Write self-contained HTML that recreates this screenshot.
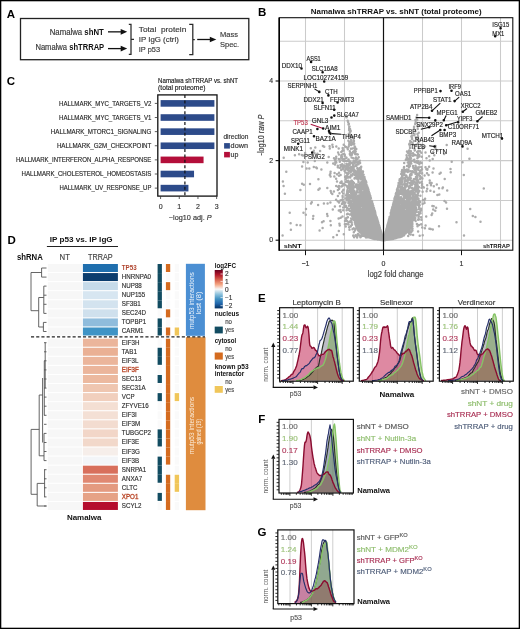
<!DOCTYPE html>
<html><head><meta charset="utf-8"><style>
html,body{margin:0;padding:0;background:#fff;}
svg{display:block;font-family:"Liberation Sans", sans-serif;will-change:transform;}
</style></head><body>
<svg width="520" height="629" viewBox="0 0 520 629">
<rect x="0" y="0" width="520" height="629" fill="#fff"/>
<text x="6.80" y="18.00" font-size="11.5" fill="#000" font-weight="bold">A</text>
<text x="258.00" y="16.10" font-size="11.5" fill="#000" font-weight="bold">B</text>
<text x="6.80" y="84.60" font-size="11.5" fill="#000" font-weight="bold">C</text>
<text x="7.60" y="244.40" font-size="11.5" fill="#000" font-weight="bold">D</text>
<text x="258.00" y="302.00" font-size="11.5" fill="#000" font-weight="bold">E</text>
<text x="258.30" y="422.70" font-size="11.5" fill="#000" font-weight="bold">F</text>
<text x="257.60" y="535.50" font-size="11.5" fill="#000" font-weight="bold">G</text>
<rect x="20.50" y="18.50" width="228.30" height="41.20" fill="none" stroke="#222" stroke-width="1.3" />
<text x="49.7" y="34.5" font-size="8.4" fill="#333" textLength="54.1" lengthAdjust="spacingAndGlyphs"><tspan stroke="#333" stroke-width="0.15">Namalwa </tspan><tspan font-weight="bold" fill="#111">shNT</tspan></text>
<text x="35.4" y="50.4" font-size="8.4" fill="#333" textLength="68.8" lengthAdjust="spacingAndGlyphs"><tspan stroke="#333" stroke-width="0.15">Namalwa </tspan><tspan font-weight="bold" fill="#111">shTRRAP</tspan></text>
<line x1="108.00" y1="31.85" x2="121.70" y2="31.85" stroke="#111" stroke-width="1.3" />
<path d="M120.70,29.05 L127.20,31.85 L120.70,34.65 Z" fill="#111"/>
<line x1="108.00" y1="48.60" x2="121.70" y2="48.60" stroke="#111" stroke-width="1.3" />
<path d="M120.70,45.80 L127.20,48.60 L120.70,51.40 Z" fill="#111"/>
<path d="M128.8,24.4 H131 V54.3 H128.8 M131,39.4 H134" fill="none" stroke="#2a2a2a" stroke-width="1.25"/>
<path d="M189.2,24.4 H192.8 V54.6 H189.2 M192.8,39.5 H194.8" fill="none" stroke="#2a2a2a" stroke-width="1.25"/>
<line x1="197.20" y1="39.50" x2="210.80" y2="39.50" stroke="#111" stroke-width="1.3" />
<path d="M209.80,36.70 L216.30,39.50 L209.80,42.30 Z" fill="#111"/>
<text x="138.80" y="31.80" font-size="7.6" fill="#383838" textLength="47.50" lengthAdjust="spacingAndGlyphs" stroke="#383838" stroke-width="0.15">Total&#160;&#160;protein</text>
<text x="138.80" y="42.20" font-size="7.6" fill="#383838" textLength="40.00" lengthAdjust="spacingAndGlyphs" stroke="#383838" stroke-width="0.15">IP IgG (ctrl)</text>
<text x="138.80" y="52.00" font-size="7.6" fill="#383838" textLength="21.30" lengthAdjust="spacingAndGlyphs" stroke="#383838" stroke-width="0.15">IP p53</text>
<text x="220.00" y="37.20" font-size="7.6" fill="#383838" textLength="17.90" lengthAdjust="spacingAndGlyphs" stroke="#383838" stroke-width="0.15">Mass</text>
<text x="220.00" y="47.30" font-size="7.6" fill="#383838" textLength="19.20" lengthAdjust="spacingAndGlyphs" stroke="#383838" stroke-width="0.15">Spec.</text>
<text x="158.10" y="83.10" font-size="6.6" fill="#222" textLength="80.00" lengthAdjust="spacingAndGlyphs" stroke="#222" stroke-width="0.15">Namalwa shTRRAP vs. shNT</text>
<text x="158.10" y="90.00" font-size="6.6" fill="#222" textLength="47.30" lengthAdjust="spacingAndGlyphs" stroke="#222" stroke-width="0.15">(total proteome)</text>
<rect x="157.80" y="94.90" width="59.20" height="101.20" fill="none" stroke="#111" stroke-width="1.3" />
<rect x="160.60" y="100.10" width="53.80" height="6.60" fill="#2d4b8a" />
<line x1="154.80" y1="103.40" x2="157.80" y2="103.40" stroke="#333" stroke-width="0.8" />
<text x="59.10" y="105.70" font-size="6.5" fill="#2a2a2a" textLength="92.30" lengthAdjust="spacingAndGlyphs" stroke="#2a2a2a" stroke-width="0.15">HALLMARK_MYC_TARGETS_V2</text>
<rect x="160.60" y="114.22" width="53.80" height="6.60" fill="#2d4b8a" />
<line x1="154.80" y1="117.52" x2="157.80" y2="117.52" stroke="#333" stroke-width="0.8" />
<text x="59.10" y="119.82" font-size="6.5" fill="#2a2a2a" textLength="92.30" lengthAdjust="spacingAndGlyphs" stroke="#2a2a2a" stroke-width="0.15">HALLMARK_MYC_TARGETS_V1</text>
<rect x="160.60" y="128.34" width="53.80" height="6.60" fill="#2d4b8a" />
<line x1="154.80" y1="131.64" x2="157.80" y2="131.64" stroke="#333" stroke-width="0.8" />
<text x="50.80" y="133.94" font-size="6.5" fill="#2a2a2a" textLength="100.60" lengthAdjust="spacingAndGlyphs" stroke="#2a2a2a" stroke-width="0.15">HALLMARK_MTORC1_SIGNALING</text>
<rect x="160.60" y="142.46" width="53.80" height="6.60" fill="#2d4b8a" />
<line x1="154.80" y1="145.76" x2="157.80" y2="145.76" stroke="#333" stroke-width="0.8" />
<text x="56.90" y="148.06" font-size="6.5" fill="#2a2a2a" textLength="94.50" lengthAdjust="spacingAndGlyphs" stroke="#2a2a2a" stroke-width="0.15">HALLMARK_G2M_CHECKPOINT</text>
<rect x="160.60" y="156.58" width="42.96" height="6.60" fill="#b40f3a" />
<line x1="154.80" y1="159.88" x2="157.80" y2="159.88" stroke="#333" stroke-width="0.8" />
<text x="16.00" y="162.18" font-size="6.5" fill="#2a2a2a" textLength="135.40" lengthAdjust="spacingAndGlyphs" stroke="#2a2a2a" stroke-width="0.15">HALLMARK_INTERFERON_ALPHA_RESPONSE</text>
<rect x="160.60" y="170.70" width="33.44" height="6.60" fill="#2d4b8a" />
<line x1="154.80" y1="174.00" x2="157.80" y2="174.00" stroke="#333" stroke-width="0.8" />
<text x="21.50" y="176.30" font-size="6.5" fill="#2a2a2a" textLength="129.90" lengthAdjust="spacingAndGlyphs" stroke="#2a2a2a" stroke-width="0.15">HALLMARK_CHOLESTEROL_HOMEOSTASIS</text>
<rect x="160.60" y="184.82" width="27.83" height="6.60" fill="#2d4b8a" />
<line x1="154.80" y1="188.12" x2="157.80" y2="188.12" stroke="#333" stroke-width="0.8" />
<text x="59.40" y="190.42" font-size="6.5" fill="#2a2a2a" textLength="92.00" lengthAdjust="spacingAndGlyphs" stroke="#2a2a2a" stroke-width="0.15">HALLMARK_UV_RESPONSE_UP</text>
<line x1="184.90" y1="95.00" x2="184.90" y2="196.00" stroke="#111" stroke-width="1.2" stroke-dasharray="3,2.4"/>
<line x1="160.60" y1="196.10" x2="160.60" y2="199.00" stroke="#333" stroke-width="0.8" />
<text x="160.60" y="209.00" font-size="7" fill="#333" text-anchor="middle" stroke="#333" stroke-width="0.15">0</text>
<line x1="179.28" y1="196.10" x2="179.28" y2="199.00" stroke="#333" stroke-width="0.8" />
<text x="179.28" y="209.00" font-size="7" fill="#333" text-anchor="middle" stroke="#333" stroke-width="0.15">1</text>
<line x1="197.96" y1="196.10" x2="197.96" y2="199.00" stroke="#333" stroke-width="0.8" />
<text x="197.96" y="209.00" font-size="7" fill="#333" text-anchor="middle" stroke="#333" stroke-width="0.15">2</text>
<line x1="216.64" y1="196.10" x2="216.64" y2="199.00" stroke="#333" stroke-width="0.8" />
<text x="216.64" y="209.00" font-size="7" fill="#333" text-anchor="middle" stroke="#333" stroke-width="0.15">3</text>
<text x="190.20" y="220.20" font-size="7.6" fill="#333" text-anchor="middle" textLength="42.80" lengthAdjust="spacingAndGlyphs" stroke="#333" stroke-width="0.15">&#8722;log10 adj. <tspan font-style="italic">P</tspan></text>
<text x="223.40" y="138.60" font-size="6.8" fill="#333" textLength="25.00" lengthAdjust="spacingAndGlyphs" stroke="#333" stroke-width="0.15">direction</text>
<rect x="224.10" y="143.10" width="5.80" height="5.50" fill="#2d4b8a" />
<text x="230.60" y="148.40" font-size="6.8" fill="#333" textLength="17.40" lengthAdjust="spacingAndGlyphs" stroke="#333" stroke-width="0.15">down</text>
<rect x="224.10" y="151.90" width="5.80" height="5.50" fill="#b40f3a" />
<text x="230.60" y="157.00" font-size="6.8" fill="#333" textLength="7.80" lengthAdjust="spacingAndGlyphs" stroke="#333" stroke-width="0.15">up</text>
<path d="M293.00,307.70V381.20M317.60,307.70V381.20M342.20,307.70V381.20" stroke="#c8c8c8" stroke-width="0.9" fill="none"/>
<text x="282.60" y="317.60" font-size="7.6" fill="#6a6a6a" textLength="15.60" lengthAdjust="spacingAndGlyphs" stroke="#6a6a6a" stroke-width="0.15">1.00</text>
<text x="282.60" y="329.45" font-size="7.6" fill="#9cc27a" textLength="15.60" lengthAdjust="spacingAndGlyphs" stroke="#9cc27a" stroke-width="0.15">1.44</text>
<text x="282.60" y="341.30" font-size="7.6" fill="#b03a5c" textLength="15.60" lengthAdjust="spacingAndGlyphs" stroke="#b03a5c" stroke-width="0.15">0.23</text>
<text x="282.60" y="353.15" font-size="7.6" fill="#5f6775" textLength="15.60" lengthAdjust="spacingAndGlyphs" stroke="#5f6775" stroke-width="0.15">0.77</text>
<path d="M299.00,380.60L299.00,380.60L299.50,380.49L300.00,380.39L300.50,380.30L301.00,380.22L301.50,380.02L302.00,379.83L302.50,379.57L303.00,379.50L303.50,379.18L304.00,379.01L304.50,378.59L305.00,378.47L305.50,378.22L306.00,377.93L306.50,377.50L307.00,377.10L307.50,376.76L308.00,376.35L308.50,375.99L309.00,375.70L309.50,375.27L310.00,374.72L310.50,374.22L311.00,373.82L311.50,373.21L312.00,372.51L312.50,372.05L313.00,371.44L313.50,370.57L314.00,369.84L314.50,369.47L315.00,369.06L315.50,368.40L316.00,367.85L316.50,367.42L317.00,367.02L317.50,366.63L318.00,366.40L318.50,365.72L319.00,363.72L319.50,360.68L320.00,358.45L320.50,356.39L321.00,354.58L321.50,352.39L322.00,349.89L322.50,347.33L323.00,345.04L323.50,342.76L324.00,340.81L324.50,338.43L325.00,336.70L325.50,334.49L326.00,333.05L326.50,330.91L327.00,328.98L327.50,327.07L328.00,325.30L328.50,324.17L329.00,321.97L329.50,321.32L330.00,320.67L330.50,320.59L331.00,320.60L331.50,320.27L332.00,320.54L332.50,320.22L333.00,321.06L333.50,321.15L334.00,323.90L334.50,328.77L335.00,334.84L335.50,340.10L336.00,344.02L336.50,349.25L337.00,353.76L337.50,358.22L338.00,361.69L338.50,365.92L339.00,369.30L339.50,372.42L340.00,374.28L340.50,376.05L341.00,377.61L341.50,378.83L342.00,379.68L342.50,379.99L343.00,380.26L343.50,380.45L344.00,380.60L344.00,380.60Z" fill="rgba(115,115,125,0.42)" stroke="none"/>
<path d="M281.00,380.60L281.00,380.60L281.50,380.59L282.00,380.51L282.50,380.40L283.00,380.33L283.50,380.24L284.00,380.12L284.50,379.95L285.00,379.85L285.50,379.62L286.00,379.29L286.50,378.87L287.00,378.50L287.50,378.19L288.00,377.80L288.50,377.26L289.00,376.76L289.50,376.49L290.00,376.11L290.50,375.65L291.00,374.81L291.50,374.52L292.00,374.16L292.50,374.11L293.00,373.33L293.50,372.13L294.00,371.14L294.50,370.46L295.00,369.70L295.50,368.53L296.00,367.20L296.50,365.97L297.00,364.11L297.50,361.94L298.00,359.81L298.50,357.39L299.00,355.26L299.50,352.26L300.00,349.52L300.50,345.35L301.00,341.39L301.50,337.46L302.00,334.91L302.50,334.19L303.00,332.19L303.50,328.37L304.00,325.49L304.50,324.90L305.00,325.02L305.50,326.42L306.00,327.61L306.50,327.73L307.00,326.91L307.50,326.30L308.00,326.97L308.50,329.74L309.00,335.13L309.50,342.98L310.00,345.91L310.50,346.05L311.00,346.60L311.50,347.38L312.00,348.31L312.50,348.15L313.00,347.93L313.50,347.35L314.00,347.59L314.50,348.43L315.00,349.32L315.50,350.34L316.00,350.49L316.50,351.02L317.00,351.72L317.50,352.63L318.00,354.07L318.50,354.97L319.00,355.84L319.50,355.70L320.00,355.77L320.50,355.31L321.00,354.97L321.50,354.56L322.00,354.41L322.50,354.36L323.00,354.30L323.50,354.04L324.00,353.71L324.50,352.91L325.00,352.28L325.50,351.41L326.00,351.41L326.50,350.67L327.00,350.52L327.50,349.85L328.00,349.79L328.50,349.55L329.00,349.27L329.50,349.49L330.00,349.82L330.50,350.41L331.00,350.16L331.50,350.30L332.00,351.73L332.50,354.08L333.00,356.70L333.50,357.91L334.00,360.16L334.50,361.60L335.00,363.83L335.50,365.79L336.00,367.91L336.50,370.09L337.00,371.98L337.50,373.87L338.00,375.29L338.50,376.55L339.00,377.60L339.50,378.51L340.00,379.05L340.50,379.59L341.00,379.93L341.50,380.26L342.00,380.42L342.50,380.50L343.00,380.53L343.50,380.57L344.00,380.60L344.00,380.60Z" fill="rgba(190,20,70,0.50)" stroke="none"/>
<path d="M296.00,380.60L296.00,380.60L296.50,380.56L297.00,380.50L297.50,380.43L298.00,380.38L298.50,380.26L299.00,380.17L299.50,379.97L300.00,379.89L300.50,379.76L301.00,379.61L301.50,379.29L302.00,378.90L302.50,378.61L303.00,378.32L303.50,378.17L304.00,378.02L304.50,377.77L305.00,377.36L305.50,376.85L306.00,376.47L306.50,376.06L307.00,375.69L307.50,375.46L308.00,375.11L308.50,374.56L309.00,373.96L309.50,373.35L310.00,372.65L310.50,372.27L311.00,371.92L311.50,371.66L312.00,371.11L312.50,370.68L313.00,370.55L313.50,370.20L314.00,369.70L314.50,369.17L315.00,369.11L315.50,369.08L316.00,368.75L316.50,368.33L317.00,368.33L317.50,368.06L318.00,368.14L318.50,367.70L319.00,367.75L319.50,367.45L320.00,367.00L320.50,366.58L321.00,366.21L321.50,365.94L322.00,365.66L322.50,365.32L323.00,365.04L323.50,364.25L324.00,362.95L324.50,361.75L325.00,360.41L325.50,358.77L326.00,356.98L326.50,354.66L327.00,352.69L327.50,350.27L328.00,347.88L328.50,345.50L329.00,343.06L329.50,340.08L330.00,337.03L330.50,334.30L331.00,332.23L331.50,330.16L332.00,327.46L332.50,325.29L333.00,322.83L333.50,322.31L334.00,320.86L334.50,320.91L335.00,321.62L335.50,323.94L336.00,328.83L336.50,335.28L337.00,341.06L337.50,345.98L338.00,349.83L338.50,354.41L339.00,358.50L339.50,363.21L340.00,366.36L340.50,369.80L341.00,372.39L341.50,374.55L342.00,376.32L342.50,377.68L343.00,378.84L343.50,379.49L344.00,380.00L344.50,380.42L345.00,380.60L345.00,380.60Z" fill="rgba(105,165,50,0.40)" stroke="none"/>
<path d="M282.00,380.60L282.00,380.60L282.50,380.60L283.00,380.57L283.50,380.53L284.00,380.50L284.50,380.45L285.00,380.33L285.50,380.19L286.00,380.19L286.50,380.19L287.00,380.18L287.50,379.94L288.00,379.83L288.50,379.57L289.00,379.42L289.50,379.21L290.00,379.17L290.50,379.09L291.00,378.97L291.50,378.75L292.00,378.54L292.50,378.40L293.00,378.17L293.50,377.94L294.00,377.63L294.50,377.51L295.00,377.26L295.50,376.97L296.00,376.83L296.50,376.28L297.00,375.74L297.50,374.97L298.00,374.41L298.50,373.80L299.00,373.05L299.50,372.88L300.00,372.31L300.50,371.63L301.00,370.33L301.50,369.39L302.00,368.65L302.50,368.57L303.00,368.76L303.50,368.39L304.00,367.66L304.50,366.55L305.00,366.23L305.50,365.78L306.00,365.94L306.50,365.53L307.00,365.40L307.50,364.74L308.00,364.44L308.50,364.01L309.00,363.57L309.50,363.06L310.00,362.14L310.50,361.33L311.00,360.69L311.50,360.32L312.00,359.45L312.50,358.89L313.00,358.11L313.50,358.06L314.00,357.72L314.50,357.59L315.00,356.94L315.50,355.88L316.00,354.54L316.50,353.82L317.00,352.86L317.50,351.77L318.00,349.10L318.50,347.20L319.00,344.47L319.50,342.95L320.00,340.63L320.50,340.46L321.00,339.90L321.50,339.20L322.00,338.21L322.50,336.71L323.00,335.17L323.50,333.50L324.00,331.59L324.50,329.99L325.00,328.16L325.50,326.61L326.00,325.03L326.50,322.79L327.00,321.13L327.50,319.92L328.00,318.95L328.50,318.54L329.00,317.93L329.50,318.50L330.00,319.32L330.50,320.77L331.00,322.16L331.50,322.88L332.00,324.14L332.50,326.41L333.00,328.81L333.50,331.56L334.00,333.43L334.50,336.69L335.00,339.75L335.50,343.09L336.00,346.41L336.50,350.80L337.00,355.05L337.50,358.68L338.00,362.37L338.50,365.80L339.00,369.74L339.50,372.48L340.00,375.02L340.50,377.08L341.00,378.53L341.50,379.48L342.00,380.01L342.50,380.46L343.00,380.60L343.00,380.60Z" fill="rgba(80,90,160,0.07)" stroke="none"/>
<path d="M299.00,380.60L299.00,380.60L299.50,380.49L300.00,380.39L300.50,380.30L301.00,380.22L301.50,380.02L302.00,379.83L302.50,379.57L303.00,379.50L303.50,379.18L304.00,379.01L304.50,378.59L305.00,378.47L305.50,378.22L306.00,377.93L306.50,377.50L307.00,377.10L307.50,376.76L308.00,376.35L308.50,375.99L309.00,375.70L309.50,375.27L310.00,374.72L310.50,374.22L311.00,373.82L311.50,373.21L312.00,372.51L312.50,372.05L313.00,371.44L313.50,370.57L314.00,369.84L314.50,369.47L315.00,369.06L315.50,368.40L316.00,367.85L316.50,367.42L317.00,367.02L317.50,366.63L318.00,366.40L318.50,365.72L319.00,363.72L319.50,360.68L320.00,358.45L320.50,356.39L321.00,354.58L321.50,352.39L322.00,349.89L322.50,347.33L323.00,345.04L323.50,342.76L324.00,340.81L324.50,338.43L325.00,336.70L325.50,334.49L326.00,333.05L326.50,330.91L327.00,328.98L327.50,327.07L328.00,325.30L328.50,324.17L329.00,321.97L329.50,321.32L330.00,320.67L330.50,320.59L331.00,320.60L331.50,320.27L332.00,320.54L332.50,320.22L333.00,321.06L333.50,321.15L334.00,323.90L334.50,328.77L335.00,334.84L335.50,340.10L336.00,344.02L336.50,349.25L337.00,353.76L337.50,358.22L338.00,361.69L338.50,365.92L339.00,369.30L339.50,372.42L340.00,374.28L340.50,376.05L341.00,377.61L341.50,378.83L342.00,379.68L342.50,379.99L343.00,380.26L343.50,380.45L344.00,380.60" fill="none" stroke="#2a3326" stroke-width="1.15" stroke-linejoin="round"/>
<path d="M296.00,380.60L296.00,380.60L296.50,380.56L297.00,380.50L297.50,380.43L298.00,380.38L298.50,380.26L299.00,380.17L299.50,379.97L300.00,379.89L300.50,379.76L301.00,379.61L301.50,379.29L302.00,378.90L302.50,378.61L303.00,378.32L303.50,378.17L304.00,378.02L304.50,377.77L305.00,377.36L305.50,376.85L306.00,376.47L306.50,376.06L307.00,375.69L307.50,375.46L308.00,375.11L308.50,374.56L309.00,373.96L309.50,373.35L310.00,372.65L310.50,372.27L311.00,371.92L311.50,371.66L312.00,371.11L312.50,370.68L313.00,370.55L313.50,370.20L314.00,369.70L314.50,369.17L315.00,369.11L315.50,369.08L316.00,368.75L316.50,368.33L317.00,368.33L317.50,368.06L318.00,368.14L318.50,367.70L319.00,367.75L319.50,367.45L320.00,367.00L320.50,366.58L321.00,366.21L321.50,365.94L322.00,365.66L322.50,365.32L323.00,365.04L323.50,364.25L324.00,362.95L324.50,361.75L325.00,360.41L325.50,358.77L326.00,356.98L326.50,354.66L327.00,352.69L327.50,350.27L328.00,347.88L328.50,345.50L329.00,343.06L329.50,340.08L330.00,337.03L330.50,334.30L331.00,332.23L331.50,330.16L332.00,327.46L332.50,325.29L333.00,322.83L333.50,322.31L334.00,320.86L334.50,320.91L335.00,321.62L335.50,323.94L336.00,328.83L336.50,335.28L337.00,341.06L337.50,345.98L338.00,349.83L338.50,354.41L339.00,358.50L339.50,363.21L340.00,366.36L340.50,369.80L341.00,372.39L341.50,374.55L342.00,376.32L342.50,377.68L343.00,378.84L343.50,379.49L344.00,380.00L344.50,380.42L345.00,380.60" fill="none" stroke="#86c466" stroke-width="1.4" stroke-linejoin="round"/>
<path d="M281.00,380.60L281.00,380.60L281.50,380.59L282.00,380.51L282.50,380.40L283.00,380.33L283.50,380.24L284.00,380.12L284.50,379.95L285.00,379.85L285.50,379.62L286.00,379.29L286.50,378.87L287.00,378.50L287.50,378.19L288.00,377.80L288.50,377.26L289.00,376.76L289.50,376.49L290.00,376.11L290.50,375.65L291.00,374.81L291.50,374.52L292.00,374.16L292.50,374.11L293.00,373.33L293.50,372.13L294.00,371.14L294.50,370.46L295.00,369.70L295.50,368.53L296.00,367.20L296.50,365.97L297.00,364.11L297.50,361.94L298.00,359.81L298.50,357.39L299.00,355.26L299.50,352.26L300.00,349.52L300.50,345.35L301.00,341.39L301.50,337.46L302.00,334.91L302.50,334.19L303.00,332.19L303.50,328.37L304.00,325.49L304.50,324.90L305.00,325.02L305.50,326.42L306.00,327.61L306.50,327.73L307.00,326.91L307.50,326.30L308.00,326.97L308.50,329.74L309.00,335.13L309.50,342.98L310.00,345.91L310.50,346.05L311.00,346.60L311.50,347.38L312.00,348.31L312.50,348.15L313.00,347.93L313.50,347.35L314.00,347.59L314.50,348.43L315.00,349.32L315.50,350.34L316.00,350.49L316.50,351.02L317.00,351.72L317.50,352.63L318.00,354.07L318.50,354.97L319.00,355.84L319.50,355.70L320.00,355.77L320.50,355.31L321.00,354.97L321.50,354.56L322.00,354.41L322.50,354.36L323.00,354.30L323.50,354.04L324.00,353.71L324.50,352.91L325.00,352.28L325.50,351.41L326.00,351.41L326.50,350.67L327.00,350.52L327.50,349.85L328.00,349.79L328.50,349.55L329.00,349.27L329.50,349.49L330.00,349.82L330.50,350.41L331.00,350.16L331.50,350.30L332.00,351.73L332.50,354.08L333.00,356.70L333.50,357.91L334.00,360.16L334.50,361.60L335.00,363.83L335.50,365.79L336.00,367.91L336.50,370.09L337.00,371.98L337.50,373.87L338.00,375.29L338.50,376.55L339.00,377.60L339.50,378.51L340.00,379.05L340.50,379.59L341.00,379.93L341.50,380.26L342.00,380.42L342.50,380.50L343.00,380.53L343.50,380.57L344.00,380.60" fill="none" stroke="#8a0c30" stroke-width="1.4" stroke-linejoin="round"/>
<path d="M282.00,380.60L282.00,380.60L282.50,380.60L283.00,380.57L283.50,380.53L284.00,380.50L284.50,380.45L285.00,380.33L285.50,380.19L286.00,380.19L286.50,380.19L287.00,380.18L287.50,379.94L288.00,379.83L288.50,379.57L289.00,379.42L289.50,379.21L290.00,379.17L290.50,379.09L291.00,378.97L291.50,378.75L292.00,378.54L292.50,378.40L293.00,378.17L293.50,377.94L294.00,377.63L294.50,377.51L295.00,377.26L295.50,376.97L296.00,376.83L296.50,376.28L297.00,375.74L297.50,374.97L298.00,374.41L298.50,373.80L299.00,373.05L299.50,372.88L300.00,372.31L300.50,371.63L301.00,370.33L301.50,369.39L302.00,368.65L302.50,368.57L303.00,368.76L303.50,368.39L304.00,367.66L304.50,366.55L305.00,366.23L305.50,365.78L306.00,365.94L306.50,365.53L307.00,365.40L307.50,364.74L308.00,364.44L308.50,364.01L309.00,363.57L309.50,363.06L310.00,362.14L310.50,361.33L311.00,360.69L311.50,360.32L312.00,359.45L312.50,358.89L313.00,358.11L313.50,358.06L314.00,357.72L314.50,357.59L315.00,356.94L315.50,355.88L316.00,354.54L316.50,353.82L317.00,352.86L317.50,351.77L318.00,349.10L318.50,347.20L319.00,344.47L319.50,342.95L320.00,340.63L320.50,340.46L321.00,339.90L321.50,339.20L322.00,338.21L322.50,336.71L323.00,335.17L323.50,333.50L324.00,331.59L324.50,329.99L325.00,328.16L325.50,326.61L326.00,325.03L326.50,322.79L327.00,321.13L327.50,319.92L328.00,318.95L328.50,318.54L329.00,317.93L329.50,318.50L330.00,319.32L330.50,320.77L331.00,322.16L331.50,322.88L332.00,324.14L332.50,326.41L333.00,328.81L333.50,331.56L334.00,333.43L334.50,336.69L335.00,339.75L335.50,343.09L336.00,346.41L336.50,350.80L337.00,355.05L337.50,358.68L338.00,362.37L338.50,365.80L339.00,369.74L339.50,372.48L340.00,375.02L340.50,377.08L341.00,378.53L341.50,379.48L342.00,380.01L342.50,380.46L343.00,380.60" fill="none" stroke="#26306a" stroke-width="1.15" stroke-linejoin="round"/>
<rect x="279.60" y="307.70" width="73.70" height="73.50" fill="none" stroke="#111" stroke-width="1.2"/>
<path d="M277.20,378.00H279.60M277.20,374.45H279.60M277.20,370.90H279.60M277.20,367.35H279.60M277.20,363.80H279.60M277.20,360.25H279.60M277.20,356.70H279.60M277.20,353.15H279.60M277.20,349.60H279.60M277.20,346.05H279.60M277.20,342.50H279.60M277.20,338.95H279.60M277.20,335.40H279.60M277.20,331.85H279.60M277.20,328.30H279.60M277.20,324.75H279.60M277.20,321.20H279.60M277.20,317.65H279.60M277.20,314.10H279.60M277.20,310.55H279.60M280.14,381.20V383.00M283.21,381.20V383.00M285.59,381.20V383.00M287.54,381.20V383.00M289.19,381.20V383.00M290.62,381.20V383.00M291.87,381.20V383.00M293.00,381.20V384.00M300.41,381.20V383.00M304.74,381.20V383.00M307.81,381.20V383.00M310.19,381.20V383.00M312.14,381.20V383.00M313.79,381.20V383.00M315.22,381.20V383.00M316.47,381.20V383.00M317.60,381.20V384.00M325.01,381.20V383.00M329.34,381.20V383.00M332.41,381.20V383.00M334.79,381.20V383.00M336.74,381.20V383.00M338.39,381.20V383.00M339.82,381.20V383.00M341.07,381.20V383.00M342.20,381.20V384.00M349.61,381.20V383.00" stroke="#111" stroke-width="0.9" fill="none"/>
<text x="316.60" y="305.10" font-size="7.6" fill="#333" text-anchor="middle" textLength="48.40" lengthAdjust="spacingAndGlyphs" stroke="#333" stroke-width="0.15">Leptomycin B</text>
<path d="M372.40,307.70V381.20M397.30,307.70V381.20M422.30,307.70V381.20" stroke="#c8c8c8" stroke-width="0.9" fill="none"/>
<text x="362.30" y="317.60" font-size="7.6" fill="#6a6a6a" textLength="15.60" lengthAdjust="spacingAndGlyphs" stroke="#6a6a6a" stroke-width="0.15">1.00</text>
<text x="362.30" y="329.45" font-size="7.6" fill="#9cc27a" textLength="15.60" lengthAdjust="spacingAndGlyphs" stroke="#9cc27a" stroke-width="0.15">1.79</text>
<text x="362.30" y="341.30" font-size="7.6" fill="#b03a5c" textLength="15.60" lengthAdjust="spacingAndGlyphs" stroke="#b03a5c" stroke-width="0.15">0.23</text>
<text x="362.30" y="353.15" font-size="7.6" fill="#5f6775" textLength="15.60" lengthAdjust="spacingAndGlyphs" stroke="#5f6775" stroke-width="0.15">1.18</text>
<path d="M378.00,380.60L378.00,380.60L378.50,380.57L379.00,380.50L379.50,380.41L380.00,380.32L380.50,380.08L381.00,379.84L381.50,379.66L382.00,379.55L382.50,379.38L383.00,379.14L383.50,378.87L384.00,378.57L384.50,378.13L385.00,377.80L385.50,377.62L386.00,377.44L386.50,377.34L387.00,376.98L387.50,376.77L388.00,375.87L388.50,375.31L389.00,374.66L389.50,374.46L390.00,374.36L390.50,373.73L391.00,372.90L391.50,372.05L392.00,371.46L392.50,371.01L393.00,370.56L393.50,369.93L394.00,369.24L394.50,368.32L395.00,367.90L395.50,367.37L396.00,367.06L396.50,366.33L397.00,365.54L397.50,364.68L398.00,363.62L398.50,363.02L399.00,362.21L399.50,361.39L400.00,360.12L400.50,357.77L401.00,356.05L401.50,353.37L402.00,351.50L402.50,348.97L403.00,347.55L403.50,345.58L404.00,343.48L404.50,341.38L405.00,339.58L405.50,338.59L406.00,336.42L406.50,334.10L407.00,331.62L407.50,329.74L408.00,328.25L408.50,326.55L409.00,325.33L409.50,323.60L410.00,322.33L410.50,321.75L411.00,321.07L411.50,320.18L412.00,318.46L412.50,317.74L413.00,320.59L413.50,325.47L414.00,331.46L414.50,336.81L415.00,340.68L415.50,345.11L416.00,348.40L416.50,352.50L417.00,355.77L417.50,360.14L418.00,363.52L418.50,366.72L419.00,369.29L419.50,371.67L420.00,374.24L420.50,376.33L421.00,377.95L421.50,378.96L422.00,379.63L422.50,380.25L423.00,380.60L423.00,380.60Z" fill="rgba(115,115,125,0.42)" stroke="none"/>
<path d="M361.00,380.60L361.00,380.60L361.50,380.59L362.00,380.56L362.50,380.53L363.00,380.42L363.50,380.28L364.00,380.10L364.50,379.93L365.00,379.84L365.50,379.72L366.00,379.60L366.50,379.36L367.00,379.01L367.50,378.50L368.00,377.76L368.50,376.99L369.00,376.42L369.50,375.88L370.00,375.19L370.50,374.57L371.00,373.81L371.50,373.02L372.00,372.22L372.50,371.53L373.00,370.90L373.50,369.87L374.00,368.81L374.50,367.95L375.00,367.18L375.50,366.81L376.00,366.20L376.50,365.35L377.00,364.10L377.50,362.88L378.00,361.39L378.50,359.04L379.00,355.90L379.50,352.60L380.00,347.56L380.50,341.39L381.00,336.98L381.50,333.57L382.00,331.47L382.50,329.00L383.00,327.23L383.50,327.25L384.00,326.77L384.50,327.52L385.00,326.98L385.50,327.21L386.00,327.36L386.50,327.16L387.00,326.36L387.50,325.69L388.00,326.97L388.50,331.39L389.00,334.56L389.50,338.63L390.00,341.40L390.50,345.21L391.00,347.25L391.50,348.18L392.00,347.61L392.50,347.54L393.00,347.91L393.50,349.10L394.00,349.56L394.50,350.12L395.00,350.15L395.50,350.88L396.00,351.38L396.50,352.26L397.00,352.90L397.50,353.38L398.00,353.82L398.50,354.49L399.00,355.02L399.50,355.67L400.00,355.40L400.50,355.32L401.00,355.07L401.50,354.70L402.00,354.44L402.50,353.81L403.00,353.17L403.50,353.42L404.00,353.63L404.50,353.01L405.00,352.39L405.50,351.44L406.00,351.57L406.50,350.86L407.00,350.81L407.50,349.62L408.00,349.57L408.50,349.07L409.00,349.72L409.50,349.71L410.00,351.15L410.50,352.41L411.00,354.15L411.50,354.93L412.00,356.35L412.50,358.17L413.00,360.11L413.50,362.21L414.00,363.86L414.50,365.68L415.00,367.38L415.50,369.20L416.00,370.85L416.50,372.06L417.00,373.67L417.50,374.98L418.00,376.06L418.50,376.98L419.00,377.85L419.50,378.65L420.00,379.00L420.50,379.15L421.00,379.44L421.50,379.66L422.00,380.02L422.50,380.32L423.00,380.55L423.50,380.60L424.00,380.60L424.00,380.60Z" fill="rgba(190,20,70,0.50)" stroke="none"/>
<path d="M378.00,380.60L378.00,380.60L378.50,380.58L379.00,380.56L379.50,380.46L380.00,380.37L380.50,380.24L381.00,380.20L381.50,380.10L382.00,379.98L382.50,379.74L383.00,379.68L383.50,379.41L384.00,379.27L384.50,379.04L385.00,378.97L385.50,378.77L386.00,378.70L386.50,378.44L387.00,378.24L387.50,377.71L388.00,377.48L388.50,376.93L389.00,376.67L389.50,376.31L390.00,376.01L390.50,375.44L391.00,374.99L391.50,374.93L392.00,374.81L392.50,374.54L393.00,374.11L393.50,373.54L394.00,373.02L394.50,372.57L395.00,372.37L395.50,372.05L396.00,371.55L396.50,371.07L397.00,370.72L397.50,370.41L398.00,369.68L398.50,369.03L399.00,368.52L399.50,367.95L400.00,367.32L400.50,366.71L401.00,366.11L401.50,365.34L402.00,364.16L402.50,363.00L403.00,361.37L403.50,359.79L404.00,358.22L404.50,356.47L405.00,353.99L405.50,351.91L406.00,349.54L406.50,346.77L407.00,344.18L407.50,341.01L408.00,338.78L408.50,336.10L409.00,334.65L409.50,332.60L410.00,330.11L410.50,327.13L411.00,325.27L411.50,323.17L412.00,321.31L412.50,320.37L413.00,318.98L413.50,318.23L414.00,317.05L414.50,317.32L415.00,317.13L415.50,318.37L416.00,321.56L416.50,326.80L417.00,333.63L417.50,338.78L418.00,343.22L418.50,347.42L419.00,350.62L419.50,354.20L420.00,357.49L420.50,361.71L421.00,365.50L421.50,368.77L422.00,371.39L422.50,373.44L423.00,375.45L423.50,377.04L424.00,378.09L424.50,378.92L425.00,379.63L425.50,380.27L426.00,380.60L426.00,380.60Z" fill="rgba(105,165,50,0.40)" stroke="none"/>
<path d="M372.00,380.60L372.00,380.60L372.50,380.60L373.00,380.57L373.50,380.56L374.00,380.50L374.50,380.45L375.00,380.36L375.50,380.26L376.00,380.24L376.50,380.22L377.00,380.12L377.50,379.95L378.00,379.81L378.50,379.64L379.00,379.64L379.50,379.47L380.00,379.30L380.50,378.95L381.00,378.51L381.50,378.23L382.00,377.92L382.50,377.74L383.00,377.36L383.50,376.93L384.00,376.44L384.50,375.83L385.00,375.36L385.50,375.03L386.00,374.37L386.50,374.04L387.00,373.58L387.50,373.41L388.00,372.77L388.50,372.41L389.00,372.48L389.50,372.47L390.00,371.76L390.50,371.21L391.00,370.80L391.50,370.61L392.00,369.95L392.50,369.62L393.00,369.25L393.50,369.29L394.00,368.17L394.50,367.25L395.00,366.26L395.50,366.12L396.00,365.70L396.50,365.63L397.00,364.78L397.50,364.37L398.00,363.26L398.50,362.42L399.00,360.98L399.50,359.10L400.00,356.58L400.50,353.82L401.00,352.00L401.50,350.26L402.00,348.77L402.50,346.42L403.00,344.85L403.50,343.16L404.00,341.69L404.50,339.08L405.00,336.57L405.50,335.15L406.00,334.19L406.50,332.59L407.00,330.64L407.50,329.13L408.00,326.62L408.50,323.99L409.00,321.91L409.50,321.54L410.00,321.92L410.50,321.98L411.00,321.82L411.50,321.33L412.00,319.99L412.50,318.58L413.00,320.89L413.50,325.08L414.00,330.71L414.50,335.93L415.00,340.26L415.50,344.42L416.00,347.71L416.50,351.44L417.00,355.27L417.50,359.39L418.00,363.48L418.50,366.81L419.00,369.87L419.50,372.29L420.00,374.57L420.50,376.56L421.00,377.96L421.50,378.99L422.00,379.72L422.50,380.25L423.00,380.60L423.00,380.60Z" fill="rgba(80,90,160,0.07)" stroke="none"/>
<path d="M378.00,380.60L378.00,380.60L378.50,380.57L379.00,380.50L379.50,380.41L380.00,380.32L380.50,380.08L381.00,379.84L381.50,379.66L382.00,379.55L382.50,379.38L383.00,379.14L383.50,378.87L384.00,378.57L384.50,378.13L385.00,377.80L385.50,377.62L386.00,377.44L386.50,377.34L387.00,376.98L387.50,376.77L388.00,375.87L388.50,375.31L389.00,374.66L389.50,374.46L390.00,374.36L390.50,373.73L391.00,372.90L391.50,372.05L392.00,371.46L392.50,371.01L393.00,370.56L393.50,369.93L394.00,369.24L394.50,368.32L395.00,367.90L395.50,367.37L396.00,367.06L396.50,366.33L397.00,365.54L397.50,364.68L398.00,363.62L398.50,363.02L399.00,362.21L399.50,361.39L400.00,360.12L400.50,357.77L401.00,356.05L401.50,353.37L402.00,351.50L402.50,348.97L403.00,347.55L403.50,345.58L404.00,343.48L404.50,341.38L405.00,339.58L405.50,338.59L406.00,336.42L406.50,334.10L407.00,331.62L407.50,329.74L408.00,328.25L408.50,326.55L409.00,325.33L409.50,323.60L410.00,322.33L410.50,321.75L411.00,321.07L411.50,320.18L412.00,318.46L412.50,317.74L413.00,320.59L413.50,325.47L414.00,331.46L414.50,336.81L415.00,340.68L415.50,345.11L416.00,348.40L416.50,352.50L417.00,355.77L417.50,360.14L418.00,363.52L418.50,366.72L419.00,369.29L419.50,371.67L420.00,374.24L420.50,376.33L421.00,377.95L421.50,378.96L422.00,379.63L422.50,380.25L423.00,380.60" fill="none" stroke="#2a3326" stroke-width="1.15" stroke-linejoin="round"/>
<path d="M378.00,380.60L378.00,380.60L378.50,380.58L379.00,380.56L379.50,380.46L380.00,380.37L380.50,380.24L381.00,380.20L381.50,380.10L382.00,379.98L382.50,379.74L383.00,379.68L383.50,379.41L384.00,379.27L384.50,379.04L385.00,378.97L385.50,378.77L386.00,378.70L386.50,378.44L387.00,378.24L387.50,377.71L388.00,377.48L388.50,376.93L389.00,376.67L389.50,376.31L390.00,376.01L390.50,375.44L391.00,374.99L391.50,374.93L392.00,374.81L392.50,374.54L393.00,374.11L393.50,373.54L394.00,373.02L394.50,372.57L395.00,372.37L395.50,372.05L396.00,371.55L396.50,371.07L397.00,370.72L397.50,370.41L398.00,369.68L398.50,369.03L399.00,368.52L399.50,367.95L400.00,367.32L400.50,366.71L401.00,366.11L401.50,365.34L402.00,364.16L402.50,363.00L403.00,361.37L403.50,359.79L404.00,358.22L404.50,356.47L405.00,353.99L405.50,351.91L406.00,349.54L406.50,346.77L407.00,344.18L407.50,341.01L408.00,338.78L408.50,336.10L409.00,334.65L409.50,332.60L410.00,330.11L410.50,327.13L411.00,325.27L411.50,323.17L412.00,321.31L412.50,320.37L413.00,318.98L413.50,318.23L414.00,317.05L414.50,317.32L415.00,317.13L415.50,318.37L416.00,321.56L416.50,326.80L417.00,333.63L417.50,338.78L418.00,343.22L418.50,347.42L419.00,350.62L419.50,354.20L420.00,357.49L420.50,361.71L421.00,365.50L421.50,368.77L422.00,371.39L422.50,373.44L423.00,375.45L423.50,377.04L424.00,378.09L424.50,378.92L425.00,379.63L425.50,380.27L426.00,380.60" fill="none" stroke="#86c466" stroke-width="1.4" stroke-linejoin="round"/>
<path d="M361.00,380.60L361.00,380.60L361.50,380.59L362.00,380.56L362.50,380.53L363.00,380.42L363.50,380.28L364.00,380.10L364.50,379.93L365.00,379.84L365.50,379.72L366.00,379.60L366.50,379.36L367.00,379.01L367.50,378.50L368.00,377.76L368.50,376.99L369.00,376.42L369.50,375.88L370.00,375.19L370.50,374.57L371.00,373.81L371.50,373.02L372.00,372.22L372.50,371.53L373.00,370.90L373.50,369.87L374.00,368.81L374.50,367.95L375.00,367.18L375.50,366.81L376.00,366.20L376.50,365.35L377.00,364.10L377.50,362.88L378.00,361.39L378.50,359.04L379.00,355.90L379.50,352.60L380.00,347.56L380.50,341.39L381.00,336.98L381.50,333.57L382.00,331.47L382.50,329.00L383.00,327.23L383.50,327.25L384.00,326.77L384.50,327.52L385.00,326.98L385.50,327.21L386.00,327.36L386.50,327.16L387.00,326.36L387.50,325.69L388.00,326.97L388.50,331.39L389.00,334.56L389.50,338.63L390.00,341.40L390.50,345.21L391.00,347.25L391.50,348.18L392.00,347.61L392.50,347.54L393.00,347.91L393.50,349.10L394.00,349.56L394.50,350.12L395.00,350.15L395.50,350.88L396.00,351.38L396.50,352.26L397.00,352.90L397.50,353.38L398.00,353.82L398.50,354.49L399.00,355.02L399.50,355.67L400.00,355.40L400.50,355.32L401.00,355.07L401.50,354.70L402.00,354.44L402.50,353.81L403.00,353.17L403.50,353.42L404.00,353.63L404.50,353.01L405.00,352.39L405.50,351.44L406.00,351.57L406.50,350.86L407.00,350.81L407.50,349.62L408.00,349.57L408.50,349.07L409.00,349.72L409.50,349.71L410.00,351.15L410.50,352.41L411.00,354.15L411.50,354.93L412.00,356.35L412.50,358.17L413.00,360.11L413.50,362.21L414.00,363.86L414.50,365.68L415.00,367.38L415.50,369.20L416.00,370.85L416.50,372.06L417.00,373.67L417.50,374.98L418.00,376.06L418.50,376.98L419.00,377.85L419.50,378.65L420.00,379.00L420.50,379.15L421.00,379.44L421.50,379.66L422.00,380.02L422.50,380.32L423.00,380.55L423.50,380.60L424.00,380.60" fill="none" stroke="#8a0c30" stroke-width="1.4" stroke-linejoin="round"/>
<path d="M372.00,380.60L372.00,380.60L372.50,380.60L373.00,380.57L373.50,380.56L374.00,380.50L374.50,380.45L375.00,380.36L375.50,380.26L376.00,380.24L376.50,380.22L377.00,380.12L377.50,379.95L378.00,379.81L378.50,379.64L379.00,379.64L379.50,379.47L380.00,379.30L380.50,378.95L381.00,378.51L381.50,378.23L382.00,377.92L382.50,377.74L383.00,377.36L383.50,376.93L384.00,376.44L384.50,375.83L385.00,375.36L385.50,375.03L386.00,374.37L386.50,374.04L387.00,373.58L387.50,373.41L388.00,372.77L388.50,372.41L389.00,372.48L389.50,372.47L390.00,371.76L390.50,371.21L391.00,370.80L391.50,370.61L392.00,369.95L392.50,369.62L393.00,369.25L393.50,369.29L394.00,368.17L394.50,367.25L395.00,366.26L395.50,366.12L396.00,365.70L396.50,365.63L397.00,364.78L397.50,364.37L398.00,363.26L398.50,362.42L399.00,360.98L399.50,359.10L400.00,356.58L400.50,353.82L401.00,352.00L401.50,350.26L402.00,348.77L402.50,346.42L403.00,344.85L403.50,343.16L404.00,341.69L404.50,339.08L405.00,336.57L405.50,335.15L406.00,334.19L406.50,332.59L407.00,330.64L407.50,329.13L408.00,326.62L408.50,323.99L409.00,321.91L409.50,321.54L410.00,321.92L410.50,321.98L411.00,321.82L411.50,321.33L412.00,319.99L412.50,318.58L413.00,320.89L413.50,325.08L414.00,330.71L414.50,335.93L415.00,340.26L415.50,344.42L416.00,347.71L416.50,351.44L417.00,355.27L417.50,359.39L418.00,363.48L418.50,366.81L419.00,369.87L419.50,372.29L420.00,374.57L420.50,376.56L421.00,377.96L421.50,378.99L422.00,379.72L422.50,380.25L423.00,380.60" fill="none" stroke="#26306a" stroke-width="1.15" stroke-linejoin="round"/>
<rect x="359.30" y="307.70" width="73.90" height="73.50" fill="none" stroke="#111" stroke-width="1.2"/>
<path d="M356.90,378.00H359.30M356.90,374.45H359.30M356.90,370.90H359.30M356.90,367.35H359.30M356.90,363.80H359.30M356.90,360.25H359.30M356.90,356.70H359.30M356.90,353.15H359.30M356.90,349.60H359.30M356.90,346.05H359.30M356.90,342.50H359.30M356.90,338.95H359.30M356.90,335.40H359.30M356.90,331.85H359.30M356.90,328.30H359.30M356.90,324.75H359.30M356.90,321.20H359.30M356.90,317.65H359.30M356.90,314.10H359.30M356.90,310.55H359.30M362.49,381.20V383.00M364.90,381.20V383.00M366.88,381.20V383.00M368.54,381.20V383.00M369.99,381.20V383.00M371.26,381.20V383.00M372.40,381.20V384.00M379.90,381.20V383.00M384.28,381.20V383.00M387.39,381.20V383.00M389.80,381.20V383.00M391.78,381.20V383.00M393.44,381.20V383.00M394.89,381.20V383.00M396.16,381.20V383.00M397.30,381.20V384.00M404.80,381.20V383.00M409.18,381.20V383.00M412.29,381.20V383.00M414.70,381.20V383.00M416.68,381.20V383.00M418.34,381.20V383.00M419.79,381.20V383.00M421.06,381.20V383.00M422.20,381.20V384.00M429.70,381.20V383.00" stroke="#111" stroke-width="0.9" fill="none"/>
<text x="396.40" y="305.10" font-size="7.6" fill="#333" text-anchor="middle" textLength="33.00" lengthAdjust="spacingAndGlyphs" stroke="#333" stroke-width="0.15">Selinexor</text>
<path d="M452.60,307.70V381.20M477.50,307.70V381.20M502.40,307.70V381.20" stroke="#c8c8c8" stroke-width="0.9" fill="none"/>
<text x="442.40" y="317.60" font-size="7.6" fill="#6a6a6a" textLength="15.60" lengthAdjust="spacingAndGlyphs" stroke="#6a6a6a" stroke-width="0.15">1.00</text>
<text x="442.40" y="329.45" font-size="7.6" fill="#9cc27a" textLength="15.60" lengthAdjust="spacingAndGlyphs" stroke="#9cc27a" stroke-width="0.15">1.76</text>
<text x="442.40" y="341.30" font-size="7.6" fill="#b03a5c" textLength="15.60" lengthAdjust="spacingAndGlyphs" stroke="#b03a5c" stroke-width="0.15">0.23</text>
<text x="442.40" y="353.15" font-size="7.6" fill="#5f6775" textLength="15.60" lengthAdjust="spacingAndGlyphs" stroke="#5f6775" stroke-width="0.15">1.12</text>
<path d="M455.00,380.60L455.00,380.60L455.50,380.59L456.00,380.54L456.50,380.48L457.00,380.41L457.50,380.36L458.00,380.29L458.50,380.16L459.00,380.06L459.50,379.91L460.00,379.82L460.50,379.63L461.00,379.51L461.50,379.21L462.00,379.09L462.50,378.87L463.00,378.80L463.50,378.52L464.00,378.30L464.50,378.08L465.00,377.84L465.50,377.78L466.00,377.55L466.50,377.46L467.00,376.95L467.50,376.71L468.00,376.29L468.50,375.90L469.00,375.13L469.50,374.44L470.00,373.87L470.50,373.34L471.00,373.00L471.50,372.81L472.00,372.54L472.50,371.85L473.00,370.67L473.50,369.55L474.00,368.99L474.50,367.98L475.00,367.26L475.50,365.96L476.00,365.45L476.50,364.31L477.00,363.47L477.50,362.61L478.00,362.05L478.50,361.22L479.00,359.67L479.50,358.29L480.00,356.32L480.50,354.74L481.00,353.36L481.50,351.43L482.00,350.21L482.50,348.00L483.00,347.23L483.50,345.10L484.00,343.93L484.50,341.66L485.00,340.24L485.50,338.96L486.00,337.57L486.50,335.46L487.00,332.54L487.50,330.80L488.00,329.83L488.50,328.73L489.00,326.53L489.50,324.23L490.00,322.70L490.50,321.22L491.00,319.84L491.50,318.57L492.00,318.93L492.50,319.28L493.00,320.19L493.50,321.35L494.00,322.28L494.50,324.95L495.00,329.36L495.50,334.67L496.00,339.41L496.50,343.21L497.00,347.44L497.50,351.52L498.00,356.03L498.50,360.22L499.00,364.02L499.50,367.83L500.00,371.28L500.50,374.04L501.00,375.84L501.50,377.60L502.00,379.04L502.50,379.92L503.00,380.26L503.50,380.50L504.00,380.60L504.00,380.60Z" fill="rgba(115,115,125,0.42)" stroke="none"/>
<path d="M441.00,380.60L441.00,380.60L441.50,380.53L442.00,380.48L442.50,380.42L443.00,380.38L443.50,380.28L444.00,380.30L444.50,380.23L445.00,380.22L445.50,380.14L446.00,380.16L446.50,379.96L447.00,379.86L447.50,379.70L448.00,379.68L448.50,379.61L449.00,379.52L449.50,379.58L450.00,379.48L450.50,379.44L451.00,379.23L451.50,379.11L452.00,379.05L452.50,379.06L453.00,378.96L453.50,378.57L454.00,378.11L454.50,377.65L455.00,377.52L455.50,377.42L456.00,377.07L456.50,376.29L457.00,375.20L457.50,373.97L458.00,372.62L458.50,371.16L459.00,369.17L459.50,366.04L460.00,362.15L460.50,357.33L461.00,351.36L461.50,346.51L462.00,341.68L462.50,338.39L463.00,334.09L463.50,330.24L464.00,327.68L464.50,326.20L465.00,325.68L465.50,326.45L466.00,327.94L466.50,329.27L467.00,327.72L467.50,327.01L468.00,328.05L468.50,332.76L469.00,336.45L469.50,339.11L470.00,342.64L470.50,344.57L471.00,345.97L471.50,345.99L472.00,346.45L472.50,347.51L473.00,347.49L473.50,348.62L474.00,349.50L474.50,350.52L475.00,350.12L475.50,350.08L476.00,350.30L476.50,351.68L477.00,353.18L477.50,354.32L478.00,354.73L478.50,354.40L479.00,354.84L479.50,355.43L480.00,355.95L480.50,355.63L481.00,354.86L481.50,354.08L482.00,354.09L482.50,353.82L483.00,353.47L483.50,352.50L484.00,352.00L484.50,351.52L485.00,350.89L485.50,350.38L486.00,349.74L486.50,349.63L487.00,349.12L487.50,348.94L488.00,349.25L488.50,349.47L489.00,350.17L489.50,350.27L490.00,351.67L490.50,352.98L491.00,354.55L491.50,355.83L492.00,357.39L492.50,359.56L493.00,360.94L493.50,363.12L494.00,364.76L494.50,366.94L495.00,368.42L495.50,369.99L496.00,371.54L496.50,373.04L497.00,374.77L497.50,376.16L498.00,377.84L498.50,379.00L499.00,379.90L499.50,380.18L500.00,380.40L500.50,380.53L501.00,380.60L501.00,380.60Z" fill="rgba(190,20,70,0.50)" stroke="none"/>
<path d="M456.00,380.60L456.00,380.60L456.50,380.57L457.00,380.50L457.50,380.38L458.00,380.28L458.50,380.19L459.00,380.16L459.50,380.08L460.00,379.99L460.50,379.91L461.00,379.80L461.50,379.67L462.00,379.47L462.50,379.35L463.00,379.08L463.50,378.85L464.00,378.59L464.50,378.59L465.00,378.55L465.50,378.48L466.00,378.21L466.50,377.94L467.00,377.69L467.50,377.37L468.00,377.04L468.50,376.84L469.00,376.70L469.50,376.52L470.00,376.10L470.50,375.89L471.00,375.53L471.50,375.14L472.00,374.65L472.50,374.40L473.00,374.22L473.50,373.84L474.00,373.27L474.50,372.67L475.00,372.32L475.50,372.21L476.00,371.74L476.50,371.28L477.00,370.59L477.50,370.34L478.00,370.11L478.50,369.74L479.00,369.20L479.50,368.20L480.00,367.42L480.50,367.30L481.00,366.70L481.50,365.69L482.00,363.69L482.50,362.22L483.00,360.20L483.50,358.45L484.00,356.43L484.50,354.91L485.00,353.75L485.50,351.94L486.00,349.99L486.50,347.58L487.00,345.43L487.50,343.19L488.00,340.82L488.50,338.60L489.00,336.24L489.50,333.33L490.00,330.78L490.50,327.86L491.00,325.99L491.50,323.14L492.00,321.53L492.50,319.03L493.00,317.22L493.50,315.16L494.00,314.08L494.50,314.03L495.00,314.08L495.50,315.96L496.00,317.43L496.50,321.40L497.00,325.12L497.50,330.14L498.00,334.88L498.50,339.39L499.00,344.22L499.50,349.70L500.00,355.13L500.50,360.36L501.00,364.72L501.50,368.55L502.00,372.41L502.50,375.40L503.00,378.17L503.50,379.56L504.00,380.14L504.50,380.42L505.00,380.60L505.00,380.60Z" fill="rgba(105,165,50,0.40)" stroke="none"/>
<path d="M448.00,380.60L448.00,380.60L448.50,380.59L449.00,380.57L449.50,380.53L450.00,380.49L450.50,380.46L451.00,380.46L451.50,380.52L452.00,380.48L452.50,380.38L453.00,380.23L453.50,380.15L454.00,380.11L454.50,380.08L455.00,380.02L455.50,379.91L456.00,379.88L456.50,379.72L457.00,379.68L457.50,379.40L458.00,379.27L458.50,378.95L459.00,378.74L459.50,378.50L460.00,378.18L460.50,377.87L461.00,377.20L461.50,376.88L462.00,376.50L462.50,376.50L463.00,376.26L463.50,376.18L464.00,375.86L464.50,375.39L465.00,374.97L465.50,374.63L466.00,374.53L466.50,374.00L467.00,373.61L467.50,373.01L468.00,372.56L468.50,372.32L469.00,371.84L469.50,371.53L470.00,370.88L470.50,370.38L471.00,369.78L471.50,369.46L472.00,368.83L472.50,368.29L473.00,367.49L473.50,367.07L474.00,365.88L474.50,364.90L475.00,364.28L475.50,363.42L476.00,362.00L476.50,360.11L477.00,359.41L477.50,358.79L478.00,357.91L478.50,356.27L479.00,354.96L479.50,354.05L480.00,352.73L480.50,351.16L481.00,349.75L481.50,348.54L482.00,347.02L482.50,344.83L483.00,342.63L483.50,340.47L484.00,338.26L484.50,336.49L485.00,335.34L485.50,333.45L486.00,330.99L486.50,327.87L487.00,326.34L487.50,325.26L488.00,323.77L488.50,321.40L489.00,319.73L489.50,319.17L490.00,320.07L490.50,320.38L491.00,321.67L491.50,322.17L492.00,323.45L492.50,324.66L493.00,327.08L493.50,329.37L494.00,331.56L494.50,333.68L495.00,336.71L495.50,340.02L496.00,343.60L496.50,347.63L497.00,352.55L497.50,357.00L498.00,361.39L498.50,365.50L499.00,369.50L499.50,372.39L500.00,374.80L500.50,376.58L501.00,378.37L501.50,379.40L502.00,380.08L502.50,380.42L503.00,380.60L503.00,380.60Z" fill="rgba(80,90,160,0.07)" stroke="none"/>
<path d="M455.00,380.60L455.00,380.60L455.50,380.59L456.00,380.54L456.50,380.48L457.00,380.41L457.50,380.36L458.00,380.29L458.50,380.16L459.00,380.06L459.50,379.91L460.00,379.82L460.50,379.63L461.00,379.51L461.50,379.21L462.00,379.09L462.50,378.87L463.00,378.80L463.50,378.52L464.00,378.30L464.50,378.08L465.00,377.84L465.50,377.78L466.00,377.55L466.50,377.46L467.00,376.95L467.50,376.71L468.00,376.29L468.50,375.90L469.00,375.13L469.50,374.44L470.00,373.87L470.50,373.34L471.00,373.00L471.50,372.81L472.00,372.54L472.50,371.85L473.00,370.67L473.50,369.55L474.00,368.99L474.50,367.98L475.00,367.26L475.50,365.96L476.00,365.45L476.50,364.31L477.00,363.47L477.50,362.61L478.00,362.05L478.50,361.22L479.00,359.67L479.50,358.29L480.00,356.32L480.50,354.74L481.00,353.36L481.50,351.43L482.00,350.21L482.50,348.00L483.00,347.23L483.50,345.10L484.00,343.93L484.50,341.66L485.00,340.24L485.50,338.96L486.00,337.57L486.50,335.46L487.00,332.54L487.50,330.80L488.00,329.83L488.50,328.73L489.00,326.53L489.50,324.23L490.00,322.70L490.50,321.22L491.00,319.84L491.50,318.57L492.00,318.93L492.50,319.28L493.00,320.19L493.50,321.35L494.00,322.28L494.50,324.95L495.00,329.36L495.50,334.67L496.00,339.41L496.50,343.21L497.00,347.44L497.50,351.52L498.00,356.03L498.50,360.22L499.00,364.02L499.50,367.83L500.00,371.28L500.50,374.04L501.00,375.84L501.50,377.60L502.00,379.04L502.50,379.92L503.00,380.26L503.50,380.50L504.00,380.60" fill="none" stroke="#2a3326" stroke-width="1.15" stroke-linejoin="round"/>
<path d="M456.00,380.60L456.00,380.60L456.50,380.57L457.00,380.50L457.50,380.38L458.00,380.28L458.50,380.19L459.00,380.16L459.50,380.08L460.00,379.99L460.50,379.91L461.00,379.80L461.50,379.67L462.00,379.47L462.50,379.35L463.00,379.08L463.50,378.85L464.00,378.59L464.50,378.59L465.00,378.55L465.50,378.48L466.00,378.21L466.50,377.94L467.00,377.69L467.50,377.37L468.00,377.04L468.50,376.84L469.00,376.70L469.50,376.52L470.00,376.10L470.50,375.89L471.00,375.53L471.50,375.14L472.00,374.65L472.50,374.40L473.00,374.22L473.50,373.84L474.00,373.27L474.50,372.67L475.00,372.32L475.50,372.21L476.00,371.74L476.50,371.28L477.00,370.59L477.50,370.34L478.00,370.11L478.50,369.74L479.00,369.20L479.50,368.20L480.00,367.42L480.50,367.30L481.00,366.70L481.50,365.69L482.00,363.69L482.50,362.22L483.00,360.20L483.50,358.45L484.00,356.43L484.50,354.91L485.00,353.75L485.50,351.94L486.00,349.99L486.50,347.58L487.00,345.43L487.50,343.19L488.00,340.82L488.50,338.60L489.00,336.24L489.50,333.33L490.00,330.78L490.50,327.86L491.00,325.99L491.50,323.14L492.00,321.53L492.50,319.03L493.00,317.22L493.50,315.16L494.00,314.08L494.50,314.03L495.00,314.08L495.50,315.96L496.00,317.43L496.50,321.40L497.00,325.12L497.50,330.14L498.00,334.88L498.50,339.39L499.00,344.22L499.50,349.70L500.00,355.13L500.50,360.36L501.00,364.72L501.50,368.55L502.00,372.41L502.50,375.40L503.00,378.17L503.50,379.56L504.00,380.14L504.50,380.42L505.00,380.60" fill="none" stroke="#86c466" stroke-width="1.4" stroke-linejoin="round"/>
<path d="M441.00,380.60L441.00,380.60L441.50,380.53L442.00,380.48L442.50,380.42L443.00,380.38L443.50,380.28L444.00,380.30L444.50,380.23L445.00,380.22L445.50,380.14L446.00,380.16L446.50,379.96L447.00,379.86L447.50,379.70L448.00,379.68L448.50,379.61L449.00,379.52L449.50,379.58L450.00,379.48L450.50,379.44L451.00,379.23L451.50,379.11L452.00,379.05L452.50,379.06L453.00,378.96L453.50,378.57L454.00,378.11L454.50,377.65L455.00,377.52L455.50,377.42L456.00,377.07L456.50,376.29L457.00,375.20L457.50,373.97L458.00,372.62L458.50,371.16L459.00,369.17L459.50,366.04L460.00,362.15L460.50,357.33L461.00,351.36L461.50,346.51L462.00,341.68L462.50,338.39L463.00,334.09L463.50,330.24L464.00,327.68L464.50,326.20L465.00,325.68L465.50,326.45L466.00,327.94L466.50,329.27L467.00,327.72L467.50,327.01L468.00,328.05L468.50,332.76L469.00,336.45L469.50,339.11L470.00,342.64L470.50,344.57L471.00,345.97L471.50,345.99L472.00,346.45L472.50,347.51L473.00,347.49L473.50,348.62L474.00,349.50L474.50,350.52L475.00,350.12L475.50,350.08L476.00,350.30L476.50,351.68L477.00,353.18L477.50,354.32L478.00,354.73L478.50,354.40L479.00,354.84L479.50,355.43L480.00,355.95L480.50,355.63L481.00,354.86L481.50,354.08L482.00,354.09L482.50,353.82L483.00,353.47L483.50,352.50L484.00,352.00L484.50,351.52L485.00,350.89L485.50,350.38L486.00,349.74L486.50,349.63L487.00,349.12L487.50,348.94L488.00,349.25L488.50,349.47L489.00,350.17L489.50,350.27L490.00,351.67L490.50,352.98L491.00,354.55L491.50,355.83L492.00,357.39L492.50,359.56L493.00,360.94L493.50,363.12L494.00,364.76L494.50,366.94L495.00,368.42L495.50,369.99L496.00,371.54L496.50,373.04L497.00,374.77L497.50,376.16L498.00,377.84L498.50,379.00L499.00,379.90L499.50,380.18L500.00,380.40L500.50,380.53L501.00,380.60" fill="none" stroke="#8a0c30" stroke-width="1.4" stroke-linejoin="round"/>
<path d="M448.00,380.60L448.00,380.60L448.50,380.59L449.00,380.57L449.50,380.53L450.00,380.49L450.50,380.46L451.00,380.46L451.50,380.52L452.00,380.48L452.50,380.38L453.00,380.23L453.50,380.15L454.00,380.11L454.50,380.08L455.00,380.02L455.50,379.91L456.00,379.88L456.50,379.72L457.00,379.68L457.50,379.40L458.00,379.27L458.50,378.95L459.00,378.74L459.50,378.50L460.00,378.18L460.50,377.87L461.00,377.20L461.50,376.88L462.00,376.50L462.50,376.50L463.00,376.26L463.50,376.18L464.00,375.86L464.50,375.39L465.00,374.97L465.50,374.63L466.00,374.53L466.50,374.00L467.00,373.61L467.50,373.01L468.00,372.56L468.50,372.32L469.00,371.84L469.50,371.53L470.00,370.88L470.50,370.38L471.00,369.78L471.50,369.46L472.00,368.83L472.50,368.29L473.00,367.49L473.50,367.07L474.00,365.88L474.50,364.90L475.00,364.28L475.50,363.42L476.00,362.00L476.50,360.11L477.00,359.41L477.50,358.79L478.00,357.91L478.50,356.27L479.00,354.96L479.50,354.05L480.00,352.73L480.50,351.16L481.00,349.75L481.50,348.54L482.00,347.02L482.50,344.83L483.00,342.63L483.50,340.47L484.00,338.26L484.50,336.49L485.00,335.34L485.50,333.45L486.00,330.99L486.50,327.87L487.00,326.34L487.50,325.26L488.00,323.77L488.50,321.40L489.00,319.73L489.50,319.17L490.00,320.07L490.50,320.38L491.00,321.67L491.50,322.17L492.00,323.45L492.50,324.66L493.00,327.08L493.50,329.37L494.00,331.56L494.50,333.68L495.00,336.71L495.50,340.02L496.00,343.60L496.50,347.63L497.00,352.55L497.50,357.00L498.00,361.39L498.50,365.50L499.00,369.50L499.50,372.39L500.00,374.80L500.50,376.58L501.00,378.37L501.50,379.40L502.00,380.08L502.50,380.42L503.00,380.60" fill="none" stroke="#26306a" stroke-width="1.15" stroke-linejoin="round"/>
<rect x="439.40" y="307.70" width="73.90" height="73.50" fill="none" stroke="#111" stroke-width="1.2"/>
<path d="M437.00,378.00H439.40M437.00,374.45H439.40M437.00,370.90H439.40M437.00,367.35H439.40M437.00,363.80H439.40M437.00,360.25H439.40M437.00,356.70H439.40M437.00,353.15H439.40M437.00,349.60H439.40M437.00,346.05H439.40M437.00,342.50H439.40M437.00,338.95H439.40M437.00,335.40H439.40M437.00,331.85H439.40M437.00,328.30H439.40M437.00,324.75H439.40M437.00,321.20H439.40M437.00,317.65H439.40M437.00,314.10H439.40M437.00,310.55H439.40M442.69,381.20V383.00M445.10,381.20V383.00M447.08,381.20V383.00M448.74,381.20V383.00M450.19,381.20V383.00M451.46,381.20V383.00M452.60,381.20V384.00M460.10,381.20V383.00M464.48,381.20V383.00M467.59,381.20V383.00M470.00,381.20V383.00M471.98,381.20V383.00M473.64,381.20V383.00M475.09,381.20V383.00M476.36,381.20V383.00M477.50,381.20V384.00M485.00,381.20V383.00M489.38,381.20V383.00M492.49,381.20V383.00M494.90,381.20V383.00M496.88,381.20V383.00M498.54,381.20V383.00M499.99,381.20V383.00M501.26,381.20V383.00M502.40,381.20V384.00M509.90,381.20V383.00" stroke="#111" stroke-width="0.9" fill="none"/>
<text x="476.50" y="305.10" font-size="7.6" fill="#333" text-anchor="middle" textLength="37.70" lengthAdjust="spacingAndGlyphs" stroke="#333" stroke-width="0.15">Verdinexor</text>
<path d="M273.30,387.40V346.90" stroke="#111" stroke-width="1.1" fill="none"/>
<path d="M271.20,346.90L273.30,342.60L275.40,346.90Z" fill="#111"/>
<path d="M272.75,387.40H313.70" stroke="#111" stroke-width="1.1" fill="none"/>
<path d="M313.50,385.30L318.00,387.40L313.50,389.50Z" fill="#111"/>
<text font-size="6.6" fill="#555" text-anchor="middle" transform="translate(268.00 364.80) rotate(-90)" textLength="34" lengthAdjust="spacingAndGlyphs">norm. count</text>
<text x="289.80" y="396.30" font-size="6.6" fill="#555" textLength="11.50" lengthAdjust="spacingAndGlyphs" stroke="#555" stroke-width="0.15">p53</text>
<text x="396.80" y="397.30" font-size="8" fill="#111" font-weight="bold" text-anchor="middle" textLength="34.60" lengthAdjust="spacingAndGlyphs">Namalwa</text>
<text x="512.90" y="394.20" font-size="7.6" fill="#666" text-anchor="end" textLength="52.00" lengthAdjust="spacingAndGlyphs" stroke="#666" stroke-width="0.15">shNT + DMSO</text>
<text x="512.90" y="405.80" font-size="7.6" fill="#8dbd6b" text-anchor="end" textLength="45.20" lengthAdjust="spacingAndGlyphs" stroke="#8dbd6b" stroke-width="0.15">shNT + drug</text>
<text x="512.90" y="417.40" font-size="7.6" fill="#a82d52" text-anchor="end" textLength="65.90" lengthAdjust="spacingAndGlyphs" stroke="#a82d52" stroke-width="0.15">shTRRAP + DMSO</text>
<text x="512.90" y="429.00" font-size="7.6" fill="#4d5c78" text-anchor="end" textLength="58.70" lengthAdjust="spacingAndGlyphs" stroke="#4d5c78" stroke-width="0.15">shTRRAP + drug</text>
<path d="M289.90,419.40V493.00M311.40,419.40V493.00M332.90,419.40V493.00" stroke="#c8c8c8" stroke-width="0.9" fill="none"/>
<text x="282.00" y="429.30" font-size="7.6" fill="#6a6a6a" textLength="15.60" lengthAdjust="spacingAndGlyphs" stroke="#6a6a6a" stroke-width="0.15">1.00</text>
<text x="282.00" y="441.15" font-size="7.6" fill="#9cc27a" textLength="15.60" lengthAdjust="spacingAndGlyphs" stroke="#9cc27a" stroke-width="0.15">1.90</text>
<text x="282.00" y="453.00" font-size="7.6" fill="#b03a5c" textLength="15.60" lengthAdjust="spacingAndGlyphs" stroke="#b03a5c" stroke-width="0.15">0.17</text>
<text x="282.00" y="464.85" font-size="7.6" fill="#5f6775" textLength="15.60" lengthAdjust="spacingAndGlyphs" stroke="#5f6775" stroke-width="0.15">1.30</text>
<path d="M304.00,492.40L304.00,492.40L304.50,492.40L305.00,492.36L305.50,492.30L306.00,492.17L306.50,492.10L307.00,491.97L307.50,491.81L308.00,491.60L308.50,491.43L309.00,491.38L309.50,491.32L310.00,491.12L310.50,490.78L311.00,490.41L311.50,490.32L312.00,490.17L312.50,489.89L313.00,489.37L313.50,488.99L314.00,488.68L314.50,488.37L315.00,488.26L315.50,487.67L316.00,487.24L316.50,486.38L317.00,485.84L317.50,485.34L318.00,484.92L318.50,484.55L319.00,484.08L319.50,483.23L320.00,482.11L320.50,480.90L321.00,479.60L321.50,478.38L322.00,476.75L322.50,475.56L323.00,474.25L323.50,472.23L324.00,469.76L324.50,467.05L325.00,464.99L325.50,462.65L326.00,459.75L326.50,456.68L327.00,454.08L327.50,450.62L328.00,447.63L328.50,443.47L329.00,440.55L329.50,437.17L330.00,435.37L330.50,432.57L331.00,430.86L331.50,429.43L332.00,429.95L332.50,431.50L333.00,434.55L333.50,437.88L334.00,442.87L334.50,448.42L335.00,455.18L335.50,461.01L336.00,466.40L336.50,471.48L337.00,475.88L337.50,480.20L338.00,483.36L338.50,486.32L339.00,488.18L339.50,490.20L340.00,491.66L340.50,492.40L340.50,492.40Z" fill="rgba(115,115,125,0.42)" stroke="none"/>
<path d="M297.00,492.40L297.00,492.40L297.50,492.30L298.00,492.10L298.50,491.79L299.00,491.46L299.50,490.81L300.00,489.76L300.50,488.44L301.00,487.08L301.50,484.06L302.00,478.58L302.50,472.41L303.00,465.80L303.50,458.07L304.00,451.05L304.50,445.08L305.00,442.13L305.50,442.26L306.00,441.46L306.50,439.36L307.00,435.55L307.50,433.24L308.00,431.95L308.50,432.67L309.00,433.40L309.50,434.62L310.00,436.29L310.50,438.93L311.00,442.22L311.50,446.98L312.00,450.81L312.50,454.24L313.00,457.55L313.50,460.12L314.00,463.14L314.50,464.97L315.00,466.88L315.50,468.17L316.00,469.90L316.50,471.54L317.00,472.75L317.50,473.62L318.00,474.00L318.50,474.46L319.00,475.14L319.50,475.43L320.00,475.73L320.50,475.37L321.00,475.61L321.50,475.77L322.00,475.35L322.50,474.68L323.00,474.13L323.50,474.38L324.00,474.29L324.50,473.95L325.00,473.30L325.50,472.80L326.00,472.09L326.50,472.09L327.00,471.91L327.50,471.98L328.00,472.05L328.50,473.26L329.00,474.14L329.50,474.78L330.00,474.75L330.50,475.63L331.00,476.68L331.50,477.95L332.00,479.67L332.50,481.09L333.00,482.74L333.50,483.55L334.00,484.64L334.50,486.13L335.00,487.21L335.50,488.33L336.00,488.77L336.50,489.69L337.00,490.33L337.50,491.01L338.00,491.53L338.50,491.95L339.00,492.15L339.50,492.32L340.00,492.40L340.00,492.40Z" fill="rgba(190,20,70,0.50)" stroke="none"/>
<path d="M306.00,492.40L306.00,492.40L306.50,492.39L307.00,492.32L307.50,492.25L308.00,492.13L308.50,492.06L309.00,491.96L309.50,491.88L310.00,491.74L310.50,491.50L311.00,491.18L311.50,490.96L312.00,490.83L312.50,490.67L313.00,490.42L313.50,490.04L314.00,489.82L314.50,489.74L315.00,489.45L315.50,489.23L316.00,488.71L316.50,488.62L317.00,488.05L317.50,487.77L318.00,486.99L318.50,486.36L319.00,485.57L319.50,485.31L320.00,485.13L320.50,484.82L321.00,483.86L321.50,482.88L322.00,481.85L322.50,480.99L323.00,479.95L323.50,478.80L324.00,477.40L324.50,476.27L325.00,474.92L325.50,474.15L326.00,472.80L326.50,471.31L327.00,469.37L327.50,467.06L328.00,464.53L328.50,462.11L329.00,459.95L329.50,457.90L330.00,455.00L330.50,452.08L331.00,448.56L331.50,445.03L332.00,440.32L332.50,435.16L333.00,430.84L333.50,427.82L334.00,424.79L334.50,424.09L335.00,427.00L335.50,432.95L336.00,438.68L336.50,445.91L337.00,453.25L337.50,460.67L338.00,468.07L338.50,475.00L339.00,481.18L339.50,486.16L340.00,490.29L340.50,491.78L341.00,492.20L341.50,492.40L341.50,492.40Z" fill="rgba(105,165,50,0.40)" stroke="none"/>
<path d="M298.00,492.40L298.00,492.40L298.50,492.19L299.00,491.96L299.50,491.73L300.00,491.65L300.50,491.48L301.00,491.42L301.50,491.33L302.00,491.19L302.50,490.90L303.00,490.69L303.50,490.54L304.00,490.43L304.50,490.19L305.00,490.03L305.50,489.87L306.00,489.60L306.50,489.40L307.00,489.12L307.50,488.95L308.00,488.69L308.50,488.37L309.00,488.18L309.50,487.90L310.00,487.88L310.50,487.75L311.00,487.50L311.50,487.14L312.00,486.90L312.50,486.68L313.00,486.44L313.50,486.07L314.00,485.59L314.50,485.34L315.00,484.95L315.50,484.75L316.00,484.34L316.50,484.20L317.00,483.76L317.50,483.26L318.00,482.59L318.50,482.17L319.00,481.60L319.50,481.07L320.00,480.14L320.50,479.37L321.00,477.86L321.50,476.68L322.00,474.62L322.50,472.52L323.00,470.11L323.50,467.44L324.00,464.08L324.50,460.43L325.00,456.94L325.50,453.80L326.00,449.60L326.50,445.20L327.00,440.80L327.50,438.40L328.00,435.41L328.50,433.38L329.00,429.56L329.50,427.52L330.00,424.90L330.50,427.88L331.00,430.41L331.50,435.60L332.00,441.02L332.50,446.55L333.00,451.07L333.50,454.88L334.00,459.92L334.50,464.68L335.00,468.95L335.50,472.09L336.00,475.19L336.50,477.39L337.00,479.81L337.50,482.20L338.00,485.03L338.50,487.32L339.00,489.29L339.50,490.84L340.00,491.60L340.50,492.20L341.00,492.40L341.00,492.40Z" fill="rgba(70,85,170,0.22)" stroke="none"/>
<path d="M304.00,492.40L304.00,492.40L304.50,492.40L305.00,492.36L305.50,492.30L306.00,492.17L306.50,492.10L307.00,491.97L307.50,491.81L308.00,491.60L308.50,491.43L309.00,491.38L309.50,491.32L310.00,491.12L310.50,490.78L311.00,490.41L311.50,490.32L312.00,490.17L312.50,489.89L313.00,489.37L313.50,488.99L314.00,488.68L314.50,488.37L315.00,488.26L315.50,487.67L316.00,487.24L316.50,486.38L317.00,485.84L317.50,485.34L318.00,484.92L318.50,484.55L319.00,484.08L319.50,483.23L320.00,482.11L320.50,480.90L321.00,479.60L321.50,478.38L322.00,476.75L322.50,475.56L323.00,474.25L323.50,472.23L324.00,469.76L324.50,467.05L325.00,464.99L325.50,462.65L326.00,459.75L326.50,456.68L327.00,454.08L327.50,450.62L328.00,447.63L328.50,443.47L329.00,440.55L329.50,437.17L330.00,435.37L330.50,432.57L331.00,430.86L331.50,429.43L332.00,429.95L332.50,431.50L333.00,434.55L333.50,437.88L334.00,442.87L334.50,448.42L335.00,455.18L335.50,461.01L336.00,466.40L336.50,471.48L337.00,475.88L337.50,480.20L338.00,483.36L338.50,486.32L339.00,488.18L339.50,490.20L340.00,491.66L340.50,492.40" fill="none" stroke="#2a3326" stroke-width="1.15" stroke-linejoin="round"/>
<path d="M306.00,492.40L306.00,492.40L306.50,492.39L307.00,492.32L307.50,492.25L308.00,492.13L308.50,492.06L309.00,491.96L309.50,491.88L310.00,491.74L310.50,491.50L311.00,491.18L311.50,490.96L312.00,490.83L312.50,490.67L313.00,490.42L313.50,490.04L314.00,489.82L314.50,489.74L315.00,489.45L315.50,489.23L316.00,488.71L316.50,488.62L317.00,488.05L317.50,487.77L318.00,486.99L318.50,486.36L319.00,485.57L319.50,485.31L320.00,485.13L320.50,484.82L321.00,483.86L321.50,482.88L322.00,481.85L322.50,480.99L323.00,479.95L323.50,478.80L324.00,477.40L324.50,476.27L325.00,474.92L325.50,474.15L326.00,472.80L326.50,471.31L327.00,469.37L327.50,467.06L328.00,464.53L328.50,462.11L329.00,459.95L329.50,457.90L330.00,455.00L330.50,452.08L331.00,448.56L331.50,445.03L332.00,440.32L332.50,435.16L333.00,430.84L333.50,427.82L334.00,424.79L334.50,424.09L335.00,427.00L335.50,432.95L336.00,438.68L336.50,445.91L337.00,453.25L337.50,460.67L338.00,468.07L338.50,475.00L339.00,481.18L339.50,486.16L340.00,490.29L340.50,491.78L341.00,492.20L341.50,492.40" fill="none" stroke="#86c466" stroke-width="1.4" stroke-linejoin="round"/>
<path d="M297.00,492.40L297.00,492.40L297.50,492.30L298.00,492.10L298.50,491.79L299.00,491.46L299.50,490.81L300.00,489.76L300.50,488.44L301.00,487.08L301.50,484.06L302.00,478.58L302.50,472.41L303.00,465.80L303.50,458.07L304.00,451.05L304.50,445.08L305.00,442.13L305.50,442.26L306.00,441.46L306.50,439.36L307.00,435.55L307.50,433.24L308.00,431.95L308.50,432.67L309.00,433.40L309.50,434.62L310.00,436.29L310.50,438.93L311.00,442.22L311.50,446.98L312.00,450.81L312.50,454.24L313.00,457.55L313.50,460.12L314.00,463.14L314.50,464.97L315.00,466.88L315.50,468.17L316.00,469.90L316.50,471.54L317.00,472.75L317.50,473.62L318.00,474.00L318.50,474.46L319.00,475.14L319.50,475.43L320.00,475.73L320.50,475.37L321.00,475.61L321.50,475.77L322.00,475.35L322.50,474.68L323.00,474.13L323.50,474.38L324.00,474.29L324.50,473.95L325.00,473.30L325.50,472.80L326.00,472.09L326.50,472.09L327.00,471.91L327.50,471.98L328.00,472.05L328.50,473.26L329.00,474.14L329.50,474.78L330.00,474.75L330.50,475.63L331.00,476.68L331.50,477.95L332.00,479.67L332.50,481.09L333.00,482.74L333.50,483.55L334.00,484.64L334.50,486.13L335.00,487.21L335.50,488.33L336.00,488.77L336.50,489.69L337.00,490.33L337.50,491.01L338.00,491.53L338.50,491.95L339.00,492.15L339.50,492.32L340.00,492.40" fill="none" stroke="#8a0c30" stroke-width="1.4" stroke-linejoin="round"/>
<path d="M298.00,492.40L298.00,492.40L298.50,492.19L299.00,491.96L299.50,491.73L300.00,491.65L300.50,491.48L301.00,491.42L301.50,491.33L302.00,491.19L302.50,490.90L303.00,490.69L303.50,490.54L304.00,490.43L304.50,490.19L305.00,490.03L305.50,489.87L306.00,489.60L306.50,489.40L307.00,489.12L307.50,488.95L308.00,488.69L308.50,488.37L309.00,488.18L309.50,487.90L310.00,487.88L310.50,487.75L311.00,487.50L311.50,487.14L312.00,486.90L312.50,486.68L313.00,486.44L313.50,486.07L314.00,485.59L314.50,485.34L315.00,484.95L315.50,484.75L316.00,484.34L316.50,484.20L317.00,483.76L317.50,483.26L318.00,482.59L318.50,482.17L319.00,481.60L319.50,481.07L320.00,480.14L320.50,479.37L321.00,477.86L321.50,476.68L322.00,474.62L322.50,472.52L323.00,470.11L323.50,467.44L324.00,464.08L324.50,460.43L325.00,456.94L325.50,453.80L326.00,449.60L326.50,445.20L327.00,440.80L327.50,438.40L328.00,435.41L328.50,433.38L329.00,429.56L329.50,427.52L330.00,424.90L330.50,427.88L331.00,430.41L331.50,435.60L332.00,441.02L332.50,446.55L333.00,451.07L333.50,454.88L334.00,459.92L334.50,464.68L335.00,468.95L335.50,472.09L336.00,475.19L336.50,477.39L337.00,479.81L337.50,482.20L338.00,485.03L338.50,487.32L339.00,489.29L339.50,490.84L340.00,491.60L340.50,492.20L341.00,492.40" fill="none" stroke="#26306a" stroke-width="1.15" stroke-linejoin="round"/>
<rect x="279.00" y="419.40" width="74.40" height="73.60" fill="none" stroke="#111" stroke-width="1.2"/>
<path d="M276.60,489.80H279.00M276.60,486.25H279.00M276.60,482.70H279.00M276.60,479.15H279.00M276.60,475.60H279.00M276.60,472.05H279.00M276.60,468.50H279.00M276.60,464.95H279.00M276.60,461.40H279.00M276.60,457.85H279.00M276.60,454.30H279.00M276.60,450.75H279.00M276.60,447.20H279.00M276.60,443.65H279.00M276.60,440.10H279.00M276.60,436.55H279.00M276.60,433.00H279.00M276.60,429.45H279.00M276.60,425.90H279.00M276.60,422.35H279.00M281.34,493.00V494.80M283.43,493.00V494.80M285.13,493.00V494.80M286.57,493.00V494.80M287.82,493.00V494.80M288.92,493.00V494.80M289.90,493.00V495.80M296.37,493.00V494.80M300.16,493.00V494.80M302.84,493.00V494.80M304.93,493.00V494.80M306.63,493.00V494.80M308.07,493.00V494.80M309.32,493.00V494.80M310.42,493.00V494.80M311.40,493.00V495.80M317.87,493.00V494.80M321.66,493.00V494.80M324.34,493.00V494.80M326.43,493.00V494.80M328.13,493.00V494.80M329.57,493.00V494.80M330.82,493.00V494.80M331.92,493.00V494.80M332.90,493.00V495.80M339.37,493.00V494.80M343.16,493.00V494.80M345.84,493.00V494.80M347.93,493.00V494.80M349.63,493.00V494.80M351.07,493.00V494.80M352.32,493.00V494.80" stroke="#111" stroke-width="0.9" fill="none"/>
<path d="M273.30,499.30V458.80" stroke="#111" stroke-width="1.1" fill="none"/>
<path d="M271.20,458.80L273.30,454.50L275.40,458.80Z" fill="#111"/>
<path d="M272.75,499.30H313.70" stroke="#111" stroke-width="1.1" fill="none"/>
<path d="M313.50,497.20L318.00,499.30L313.50,501.40Z" fill="#111"/>
<text font-size="6.6" fill="#555" text-anchor="middle" transform="translate(268.00 476.50) rotate(-90)" textLength="34" lengthAdjust="spacingAndGlyphs">norm. count</text>
<text x="289.80" y="508.30" font-size="6.6" fill="#555" textLength="11.50" lengthAdjust="spacingAndGlyphs" stroke="#555" stroke-width="0.15">p53</text>
<text x="356.70" y="429.30" font-size="7.6" fill="#555" textLength="52.00" lengthAdjust="spacingAndGlyphs" stroke="#555" stroke-width="0.15">shNT + DMSO</text>
<text x="356.70" y="440.90" font-size="7.6" fill="#8dbd6b" textLength="59.40" lengthAdjust="spacingAndGlyphs" stroke="#8dbd6b" stroke-width="0.15">shNT + Nutlin-3a</text>
<text x="356.70" y="452.50" font-size="7.6" fill="#a82d52" textLength="65.90" lengthAdjust="spacingAndGlyphs" stroke="#a82d52" stroke-width="0.15">shTRRAP + DMSO</text>
<text x="356.70" y="464.10" font-size="7.6" fill="#4d5c78" textLength="74.10" lengthAdjust="spacingAndGlyphs" stroke="#4d5c78" stroke-width="0.15">shTRRAP + Nutlin-3a</text>
<text x="357.20" y="493.00" font-size="8" fill="#111" font-weight="bold" textLength="32.80" lengthAdjust="spacingAndGlyphs">Namalwa</text>
<path d="M290.00,529.90V603.60M311.40,529.90V603.60M332.80,529.90V603.60" stroke="#c8c8c8" stroke-width="0.9" fill="none"/>
<text x="280.80" y="539.80" font-size="7.6" fill="#6a6a6a" textLength="15.60" lengthAdjust="spacingAndGlyphs" stroke="#6a6a6a" stroke-width="0.15">1.00</text>
<text x="280.80" y="551.65" font-size="7.6" fill="#9cc27a" textLength="15.60" lengthAdjust="spacingAndGlyphs" stroke="#9cc27a" stroke-width="0.15">1.24</text>
<text x="280.80" y="563.50" font-size="7.6" fill="#b03a5c" textLength="15.60" lengthAdjust="spacingAndGlyphs" stroke="#b03a5c" stroke-width="0.15">0.19</text>
<text x="280.80" y="575.35" font-size="7.6" fill="#5f6775" textLength="15.60" lengthAdjust="spacingAndGlyphs" stroke="#5f6775" stroke-width="0.15">0.78</text>
<path d="M300.00,603.00L300.00,602.40L300.50,602.31L301.00,602.25L301.50,602.17L302.00,602.07L302.50,601.87L303.00,601.64L303.50,601.46L304.00,601.27L304.50,601.08L305.00,600.85L305.50,600.63L306.00,600.31L306.50,600.28L307.00,600.04L307.50,599.69L308.00,599.01L308.50,598.51L309.00,598.12L309.50,597.49L310.00,596.91L310.50,596.23L311.00,595.70L311.50,594.85L312.00,594.10L312.50,592.94L313.00,592.05L313.50,590.87L314.00,589.50L314.50,587.88L315.00,586.37L315.50,584.52L316.00,582.29L316.50,579.85L317.00,577.69L317.50,575.53L318.00,572.09L318.50,569.77L319.00,566.74L319.50,565.10L320.00,561.84L320.50,558.18L321.00,554.67L321.50,551.26L322.00,549.26L322.50,546.31L323.00,544.54L323.50,542.98L324.00,541.93L324.50,541.32L325.00,540.50L325.50,541.01L326.00,541.16L326.50,542.98L327.00,546.73L327.50,551.50L328.00,555.29L328.50,560.00L329.00,564.90L329.50,570.60L330.00,575.83L330.50,580.81L331.00,584.51L331.50,587.68L332.00,590.35L332.50,593.44L333.00,595.64L333.50,597.51L334.00,598.85L334.50,600.02L335.00,601.11L335.50,601.96L336.00,602.46L336.00,603.00Z" fill="rgba(115,115,125,0.42)" stroke="none"/>
<path d="M294.50,603.00L294.50,602.39L295.00,602.17L295.50,601.70L296.00,601.22L296.50,600.58L297.00,599.97L297.50,598.80L298.00,597.51L298.50,594.35L299.00,588.89L299.50,580.56L300.00,567.97L300.50,556.60L301.00,547.93L301.50,542.02L302.00,538.89L302.50,538.53L303.00,540.06L303.50,542.94L304.00,547.49L304.50,551.66L305.00,556.60L305.50,563.57L306.00,569.61L306.50,574.96L307.00,578.95L307.50,581.55L308.00,584.10L308.50,586.09L309.00,588.12L309.50,589.05L310.00,590.42L310.50,591.18L311.00,591.47L311.50,591.44L312.00,591.04L312.50,591.08L313.00,590.73L313.50,590.71L314.00,590.45L314.50,590.22L315.00,589.78L315.50,588.87L316.00,588.84L316.50,588.68L317.00,588.99L317.50,588.58L318.00,588.21L318.50,587.94L319.00,587.31L319.50,586.60L320.00,586.32L320.50,585.71L321.00,585.35L321.50,584.49L322.00,583.70L322.50,582.96L323.00,582.06L323.50,581.23L324.00,581.15L324.50,580.64L325.00,581.02L325.50,581.17L326.00,581.74L326.50,582.26L327.00,582.36L327.50,583.49L328.00,584.79L328.50,586.73L329.00,587.86L329.50,589.74L330.00,590.99L330.50,593.16L331.00,594.48L331.50,596.12L332.00,597.12L332.50,598.41L333.00,599.75L333.50,600.94L334.00,601.58L334.50,601.96L335.00,602.15L335.50,602.34L336.00,602.41L336.00,603.00Z" fill="rgba(190,20,70,0.50)" stroke="none"/>
<path d="M302.00,603.00L302.00,602.47L302.50,602.37L303.00,602.10L303.50,601.75L304.00,601.50L304.50,601.31L305.00,601.12L305.50,600.61L306.00,600.53L306.50,600.30L307.00,600.11L307.50,599.67L308.00,599.27L308.50,598.91L309.00,598.21L309.50,597.80L310.00,597.18L310.50,596.70L311.00,595.82L311.50,595.08L312.00,594.21L312.50,593.65L313.00,592.38L313.50,590.94L314.00,589.19L314.50,588.20L315.00,586.94L315.50,584.94L316.00,582.55L316.50,580.45L317.00,578.60L317.50,576.48L318.00,573.89L318.50,571.67L319.00,568.79L319.50,566.00L320.00,563.24L320.50,561.67L321.00,559.56L321.50,557.02L322.00,553.72L322.50,551.30L323.00,548.44L323.50,546.37L324.00,544.47L324.50,544.51L325.00,543.80L325.50,543.11L326.00,541.72L326.50,541.92L327.00,542.45L327.50,548.08L328.00,555.05L328.50,560.13L329.00,565.19L329.50,569.80L330.00,575.29L330.50,580.35L331.00,584.31L331.50,587.62L332.00,589.90L332.50,592.44L333.00,594.69L333.50,596.74L334.00,598.52L334.50,599.98L335.00,601.22L335.50,602.06L335.50,603.00Z" fill="rgba(105,165,50,0.40)" stroke="none"/>
<path d="M295.00,603.00L295.00,602.46L295.50,602.36L296.00,601.95L296.50,601.47L297.00,600.72L297.50,599.49L298.00,597.62L298.50,595.46L299.00,591.56L299.50,585.20L300.00,579.86L300.50,575.72L301.00,573.27L301.50,573.24L302.00,573.23L302.50,573.60L303.00,576.27L303.50,579.83L304.00,582.00L304.50,583.84L305.00,585.62L305.50,587.34L306.00,588.83L306.50,590.09L307.00,591.20L307.50,591.97L308.00,592.53L308.50,592.83L309.00,592.73L309.50,592.90L310.00,592.69L310.50,592.14L311.00,591.45L311.50,590.55L312.00,589.45L312.50,588.16L313.00,586.82L313.50,585.42L314.00,583.14L314.50,581.19L315.00,579.21L315.50,577.54L316.00,575.51L316.50,573.02L317.00,570.26L317.50,567.66L318.00,565.11L318.50,562.42L319.00,559.13L319.50,556.11L320.00,552.40L320.50,549.18L321.00,546.37L321.50,544.15L322.00,541.45L322.50,539.87L323.00,539.88L323.50,539.82L324.00,540.41L324.50,540.41L325.00,541.28L325.50,540.24L326.00,542.05L326.50,543.17L327.00,547.08L327.50,550.54L328.00,554.18L328.50,558.98L329.00,564.34L329.50,570.12L330.00,574.99L330.50,579.97L331.00,584.29L331.50,587.67L332.00,590.22L332.50,592.95L333.00,595.47L333.50,597.55L334.00,598.70L334.50,599.68L335.00,600.72L335.50,601.66L336.00,602.29L336.00,603.00Z" fill="rgba(70,85,170,0.15)" stroke="none"/>
<path d="M300.00,602.40L300.00,602.40L300.50,602.31L301.00,602.25L301.50,602.17L302.00,602.07L302.50,601.87L303.00,601.64L303.50,601.46L304.00,601.27L304.50,601.08L305.00,600.85L305.50,600.63L306.00,600.31L306.50,600.28L307.00,600.04L307.50,599.69L308.00,599.01L308.50,598.51L309.00,598.12L309.50,597.49L310.00,596.91L310.50,596.23L311.00,595.70L311.50,594.85L312.00,594.10L312.50,592.94L313.00,592.05L313.50,590.87L314.00,589.50L314.50,587.88L315.00,586.37L315.50,584.52L316.00,582.29L316.50,579.85L317.00,577.69L317.50,575.53L318.00,572.09L318.50,569.77L319.00,566.74L319.50,565.10L320.00,561.84L320.50,558.18L321.00,554.67L321.50,551.26L322.00,549.26L322.50,546.31L323.00,544.54L323.50,542.98L324.00,541.93L324.50,541.32L325.00,540.50L325.50,541.01L326.00,541.16L326.50,542.98L327.00,546.73L327.50,551.50L328.00,555.29L328.50,560.00L329.00,564.90L329.50,570.60L330.00,575.83L330.50,580.81L331.00,584.51L331.50,587.68L332.00,590.35L332.50,593.44L333.00,595.64L333.50,597.51L334.00,598.85L334.50,600.02L335.00,601.11L335.50,601.96L336.00,602.46" fill="none" stroke="#2a3326" stroke-width="1.15" stroke-linejoin="round"/>
<path d="M302.00,602.47L302.00,602.47L302.50,602.37L303.00,602.10L303.50,601.75L304.00,601.50L304.50,601.31L305.00,601.12L305.50,600.61L306.00,600.53L306.50,600.30L307.00,600.11L307.50,599.67L308.00,599.27L308.50,598.91L309.00,598.21L309.50,597.80L310.00,597.18L310.50,596.70L311.00,595.82L311.50,595.08L312.00,594.21L312.50,593.65L313.00,592.38L313.50,590.94L314.00,589.19L314.50,588.20L315.00,586.94L315.50,584.94L316.00,582.55L316.50,580.45L317.00,578.60L317.50,576.48L318.00,573.89L318.50,571.67L319.00,568.79L319.50,566.00L320.00,563.24L320.50,561.67L321.00,559.56L321.50,557.02L322.00,553.72L322.50,551.30L323.00,548.44L323.50,546.37L324.00,544.47L324.50,544.51L325.00,543.80L325.50,543.11L326.00,541.72L326.50,541.92L327.00,542.45L327.50,548.08L328.00,555.05L328.50,560.13L329.00,565.19L329.50,569.80L330.00,575.29L330.50,580.35L331.00,584.31L331.50,587.62L332.00,589.90L332.50,592.44L333.00,594.69L333.50,596.74L334.00,598.52L334.50,599.98L335.00,601.22L335.50,602.06" fill="none" stroke="#86c466" stroke-width="1.4" stroke-linejoin="round"/>
<path d="M294.50,602.39L294.50,602.39L295.00,602.17L295.50,601.70L296.00,601.22L296.50,600.58L297.00,599.97L297.50,598.80L298.00,597.51L298.50,594.35L299.00,588.89L299.50,580.56L300.00,567.97L300.50,556.60L301.00,547.93L301.50,542.02L302.00,538.89L302.50,538.53L303.00,540.06L303.50,542.94L304.00,547.49L304.50,551.66L305.00,556.60L305.50,563.57L306.00,569.61L306.50,574.96L307.00,578.95L307.50,581.55L308.00,584.10L308.50,586.09L309.00,588.12L309.50,589.05L310.00,590.42L310.50,591.18L311.00,591.47L311.50,591.44L312.00,591.04L312.50,591.08L313.00,590.73L313.50,590.71L314.00,590.45L314.50,590.22L315.00,589.78L315.50,588.87L316.00,588.84L316.50,588.68L317.00,588.99L317.50,588.58L318.00,588.21L318.50,587.94L319.00,587.31L319.50,586.60L320.00,586.32L320.50,585.71L321.00,585.35L321.50,584.49L322.00,583.70L322.50,582.96L323.00,582.06L323.50,581.23L324.00,581.15L324.50,580.64L325.00,581.02L325.50,581.17L326.00,581.74L326.50,582.26L327.00,582.36L327.50,583.49L328.00,584.79L328.50,586.73L329.00,587.86L329.50,589.74L330.00,590.99L330.50,593.16L331.00,594.48L331.50,596.12L332.00,597.12L332.50,598.41L333.00,599.75L333.50,600.94L334.00,601.58L334.50,601.96L335.00,602.15L335.50,602.34L336.00,602.41" fill="none" stroke="#8a0c30" stroke-width="1.4" stroke-linejoin="round"/>
<path d="M295.00,602.46L295.00,602.46L295.50,602.36L296.00,601.95L296.50,601.47L297.00,600.72L297.50,599.49L298.00,597.62L298.50,595.46L299.00,591.56L299.50,585.20L300.00,579.86L300.50,575.72L301.00,573.27L301.50,573.24L302.00,573.23L302.50,573.60L303.00,576.27L303.50,579.83L304.00,582.00L304.50,583.84L305.00,585.62L305.50,587.34L306.00,588.83L306.50,590.09L307.00,591.20L307.50,591.97L308.00,592.53L308.50,592.83L309.00,592.73L309.50,592.90L310.00,592.69L310.50,592.14L311.00,591.45L311.50,590.55L312.00,589.45L312.50,588.16L313.00,586.82L313.50,585.42L314.00,583.14L314.50,581.19L315.00,579.21L315.50,577.54L316.00,575.51L316.50,573.02L317.00,570.26L317.50,567.66L318.00,565.11L318.50,562.42L319.00,559.13L319.50,556.11L320.00,552.40L320.50,549.18L321.00,546.37L321.50,544.15L322.00,541.45L322.50,539.87L323.00,539.88L323.50,539.82L324.00,540.41L324.50,540.41L325.00,541.28L325.50,540.24L326.00,542.05L326.50,543.17L327.00,547.08L327.50,550.54L328.00,554.18L328.50,558.98L329.00,564.34L329.50,570.12L330.00,574.99L330.50,579.97L331.00,584.29L331.50,587.67L332.00,590.22L332.50,592.95L333.00,595.47L333.50,597.55L334.00,598.70L334.50,599.68L335.00,600.72L335.50,601.66L336.00,602.29" fill="none" stroke="#26306a" stroke-width="1.15" stroke-linejoin="round"/>
<rect x="277.80" y="529.90" width="76.20" height="73.70" fill="none" stroke="#111" stroke-width="1.2"/>
<path d="M275.40,600.40H277.80M275.40,596.85H277.80M275.40,593.30H277.80M275.40,589.75H277.80M275.40,586.20H277.80M275.40,582.65H277.80M275.40,579.10H277.80M275.40,575.55H277.80M275.40,572.00H277.80M275.40,568.45H277.80M275.40,564.90H277.80M275.40,561.35H277.80M275.40,557.80H277.80M275.40,554.25H277.80M275.40,550.70H277.80M275.40,547.15H277.80M275.40,543.60H277.80M275.40,540.05H277.80M275.40,536.50H277.80M275.40,532.95H277.80M278.81,603.60V605.40M281.48,603.60V605.40M283.56,603.60V605.40M285.25,603.60V605.40M286.69,603.60V605.40M287.93,603.60V605.40M289.02,603.60V605.40M290.00,603.60V606.40M296.44,603.60V605.40M300.21,603.60V605.40M302.88,603.60V605.40M304.96,603.60V605.40M306.65,603.60V605.40M308.09,603.60V605.40M309.33,603.60V605.40M310.42,603.60V605.40M311.40,603.60V606.40M317.84,603.60V605.40M321.61,603.60V605.40M324.28,603.60V605.40M326.36,603.60V605.40M328.05,603.60V605.40M329.49,603.60V605.40M330.73,603.60V605.40M331.82,603.60V605.40M332.80,603.60V606.40M339.24,603.60V605.40M343.01,603.60V605.40M345.68,603.60V605.40M347.76,603.60V605.40M349.45,603.60V605.40M350.89,603.60V605.40M352.13,603.60V605.40M353.22,603.60V605.40" stroke="#111" stroke-width="0.9" fill="none"/>
<path d="M273.30,609.00V569.70" stroke="#111" stroke-width="1.1" fill="none"/>
<path d="M271.20,569.70L273.30,565.40L275.40,569.70Z" fill="#111"/>
<path d="M272.75,609.00H313.70" stroke="#111" stroke-width="1.1" fill="none"/>
<path d="M313.50,606.90L318.00,609.00L313.50,611.10Z" fill="#111"/>
<text font-size="6.6" fill="#555" text-anchor="middle" transform="translate(268.00 586.60) rotate(-90)" textLength="34" lengthAdjust="spacingAndGlyphs">norm. count</text>
<text x="290.30" y="620.00" font-size="6.6" fill="#555" textLength="11.50" lengthAdjust="spacingAndGlyphs" stroke="#555" stroke-width="0.15">p53</text>
<text x="356.7" y="540.40" font-size="7.6" fill="#555" stroke="#555" stroke-width="0.15" textLength="51" lengthAdjust="spacingAndGlyphs">shNT + GFP<tspan font-size="5.6" dy="-3">KO</tspan></text>
<text x="356.7" y="551.65" font-size="7.6" fill="#8dbd6b" stroke="#8dbd6b" stroke-width="0.15" textLength="61" lengthAdjust="spacingAndGlyphs">shNT + MDM2<tspan font-size="5.6" dy="-3">KO</tspan></text>
<text x="356.7" y="562.90" font-size="7.6" fill="#a82d52" stroke="#a82d52" stroke-width="0.15" textLength="66" lengthAdjust="spacingAndGlyphs">shTRRAP + GFP<tspan font-size="5.6" dy="-3">KO</tspan></text>
<text x="356.7" y="574.15" font-size="7.6" fill="#4d5c78" stroke="#4d5c78" stroke-width="0.15" textLength="75" lengthAdjust="spacingAndGlyphs">shTRRAP + MDM2<tspan font-size="5.6" dy="-3">KO</tspan></text>
<text x="357.20" y="603.60" font-size="8" fill="#111" font-weight="bold" textLength="32.80" lengthAdjust="spacingAndGlyphs">Namalwa</text>
<text x="49.70" y="242.30" font-size="7.7" fill="#111" font-weight="bold" textLength="63.00" lengthAdjust="spacingAndGlyphs">IP p53 vs. IP IgG</text>
<line x1="46.90" y1="246.50" x2="118.00" y2="246.50" stroke="#222" stroke-width="1.2" />
<text x="16.90" y="259.80" font-size="8.6" fill="#111" font-weight="bold" textLength="25.90" lengthAdjust="spacingAndGlyphs">shRNA</text>
<text x="59.60" y="259.80" font-size="8.6" fill="#444" textLength="10.40" lengthAdjust="spacingAndGlyphs" stroke="#444" stroke-width="0.15">NT</text>
<text x="88.00" y="259.80" font-size="8.6" fill="#444" textLength="24.70" lengthAdjust="spacingAndGlyphs" stroke="#444" stroke-width="0.15">TRRAP</text>
<rect x="47.80" y="264.00" width="34.40" height="8.00" fill="#f7f7f7" />
<rect x="82.90" y="264.00" width="35.00" height="8.00" fill="#1f6fae" />
<text x="121.80" y="270.00" font-size="6.8" fill="#b0442e" font-weight="bold" textLength="14.82" lengthAdjust="spacingAndGlyphs">TP53</text>
<rect x="47.80" y="273.07" width="34.40" height="8.00" fill="#f7f7f7" />
<rect x="82.90" y="273.07" width="35.00" height="8.00" fill="#0b3d6e" />
<text x="121.80" y="279.07" font-size="6.8" fill="#2e2e2e" textLength="29.17" lengthAdjust="spacingAndGlyphs" stroke="#2e2e2e" stroke-width="0.15">HNRNPA0</text>
<rect x="47.80" y="282.14" width="34.40" height="8.00" fill="#f7f7f7" />
<rect x="82.90" y="282.14" width="35.00" height="8.00" fill="#c6dbea" />
<text x="121.80" y="288.14" font-size="6.8" fill="#2e2e2e" textLength="19.99" lengthAdjust="spacingAndGlyphs" stroke="#2e2e2e" stroke-width="0.15">NUP88</text>
<rect x="47.80" y="291.21" width="34.40" height="8.00" fill="#f7f7f7" />
<rect x="82.90" y="291.21" width="35.00" height="8.00" fill="#d7e6f1" />
<text x="121.80" y="297.21" font-size="6.8" fill="#2e2e2e" textLength="23.43" lengthAdjust="spacingAndGlyphs" stroke="#2e2e2e" stroke-width="0.15">NUP155</text>
<rect x="47.80" y="300.28" width="34.40" height="8.00" fill="#f7f7f7" />
<rect x="82.90" y="300.28" width="35.00" height="8.00" fill="#d3e3ef" />
<text x="121.80" y="306.28" font-size="6.8" fill="#2e2e2e" textLength="18.95" lengthAdjust="spacingAndGlyphs" stroke="#2e2e2e" stroke-width="0.15">SF3B1</text>
<rect x="47.80" y="309.35" width="34.40" height="8.00" fill="#f7f7f7" />
<rect x="82.90" y="309.35" width="35.00" height="8.00" fill="#cfe0ed" />
<text x="121.80" y="315.35" font-size="6.8" fill="#2e2e2e" textLength="24.12" lengthAdjust="spacingAndGlyphs" stroke="#2e2e2e" stroke-width="0.15">SEC24D</text>
<rect x="47.80" y="318.42" width="34.40" height="8.00" fill="#f7f7f7" />
<rect x="82.90" y="318.42" width="35.00" height="8.00" fill="#8fbcdc" />
<text x="121.80" y="324.42" font-size="6.8" fill="#2e2e2e" textLength="24.35" lengthAdjust="spacingAndGlyphs" stroke="#2e2e2e" stroke-width="0.15">TOPBP1</text>
<rect x="47.80" y="327.49" width="34.40" height="8.00" fill="#f7f7f7" />
<rect x="82.90" y="327.49" width="35.00" height="8.00" fill="#3f93c5" />
<text x="121.80" y="333.49" font-size="6.8" fill="#2e2e2e" textLength="21.70" lengthAdjust="spacingAndGlyphs" stroke="#2e2e2e" stroke-width="0.15">CARM1</text>
<rect x="47.80" y="338.70" width="34.40" height="8.00" fill="#f7f7f7" />
<rect x="82.90" y="338.70" width="35.00" height="8.00" fill="#ebb59b" />
<text x="121.80" y="344.70" font-size="6.8" fill="#2e2e2e" textLength="17.57" lengthAdjust="spacingAndGlyphs" stroke="#2e2e2e" stroke-width="0.15">EIF3H</text>
<rect x="47.80" y="347.77" width="34.40" height="8.00" fill="#f7f7f7" />
<rect x="82.90" y="347.77" width="35.00" height="8.00" fill="#eab094" />
<text x="121.80" y="353.77" font-size="6.8" fill="#2e2e2e" textLength="15.05" lengthAdjust="spacingAndGlyphs" stroke="#2e2e2e" stroke-width="0.15">TAB1</text>
<rect x="47.80" y="356.84" width="34.40" height="8.00" fill="#f7f7f7" />
<rect x="82.90" y="356.84" width="35.00" height="8.00" fill="#ebb59b" />
<text x="121.80" y="362.84" font-size="6.8" fill="#2e2e2e" textLength="16.54" lengthAdjust="spacingAndGlyphs" stroke="#2e2e2e" stroke-width="0.15">EIF3L</text>
<rect x="47.80" y="365.91" width="34.40" height="8.00" fill="#f7f7f7" />
<rect x="82.90" y="365.91" width="35.00" height="8.00" fill="#ebb59b" />
<text x="121.80" y="371.91" font-size="6.8" fill="#bb4a2c" textLength="16.88" lengthAdjust="spacingAndGlyphs" stroke="#bb4a2c" stroke-width="0.35" stroke="#bb4a2c" stroke-width="0.15">EIF3F</text>
<rect x="47.80" y="374.98" width="34.40" height="8.00" fill="#f7f7f7" />
<rect x="82.90" y="374.98" width="35.00" height="8.00" fill="#ecb99f" />
<text x="121.80" y="380.98" font-size="6.8" fill="#2e2e2e" textLength="19.64" lengthAdjust="spacingAndGlyphs" stroke="#2e2e2e" stroke-width="0.15">SEC13</text>
<rect x="47.80" y="384.05" width="34.40" height="8.00" fill="#f7f7f7" />
<rect x="82.90" y="384.05" width="35.00" height="8.00" fill="#efc6b0" />
<text x="121.80" y="390.05" font-size="6.8" fill="#2e2e2e" textLength="23.78" lengthAdjust="spacingAndGlyphs" stroke="#2e2e2e" stroke-width="0.15">SEC31A</text>
<rect x="47.80" y="393.12" width="34.40" height="8.00" fill="#f7f7f7" />
<rect x="82.90" y="393.12" width="35.00" height="8.00" fill="#f1cfbd" />
<text x="121.80" y="399.12" font-size="6.8" fill="#2e2e2e" textLength="12.75" lengthAdjust="spacingAndGlyphs" stroke="#2e2e2e" stroke-width="0.15">VCP</text>
<rect x="47.80" y="402.19" width="34.40" height="8.00" fill="#f7f7f7" />
<rect x="82.90" y="402.19" width="35.00" height="8.00" fill="#f4dfd3" />
<text x="121.80" y="408.19" font-size="6.8" fill="#2e2e2e" textLength="26.88" lengthAdjust="spacingAndGlyphs" stroke="#2e2e2e" stroke-width="0.15">ZFYVE16</text>
<rect x="47.80" y="411.26" width="34.40" height="8.00" fill="#f7f7f7" />
<rect x="82.90" y="411.26" width="35.00" height="8.00" fill="#f4e0d5" />
<text x="121.80" y="417.26" font-size="6.8" fill="#2e2e2e" textLength="14.82" lengthAdjust="spacingAndGlyphs" stroke="#2e2e2e" stroke-width="0.15">EIF3I</text>
<rect x="47.80" y="420.33" width="34.40" height="8.00" fill="#f7f7f7" />
<rect x="82.90" y="420.33" width="35.00" height="8.00" fill="#f3dcd0" />
<text x="121.80" y="426.33" font-size="6.8" fill="#2e2e2e" textLength="18.26" lengthAdjust="spacingAndGlyphs" stroke="#2e2e2e" stroke-width="0.15">EIF3M</text>
<rect x="47.80" y="429.40" width="34.40" height="8.00" fill="#f7f7f7" />
<rect x="82.90" y="429.40" width="35.00" height="8.00" fill="#f2d6c8" />
<text x="121.80" y="435.40" font-size="6.8" fill="#2e2e2e" textLength="29.28" lengthAdjust="spacingAndGlyphs" stroke="#2e2e2e" stroke-width="0.15">TUBGCP2</text>
<rect x="47.80" y="438.47" width="34.40" height="8.00" fill="#f7f7f7" />
<rect x="82.90" y="438.47" width="35.00" height="8.00" fill="#f2d8ca" />
<text x="121.80" y="444.47" font-size="6.8" fill="#2e2e2e" textLength="17.23" lengthAdjust="spacingAndGlyphs" stroke="#2e2e2e" stroke-width="0.15">EIF3E</text>
<rect x="47.80" y="447.54" width="34.40" height="8.00" fill="#f7f7f7" />
<rect x="82.90" y="447.54" width="35.00" height="8.00" fill="#f6eeea" />
<text x="121.80" y="453.54" font-size="6.8" fill="#2e2e2e" textLength="17.92" lengthAdjust="spacingAndGlyphs" stroke="#2e2e2e" stroke-width="0.15">EIF3G</text>
<rect x="47.80" y="456.61" width="34.40" height="8.00" fill="#f7f7f7" />
<rect x="82.90" y="456.61" width="35.00" height="8.00" fill="#f3f5f8" />
<text x="121.80" y="462.61" font-size="6.8" fill="#2e2e2e" textLength="17.23" lengthAdjust="spacingAndGlyphs" stroke="#2e2e2e" stroke-width="0.15">EIF3B</text>
<rect x="47.80" y="465.68" width="34.40" height="8.00" fill="#f7f7f7" />
<rect x="82.90" y="465.68" width="35.00" height="8.00" fill="#d86f5c" />
<text x="121.80" y="471.68" font-size="6.8" fill="#2e2e2e" textLength="24.35" lengthAdjust="spacingAndGlyphs" stroke="#2e2e2e" stroke-width="0.15">SNRPA1</text>
<rect x="47.80" y="474.75" width="34.40" height="8.00" fill="#f7f7f7" />
<rect x="82.90" y="474.75" width="35.00" height="8.00" fill="#e08872" />
<text x="121.80" y="480.75" font-size="6.8" fill="#2e2e2e" textLength="20.33" lengthAdjust="spacingAndGlyphs" stroke="#2e2e2e" stroke-width="0.15">ANXA7</text>
<rect x="47.80" y="483.82" width="34.40" height="8.00" fill="#f7f7f7" />
<rect x="82.90" y="483.82" width="35.00" height="8.00" fill="#e49a80" />
<text x="121.80" y="489.82" font-size="6.8" fill="#2e2e2e" textLength="15.73" lengthAdjust="spacingAndGlyphs" stroke="#2e2e2e" stroke-width="0.15">CLTC</text>
<rect x="47.80" y="492.89" width="34.40" height="8.00" fill="#f7f7f7" />
<rect x="82.90" y="492.89" width="35.00" height="8.00" fill="#e6a286" />
<text x="121.80" y="498.89" font-size="6.8" fill="#bb4a2c" textLength="16.54" lengthAdjust="spacingAndGlyphs" stroke="#bb4a2c" stroke-width="0.35" stroke="#bb4a2c" stroke-width="0.15">XPO1</text>
<rect x="47.80" y="501.96" width="34.40" height="8.00" fill="#f7f7f7" />
<rect x="82.90" y="501.96" width="35.00" height="8.00" fill="#b50d2e" />
<text x="121.80" y="507.96" font-size="6.8" fill="#2e2e2e" textLength="19.64" lengthAdjust="spacingAndGlyphs" stroke="#2e2e2e" stroke-width="0.15">SCYL2</text>
<rect x="157.60" y="264.00" width="4.30" height="9.07" fill="#124c61" />
<rect x="157.60" y="273.07" width="4.30" height="9.07" fill="#124c61" />
<rect x="157.60" y="282.14" width="4.30" height="9.07" fill="#124c61" />
<rect x="157.60" y="291.21" width="4.30" height="9.07" fill="#124c61" />
<rect x="157.60" y="300.28" width="4.30" height="8.00" fill="#124c61" />
<rect x="157.60" y="309.35" width="4.30" height="8.00" fill="#fafafa" />
<rect x="157.60" y="318.42" width="4.30" height="9.07" fill="#124c61" />
<rect x="157.60" y="327.49" width="4.30" height="8.00" fill="#124c61" />
<rect x="157.60" y="338.70" width="4.30" height="8.00" fill="#fafafa" />
<rect x="157.60" y="347.77" width="4.30" height="9.07" fill="#124c61" />
<rect x="157.60" y="356.84" width="4.30" height="8.00" fill="#124c61" />
<rect x="157.60" y="365.91" width="4.30" height="8.00" fill="#fafafa" />
<rect x="157.60" y="374.98" width="4.30" height="8.00" fill="#124c61" />
<rect x="157.60" y="384.05" width="4.30" height="8.00" fill="#fafafa" />
<rect x="157.60" y="393.12" width="4.30" height="8.00" fill="#124c61" />
<rect x="157.60" y="402.19" width="4.30" height="8.00" fill="#fafafa" />
<rect x="157.60" y="411.26" width="4.30" height="8.00" fill="#fafafa" />
<rect x="157.60" y="420.33" width="4.30" height="8.00" fill="#fafafa" />
<rect x="157.60" y="429.40" width="4.30" height="9.07" fill="#124c61" />
<rect x="157.60" y="438.47" width="4.30" height="8.00" fill="#124c61" />
<rect x="157.60" y="447.54" width="4.30" height="8.00" fill="#fafafa" />
<rect x="157.60" y="456.61" width="4.30" height="9.07" fill="#124c61" />
<rect x="157.60" y="465.68" width="4.30" height="9.07" fill="#124c61" />
<rect x="157.60" y="474.75" width="4.30" height="8.00" fill="#124c61" />
<rect x="157.60" y="483.82" width="4.30" height="8.00" fill="#fafafa" />
<rect x="157.60" y="492.89" width="4.30" height="8.00" fill="#124c61" />
<rect x="157.60" y="501.96" width="4.30" height="8.00" fill="#fafafa" />
<rect x="165.90" y="264.00" width="4.30" height="8.00" fill="#d46b1f" />
<rect x="165.90" y="273.07" width="4.30" height="8.00" fill="#fafafa" />
<rect x="165.90" y="282.14" width="4.30" height="8.00" fill="#d46b1f" />
<rect x="165.90" y="291.21" width="4.30" height="8.00" fill="#fafafa" />
<rect x="165.90" y="300.28" width="4.30" height="8.00" fill="#fafafa" />
<rect x="165.90" y="309.35" width="4.30" height="8.00" fill="#d46b1f" />
<rect x="165.90" y="318.42" width="4.30" height="8.00" fill="#fafafa" />
<rect x="165.90" y="327.49" width="4.30" height="8.00" fill="#d46b1f" />
<rect x="165.90" y="338.70" width="4.30" height="9.07" fill="#d46b1f" />
<rect x="165.90" y="347.77" width="4.30" height="9.07" fill="#d46b1f" />
<rect x="165.90" y="356.84" width="4.30" height="9.07" fill="#d46b1f" />
<rect x="165.90" y="365.91" width="4.30" height="9.07" fill="#d46b1f" />
<rect x="165.90" y="374.98" width="4.30" height="9.07" fill="#d46b1f" />
<rect x="165.90" y="384.05" width="4.30" height="9.07" fill="#d46b1f" />
<rect x="165.90" y="393.12" width="4.30" height="9.07" fill="#d46b1f" />
<rect x="165.90" y="402.19" width="4.30" height="9.07" fill="#d46b1f" />
<rect x="165.90" y="411.26" width="4.30" height="9.07" fill="#d46b1f" />
<rect x="165.90" y="420.33" width="4.30" height="9.07" fill="#d46b1f" />
<rect x="165.90" y="429.40" width="4.30" height="9.07" fill="#d46b1f" />
<rect x="165.90" y="438.47" width="4.30" height="9.07" fill="#d46b1f" />
<rect x="165.90" y="447.54" width="4.30" height="9.07" fill="#d46b1f" />
<rect x="165.90" y="456.61" width="4.30" height="8.00" fill="#d46b1f" />
<rect x="165.90" y="465.68" width="4.30" height="8.00" fill="#fafafa" />
<rect x="165.90" y="474.75" width="4.30" height="9.07" fill="#d46b1f" />
<rect x="165.90" y="483.82" width="4.30" height="9.07" fill="#d46b1f" />
<rect x="165.90" y="492.89" width="4.30" height="9.07" fill="#d46b1f" />
<rect x="165.90" y="501.96" width="4.30" height="8.00" fill="#d46b1f" />
<rect x="174.70" y="264.00" width="4.40" height="8.00" fill="#fafafa" />
<rect x="174.70" y="273.07" width="4.40" height="8.00" fill="#fafafa" />
<rect x="174.70" y="282.14" width="4.40" height="8.00" fill="#fafafa" />
<rect x="174.70" y="291.21" width="4.40" height="8.00" fill="#fafafa" />
<rect x="174.70" y="300.28" width="4.40" height="8.00" fill="#fafafa" />
<rect x="174.70" y="309.35" width="4.40" height="8.00" fill="#fafafa" />
<rect x="174.70" y="318.42" width="4.40" height="8.00" fill="#fafafa" />
<rect x="174.70" y="327.49" width="4.40" height="8.00" fill="#f0c65a" />
<rect x="174.70" y="338.70" width="4.40" height="8.00" fill="#fafafa" />
<rect x="174.70" y="347.77" width="4.40" height="8.00" fill="#fafafa" />
<rect x="174.70" y="356.84" width="4.40" height="8.00" fill="#fafafa" />
<rect x="174.70" y="365.91" width="4.40" height="8.00" fill="#fafafa" />
<rect x="174.70" y="374.98" width="4.40" height="8.00" fill="#fafafa" />
<rect x="174.70" y="384.05" width="4.40" height="8.00" fill="#fafafa" />
<rect x="174.70" y="393.12" width="4.40" height="8.00" fill="#f0c65a" />
<rect x="174.70" y="402.19" width="4.40" height="8.00" fill="#fafafa" />
<rect x="174.70" y="411.26" width="4.40" height="8.00" fill="#fafafa" />
<rect x="174.70" y="420.33" width="4.40" height="8.00" fill="#fafafa" />
<rect x="174.70" y="429.40" width="4.40" height="8.00" fill="#fafafa" />
<rect x="174.70" y="438.47" width="4.40" height="8.00" fill="#fafafa" />
<rect x="174.70" y="447.54" width="4.40" height="8.00" fill="#fafafa" />
<rect x="174.70" y="456.61" width="4.40" height="8.00" fill="#fafafa" />
<rect x="174.70" y="465.68" width="4.40" height="8.00" fill="#fafafa" />
<rect x="174.70" y="474.75" width="4.40" height="9.07" fill="#f0c65a" />
<rect x="174.70" y="483.82" width="4.40" height="8.00" fill="#f0c65a" />
<rect x="174.70" y="492.89" width="4.40" height="8.00" fill="#fafafa" />
<rect x="174.70" y="501.96" width="4.40" height="8.00" fill="#fafafa" />
<rect x="185.90" y="263.80" width="19.00" height="72.00" fill="#4b8fd3" />
<rect x="185.90" y="337.20" width="19.60" height="173.00" fill="#df8c3e" />
<text font-size="6.4" fill="#eef4fb" text-anchor="middle" transform="translate(194.2 300.6) rotate(-90)" textLength="57" lengthAdjust="spacingAndGlyphs">mutp53 interactions</text>
<text font-size="6.4" fill="#eef4fb" text-anchor="middle" transform="translate(201.0 303.0) rotate(-90)" textLength="23" lengthAdjust="spacingAndGlyphs">lost (8)</text>
<text font-size="6.4" fill="#fbeedd" text-anchor="middle" transform="translate(194.0 425.6) rotate(-90)" textLength="57.5" lengthAdjust="spacingAndGlyphs">mutp53 interactions</text>
<text font-size="6.4" fill="#fbeedd" text-anchor="middle" transform="translate(200.8 431.8) rotate(-90)" textLength="25.6" lengthAdjust="spacingAndGlyphs">gained (19)</text>
<line x1="31.00" y1="336.90" x2="205.00" y2="336.90" stroke="#222" stroke-width="1.3" stroke-dasharray="3.1,2.1"/>
<path d="M46.5,268.0H41.6V277.1H46.5M46.5,286.1H43.8V313.4H46.5M43.8,295.2H46.5M43.8,304.3H46.5M46.5,322.4H43.4V331.5H46.5M43.8,297.5H38.7V327.0H43.4M41.6,272.5H31.0V310.7H38.7M44,342.7H46.5M44,351.8H46.5M44,360.8H46.5M44,369.9H46.5M44,379.0H46.5M44,388.1H46.5M44,397.1H46.5M44,406.2H46.5M44,415.3H46.5M44,424.3H46.5M44,433.4H46.5M44,442.5H46.5M44,451.5H46.5M44,460.6H46.5M44,469.7H46.5M44,478.8H46.5M44,487.8H46.5M44,496.9H46.5M44,506.0H46.5M45.2,342.7V388.1M44.3,360.8V415.3M42.6,378V442.5M42.6,395.0H39.2V455.8H44.0M44,433.4V460.6M44.6,469.7V496.9M44.6,483.4H37.2V506.0H46.5M39.2,429.4H31.1V494.3H37.2" stroke="#555" stroke-width="0.9" fill="none"/>
<text x="84.20" y="520.30" font-size="8" fill="#111" font-weight="bold" text-anchor="middle" textLength="34.60" lengthAdjust="spacingAndGlyphs">Namalwa</text>
<text x="214.70" y="267.80" font-size="6.6" fill="#111" font-weight="bold" textLength="21.30" lengthAdjust="spacingAndGlyphs">log2FC</text>
<defs><linearGradient id="rdbu" x1="0" y1="0" x2="0" y2="1">
<stop offset="0" stop-color="#67001f"/><stop offset="0.125" stop-color="#b2182b"/><stop offset="0.25" stop-color="#d6604d"/>
<stop offset="0.375" stop-color="#f4a582"/><stop offset="0.5" stop-color="#f7f7f7"/><stop offset="0.625" stop-color="#92c5de"/>
<stop offset="0.75" stop-color="#4393c3"/><stop offset="0.875" stop-color="#2166ac"/><stop offset="1" stop-color="#053061"/></linearGradient></defs>
<rect x="214.70" y="270.00" width="8.10" height="38.40" fill="url(#rdbu)" />
<line x1="220.50" y1="274.00" x2="222.80" y2="274.00" stroke="#fff" stroke-width="0.7" />
<text x="225.00" y="276.20" font-size="6.5" fill="#333" stroke="#333" stroke-width="0.15">2</text>
<line x1="220.50" y1="281.40" x2="222.80" y2="281.40" stroke="#fff" stroke-width="0.7" />
<text x="225.00" y="283.60" font-size="6.5" fill="#333" stroke="#333" stroke-width="0.15">1</text>
<line x1="220.50" y1="289.50" x2="222.80" y2="289.50" stroke="#fff" stroke-width="0.7" />
<text x="225.00" y="291.70" font-size="6.5" fill="#333" stroke="#333" stroke-width="0.15">0</text>
<line x1="220.50" y1="297.60" x2="222.80" y2="297.60" stroke="#fff" stroke-width="0.7" />
<text x="225.00" y="299.80" font-size="6.5" fill="#333" stroke="#333" stroke-width="0.15">&#8722;1</text>
<line x1="220.50" y1="305.70" x2="222.80" y2="305.70" stroke="#fff" stroke-width="0.7" />
<text x="225.00" y="307.90" font-size="6.5" fill="#333" stroke="#333" stroke-width="0.15">&#8722;2</text>
<text x="214.70" y="315.80" font-size="6.6" fill="#111" font-weight="bold" textLength="24.50" lengthAdjust="spacingAndGlyphs">nucleus</text>
<rect x="214.70" y="318.60" width="8.10" height="6.80" fill="#fcfcfc" />
<text x="225.20" y="323.80" font-size="6.3" fill="#444" textLength="6.80" lengthAdjust="spacingAndGlyphs" stroke="#444" stroke-width="0.15">no</text>
<rect x="214.70" y="326.60" width="8.10" height="6.80" fill="#124c61" />
<text x="225.20" y="332.20" font-size="6.3" fill="#444" textLength="8.80" lengthAdjust="spacingAndGlyphs" stroke="#444" stroke-width="0.15">yes</text>
<text x="214.70" y="342.80" font-size="6.6" fill="#111" font-weight="bold" textLength="21.50" lengthAdjust="spacingAndGlyphs">cytosol</text>
<rect x="214.70" y="344.80" width="8.10" height="6.80" fill="#fcfcfc" />
<text x="225.20" y="350.60" font-size="6.3" fill="#444" textLength="6.80" lengthAdjust="spacingAndGlyphs" stroke="#444" stroke-width="0.15">no</text>
<rect x="214.70" y="352.50" width="8.10" height="7.10" fill="#d46b1f" />
<text x="225.20" y="358.60" font-size="6.3" fill="#444" textLength="8.80" lengthAdjust="spacingAndGlyphs" stroke="#444" stroke-width="0.15">yes</text>
<text x="214.70" y="368.60" font-size="6.8" fill="#111" font-weight="bold" textLength="34.00" lengthAdjust="spacingAndGlyphs">known p53</text>
<text x="214.70" y="376.40" font-size="6.8" fill="#111" font-weight="bold" textLength="29.60" lengthAdjust="spacingAndGlyphs">interactor</text>
<rect x="214.70" y="378.30" width="8.10" height="6.80" fill="#fcfcfc" />
<text x="225.20" y="384.00" font-size="6.3" fill="#444" textLength="6.80" lengthAdjust="spacingAndGlyphs" stroke="#444" stroke-width="0.15">no</text>
<rect x="214.70" y="386.00" width="8.10" height="6.80" fill="#f0c65a" />
<text x="225.20" y="391.80" font-size="6.3" fill="#444" textLength="8.80" lengthAdjust="spacingAndGlyphs" stroke="#444" stroke-width="0.15">yes</text>
<path d="M305.50,17.7V250.2M344.50,17.7V250.2M422.50,17.7V250.2M461.50,17.7V250.2M500.50,17.7V250.2M279.2,240.20H512.8M279.2,200.40H512.8M279.2,160.60H512.8M279.2,120.80H512.8M279.2,81.00H512.8M279.2,41.20H512.8" stroke="#cbcbcb" stroke-width="1.05" fill="none"/>
<path d="M395.2,196.7h0M359.2,223.8h0M368.3,211.7h0M376.7,228.6h0M380.6,239.5h0M392.8,230.7h0M375.7,226.1h0M395.4,237.7h0M382.3,238.9h0M401.7,218.3h0M355.5,216.3h0M392.8,214.7h0M403.7,235.2h0M366.5,192.4h0M396.0,208.9h0M409.0,196.1h0M368.1,228.9h0M375.6,238.4h0M405.1,230.6h0M391.5,227.7h0M401.0,193.7h0M380.4,239.2h0M384.9,237.4h0M360.9,221.3h0M364.0,232.4h0M368.2,225.0h0M405.9,214.2h0M382.1,239.3h0M366.3,201.4h0M384.1,240.2h0M366.1,193.2h0M376.5,219.9h0M403.7,233.5h0M368.1,225.0h0M372.9,211.6h0M409.6,228.9h0M389.2,230.8h0M392.0,216.5h0M373.9,207.9h0M402.6,232.2h0M363.9,232.0h0M381.5,233.5h0M361.7,193.9h0M401.5,210.9h0M382.6,239.9h0M401.4,227.8h0M373.0,238.2h0M366.4,212.9h0M365.2,218.0h0M377.9,223.1h0M387.5,227.1h0M366.2,209.2h0M381.3,233.1h0M401.5,231.4h0M366.0,183.5h0M396.7,212.2h0M357.2,211.2h0M394.9,237.4h0M399.7,222.1h0M393.7,231.7h0M395.7,237.6h0M352.6,207.5h0M350.9,193.1h0M389.1,220.2h0M367.3,186.4h0M397.6,237.6h0M398.2,220.8h0M401.6,192.5h0M387.1,235.7h0M405.9,176.4h0M362.8,226.6h0M367.2,221.5h0M397.0,190.5h0M359.9,168.0h0M372.8,204.9h0M384.3,237.6h0M409.2,203.9h0M356.5,159.8h0M404.3,222.8h0M355.0,220.6h0M361.0,224.8h0M369.7,203.8h0M371.5,200.8h0M402.6,219.4h0M383.0,240.2h0M374.1,219.3h0M404.8,230.8h0M357.4,167.9h0M394.4,225.4h0M397.0,222.1h0M407.0,221.7h0M368.1,201.9h0M376.2,236.7h0M406.5,226.5h0M387.4,238.1h0M403.4,215.0h0M356.2,171.6h0M370.0,234.6h0M373.0,222.7h0M400.8,222.8h0M381.8,234.9h0M405.2,205.4h0M364.6,228.7h0M407.2,217.8h0M398.9,221.6h0M348.8,195.6h0M383.2,239.6h0M384.2,240.1h0M373.3,234.3h0M389.6,230.2h0M415.6,120.7h0M393.6,207.7h0M369.0,221.1h0M361.6,203.9h0M398.7,224.8h0M397.6,202.5h0M387.8,234.2h0M392.1,210.5h0M386.6,233.3h0M407.8,221.4h0M369.3,204.1h0M397.9,214.7h0M354.6,214.2h0M392.1,230.2h0M383.3,240.0h0M389.1,239.1h0M377.7,236.5h0M402.9,226.5h0M380.9,235.8h0M382.6,239.1h0M397.4,223.8h0M391.0,238.4h0M360.6,218.9h0M399.3,232.6h0M375.8,229.3h0M360.7,204.9h0M407.8,222.9h0M409.7,205.4h0M357.1,228.4h0M372.5,230.5h0M395.4,215.5h0M404.4,224.7h0M408.9,205.0h0M368.2,228.7h0M390.2,219.4h0M363.1,221.3h0M408.0,199.5h0M377.0,231.2h0M392.9,225.0h0M402.4,219.6h0M381.0,239.3h0M381.9,239.6h0M380.9,232.1h0M404.4,202.5h0M353.1,197.8h0M389.5,238.9h0M353.3,215.4h0M414.1,210.9h0M415.8,187.5h0M399.2,217.2h0M407.4,209.1h0M404.4,231.0h0M391.7,217.1h0M408.7,207.0h0M390.2,222.3h0M399.0,234.0h0M361.8,201.6h0M357.3,227.0h0M410.2,174.6h0M370.0,197.6h0M418.1,161.2h0M358.2,225.8h0M353.1,212.1h0M357.6,227.0h0M388.5,238.9h0M380.8,239.4h0M378.9,233.8h0M400.8,229.9h0M388.9,237.3h0M362.9,203.2h0M386.3,237.1h0M374.6,238.8h0M368.9,229.9h0M363.8,177.8h0M377.2,226.2h0M366.8,205.1h0M373.1,228.9h0M408.4,220.5h0M395.8,233.2h0M368.1,203.3h0M387.4,236.0h0M353.7,186.4h0M397.7,235.8h0M365.1,229.2h0M393.5,205.9h0M396.2,237.8h0M391.3,211.8h0M404.5,233.0h0M381.3,237.3h0M383.6,240.2h0M386.4,239.5h0M364.3,229.3h0M361.9,222.1h0M380.9,237.4h0M352.1,211.4h0M401.4,225.3h0M380.5,237.7h0M414.3,196.6h0M360.3,171.2h0M389.3,236.5h0M406.2,206.1h0M393.0,207.4h0M408.6,204.1h0M372.8,209.1h0M382.4,237.6h0M367.2,224.1h0M382.9,238.9h0M376.2,225.1h0M371.1,218.2h0M356.6,207.9h0M372.7,219.4h0M402.9,172.0h0M354.6,193.8h0M373.9,215.9h0M370.1,208.5h0M409.3,218.9h0M413.6,207.4h0M368.6,235.8h0M387.3,226.5h0M403.7,233.1h0M372.4,235.1h0M402.4,222.5h0M365.6,211.4h0M385.4,239.1h0M402.2,226.6h0M402.5,223.3h0M399.6,229.3h0M362.9,229.3h0M415.1,190.7h0M388.1,232.7h0M375.0,214.0h0M399.1,220.5h0M379.4,238.6h0M372.1,231.5h0M352.2,209.9h0M391.3,212.7h0M385.9,234.2h0M362.7,199.0h0M397.4,215.4h0M364.2,186.4h0M357.4,164.3h0M380.0,238.2h0M401.9,212.3h0M375.5,229.3h0M356.5,224.3h0M397.4,194.0h0M362.7,223.5h0M389.6,237.9h0M375.3,227.1h0M406.5,220.0h0M401.6,229.2h0M369.8,224.9h0M365.5,216.7h0M378.0,233.0h0M394.5,207.8h0M377.2,239.1h0M372.9,227.8h0M367.0,198.9h0M389.8,229.1h0M372.0,217.3h0M407.9,180.8h0M391.7,214.2h0M363.7,185.0h0M362.1,226.5h0M373.9,225.3h0M358.8,219.9h0M360.8,204.6h0M395.0,217.8h0M375.1,235.7h0M402.6,172.9h0M380.5,232.4h0M390.6,236.0h0M370.7,214.6h0M402.7,231.2h0M385.3,238.7h0M362.4,231.4h0M375.9,221.4h0M402.8,189.7h0M409.9,218.9h0M415.3,172.8h0M386.9,239.7h0M373.5,227.0h0M365.7,235.5h0M353.8,140.4h0M368.3,236.8h0M377.9,229.2h0M383.2,240.2h0M391.7,231.3h0M366.8,233.6h0M358.8,206.0h0M371.2,219.0h0M413.9,204.5h0M383.4,240.1h0M380.9,237.2h0M378.3,238.3h0M398.2,204.6h0M396.9,232.8h0M382.9,239.9h0M368.5,199.6h0M378.8,233.9h0M399.7,212.2h0M416.8,179.6h0M401.8,233.5h0M351.8,188.3h0M388.8,229.6h0M375.0,211.6h0M375.6,220.0h0M373.0,237.1h0M362.5,213.5h0M392.2,208.9h0M388.0,236.8h0M407.8,221.9h0M388.8,235.5h0M374.7,235.2h0M408.4,191.2h0M395.7,230.4h0M361.4,229.3h0M388.2,233.4h0M378.9,239.1h0M378.3,222.7h0M371.8,237.1h0M409.3,216.1h0M397.5,210.6h0M370.7,226.6h0M391.7,232.5h0M411.9,220.4h0M349.5,185.4h0M374.2,237.0h0M390.1,225.5h0M374.5,225.0h0M380.4,236.8h0M370.5,215.4h0M375.1,223.3h0M390.7,222.1h0M395.7,215.8h0M389.0,237.9h0M356.0,217.7h0M365.8,186.8h0M377.3,229.2h0M397.0,218.3h0M366.2,236.7h0M393.5,205.6h0M366.6,223.2h0M385.6,236.7h0M356.9,214.0h0M406.9,227.7h0M386.9,235.0h0M354.2,209.2h0M375.6,219.5h0M370.1,235.1h0M381.5,233.3h0M376.6,236.9h0M386.4,239.7h0M366.3,208.0h0M417.7,129.1h0M372.7,225.1h0M396.6,216.9h0M403.3,223.0h0M394.8,234.3h0M409.1,171.3h0M350.2,171.1h0M379.5,239.5h0M393.2,228.5h0M374.0,221.6h0M415.3,200.3h0M393.1,237.3h0M377.9,236.2h0M352.3,208.5h0M357.1,213.0h0M413.2,198.8h0M373.0,221.3h0M397.5,229.8h0M367.3,234.0h0M369.1,218.5h0M372.1,215.5h0M412.5,217.4h0M385.8,238.8h0M396.3,236.6h0M369.5,222.5h0M377.4,227.2h0M397.2,232.4h0M398.2,229.6h0M390.3,220.8h0M374.0,215.0h0M382.9,239.7h0M390.1,222.1h0M375.6,234.9h0M407.0,199.0h0M371.0,206.2h0M368.8,204.7h0M379.6,232.7h0M356.0,186.7h0M413.2,206.7h0M404.4,226.6h0M383.9,238.7h0M362.2,221.9h0M386.0,237.9h0M381.4,233.2h0M392.7,207.2h0M363.9,234.0h0M361.3,231.4h0M419.7,163.0h0M405.5,203.0h0M365.9,228.7h0M387.2,239.2h0M385.4,239.6h0M356.9,206.6h0M373.4,231.6h0M395.8,220.2h0M415.5,119.9h0M397.9,212.8h0M382.4,239.7h0M369.3,235.9h0M369.0,228.3h0M379.0,230.2h0M373.8,228.3h0M386.8,228.5h0M381.5,233.5h0M392.8,236.8h0M388.7,236.0h0M368.3,219.3h0M415.1,203.3h0M354.0,187.6h0M353.4,161.4h0M399.3,235.3h0M399.1,226.9h0M388.4,227.8h0M392.0,239.0h0M392.9,217.0h0M410.7,216.4h0M417.9,202.8h0M387.2,226.5h0M378.1,236.5h0M389.0,221.1h0M384.8,240.0h0M390.3,232.3h0M355.8,223.7h0M400.9,225.8h0M417.9,195.5h0M390.7,227.9h0M379.2,239.5h0M398.3,221.5h0M403.8,198.5h0M388.9,236.2h0M369.9,232.8h0M407.0,211.6h0M384.1,239.5h0M378.3,239.5h0M390.8,232.6h0M371.0,236.4h0M358.0,176.9h0M385.9,231.8h0M377.3,226.7h0M362.3,183.0h0M393.4,236.3h0M359.0,199.2h0M380.4,232.6h0M390.0,238.5h0M357.6,208.3h0M402.6,230.1h0M375.3,226.5h0M377.4,230.2h0M377.8,226.2h0M385.1,235.7h0M393.0,211.5h0M403.5,232.9h0M397.1,235.9h0M389.7,219.7h0M382.2,239.6h0M371.9,223.6h0M387.4,225.5h0M407.4,197.8h0M406.8,227.5h0M347.6,148.6h0M369.9,196.7h0M396.6,221.3h0M403.7,234.3h0M365.2,235.7h0M404.4,220.9h0M400.3,209.6h0M399.3,236.9h0M417.8,202.0h0M357.6,222.9h0M389.6,220.8h0M390.9,227.3h0M351.3,201.6h0M407.4,227.6h0M358.5,164.3h0M388.6,239.2h0M364.7,193.7h0M377.2,239.2h0M375.2,231.7h0M370.7,212.8h0M368.3,230.8h0M402.7,233.4h0M373.2,221.3h0M389.7,223.9h0M405.5,228.0h0M365.6,235.6h0M370.9,223.0h0M371.2,233.2h0M403.2,205.2h0M406.0,185.6h0M356.4,212.6h0M368.8,215.4h0M382.2,240.0h0M399.9,223.2h0M403.7,232.4h0M369.0,232.6h0M384.1,240.2h0M380.6,239.3h0M392.0,208.9h0M387.3,235.1h0M389.9,232.0h0M373.7,235.5h0M366.0,234.5h0M366.3,205.7h0M367.3,231.3h0M373.1,231.1h0M383.6,240.2h0M376.3,220.6h0M413.0,183.2h0M381.2,234.1h0M381.2,238.9h0M359.4,175.4h0M406.8,183.9h0M376.7,238.7h0M407.2,219.8h0M392.5,225.2h0M349.6,196.8h0M379.7,239.6h0M364.1,227.3h0M398.6,227.6h0M389.8,239.2h0M401.2,230.7h0M359.7,202.0h0M380.0,237.0h0M386.6,229.4h0M375.1,223.9h0M369.2,218.1h0M365.1,210.9h0M387.8,238.7h0M390.8,226.3h0M374.9,219.2h0M389.2,237.9h0M382.1,239.5h0M408.8,196.8h0M362.8,227.4h0M362.4,231.5h0M392.1,224.5h0M382.5,238.4h0M389.3,237.7h0M383.1,239.9h0M393.7,224.4h0M402.0,179.3h0M395.6,236.6h0M408.0,170.4h0M398.5,225.1h0M417.3,139.2h0M396.0,211.3h0M375.4,233.6h0M357.4,225.8h0M391.4,230.0h0M398.4,225.1h0M374.0,231.4h0M366.4,231.4h0M373.5,237.3h0M395.8,193.9h0M404.1,232.9h0M364.9,225.8h0M410.0,226.2h0M386.4,239.6h0M402.2,226.4h0M361.6,187.2h0M383.7,240.1h0M393.0,236.0h0M352.0,181.7h0M391.5,227.0h0M372.4,235.2h0M376.4,218.3h0M392.7,236.4h0M389.9,239.1h0M365.8,234.4h0M399.4,234.7h0M394.5,213.2h0M406.1,191.8h0M365.0,226.5h0M403.9,172.3h0M363.2,201.6h0M368.0,207.5h0M355.9,207.9h0M405.0,223.1h0M415.5,174.0h0M364.8,183.0h0M362.3,233.9h0M348.1,182.2h0M388.0,233.5h0M370.5,224.2h0M379.4,234.9h0M415.9,183.0h0M385.8,238.9h0M376.5,226.4h0M389.2,221.7h0M397.2,216.0h0M371.9,238.1h0M378.1,234.0h0M373.6,216.2h0M373.1,226.9h0M401.9,214.7h0M396.6,207.4h0M361.6,193.3h0M403.5,228.9h0M395.2,237.4h0M378.2,233.7h0M373.1,237.0h0M380.9,232.1h0M369.3,219.3h0M391.4,211.3h0M379.0,236.4h0M399.6,231.2h0M390.8,213.5h0M375.7,221.9h0M385.1,238.5h0M415.9,137.6h0M364.3,227.5h0M389.4,232.5h0M398.7,219.7h0M398.4,227.7h0M359.3,230.4h0M399.5,215.4h0M392.6,236.3h0M376.8,223.0h0M387.9,235.0h0M376.2,234.6h0M382.8,239.7h0M382.2,237.7h0M401.9,235.6h0M410.5,184.7h0M375.5,221.0h0M360.2,217.5h0M375.3,212.9h0M387.6,237.1h0M364.3,190.3h0M400.6,222.3h0M409.3,203.4h0M387.1,233.2h0M389.5,235.1h0M379.3,239.3h0M380.0,239.5h0M410.8,197.7h0M362.2,198.2h0M370.7,235.2h0M356.2,226.2h0M380.6,238.4h0M366.8,230.7h0M414.4,181.4h0M390.2,233.8h0M384.7,236.5h0M365.3,236.2h0M397.2,225.3h0M390.8,230.8h0M377.0,238.1h0M358.1,199.8h0M375.7,221.8h0M397.3,234.2h0M394.0,220.6h0M368.6,227.7h0M380.6,234.0h0M374.1,218.7h0M365.8,214.9h0M373.4,217.6h0M376.7,217.6h0M362.8,231.3h0M388.1,235.7h0M361.7,192.4h0M380.4,239.6h0M381.1,239.2h0M389.5,221.9h0M408.3,198.9h0M413.7,188.8h0M373.3,219.6h0M398.9,220.8h0M360.1,163.1h0M393.3,238.4h0M362.4,228.6h0M396.9,191.7h0M379.2,238.6h0M377.9,234.9h0M382.5,239.8h0M369.4,222.2h0M371.6,226.0h0M379.8,228.5h0M404.5,202.8h0M387.1,228.7h0M357.1,206.2h0M407.1,225.3h0M387.9,236.9h0M392.0,211.9h0M386.5,239.0h0M407.1,202.7h0M396.5,214.2h0M377.5,229.0h0M413.6,217.9h0M396.8,226.7h0M399.8,198.5h0M389.9,237.4h0M396.7,206.2h0M367.3,228.0h0M366.9,215.0h0M394.2,234.8h0M383.6,240.0h0M387.0,234.6h0M381.8,239.0h0M407.2,219.6h0M363.5,206.5h0M362.7,227.1h0M379.7,231.9h0M398.8,209.0h0M366.6,185.0h0M382.3,240.0h0M361.4,183.2h0M360.4,232.6h0M385.0,239.4h0M359.1,224.0h0M362.3,225.3h0M386.6,235.0h0M372.5,211.6h0M377.7,221.9h0M375.8,219.3h0M390.7,212.9h0M395.2,228.3h0M390.2,239.0h0M370.5,200.5h0M372.7,237.4h0M349.6,162.6h0M382.7,239.6h0M351.8,207.6h0M406.7,217.0h0M392.9,208.5h0M383.9,238.9h0M402.2,232.3h0M378.3,236.0h0M404.9,189.4h0M361.7,176.6h0M384.2,240.1h0M372.8,209.2h0M387.9,231.4h0M363.8,227.7h0M393.2,208.7h0M360.4,232.4h0M400.1,235.8h0M379.2,227.6h0M389.2,223.3h0M360.1,204.5h0M368.3,226.0h0M406.6,208.3h0M391.6,237.4h0M370.5,231.6h0M377.9,229.5h0M405.3,194.4h0M357.0,215.8h0M407.3,197.1h0M373.2,233.9h0M401.3,206.7h0M362.8,205.5h0M410.5,218.8h0M380.3,237.5h0M367.8,194.8h0M383.6,240.1h0M408.7,190.9h0M420.1,178.9h0M369.6,217.5h0M362.2,219.3h0M369.8,227.3h0M400.2,227.8h0M398.2,186.6h0M385.7,234.9h0M393.5,226.4h0M390.0,236.2h0M357.3,188.9h0M397.4,234.3h0M363.2,230.9h0M362.8,189.2h0M393.9,237.5h0M399.1,222.7h0M372.4,232.0h0M390.8,238.4h0M412.7,212.7h0M381.9,239.9h0M392.1,238.8h0M372.9,218.3h0M398.2,232.3h0M396.5,237.4h0M372.4,235.0h0M398.1,218.6h0M395.9,222.5h0M379.6,234.6h0M372.1,203.0h0M373.3,205.9h0M348.5,124.4h0M375.4,238.8h0M381.8,236.9h0M374.2,223.7h0M359.0,225.0h0M387.5,239.6h0M371.0,219.2h0M377.3,235.5h0M391.4,232.5h0M362.3,208.6h0M370.5,215.5h0M387.2,236.1h0M366.0,214.4h0M389.5,228.4h0M406.5,195.2h0M394.7,198.9h0M355.4,204.4h0M381.9,239.1h0M405.2,223.6h0M361.2,233.0h0M412.5,188.3h0M369.7,237.5h0M380.1,231.2h0M367.0,229.2h0M363.9,216.1h0M380.2,234.5h0M403.3,174.6h0M385.2,237.5h0M373.5,236.6h0M389.1,229.2h0M407.2,191.2h0M381.4,238.8h0M366.5,227.0h0M376.6,223.6h0M378.8,238.5h0M360.5,187.3h0M360.5,208.1h0M401.7,171.8h0M409.0,161.5h0M361.2,179.1h0M391.7,226.5h0M412.9,219.3h0M404.8,210.5h0M374.2,225.6h0M380.3,238.6h0M407.1,193.3h0M383.1,240.1h0M385.1,239.3h0M372.5,234.2h0M376.8,232.7h0M350.6,201.6h0M359.4,225.3h0M392.3,227.8h0M369.3,231.3h0M407.8,227.6h0M369.5,229.6h0M352.9,198.4h0M410.2,209.3h0M353.1,181.9h0M392.6,216.0h0M403.1,171.2h0M362.4,232.3h0M415.7,185.0h0M349.8,187.9h0M372.2,230.8h0M377.2,237.8h0M349.5,129.7h0M374.4,218.5h0M371.8,232.8h0M362.5,193.2h0M407.9,217.7h0M366.1,223.9h0M409.2,229.3h0M408.5,193.9h0M396.5,224.4h0M404.4,233.6h0M401.5,233.6h0M399.4,198.7h0M373.9,230.4h0M388.5,226.1h0M402.1,225.3h0M377.2,219.6h0M354.2,160.8h0M402.7,226.4h0M405.1,213.4h0M389.8,235.2h0M375.9,229.2h0M360.8,226.5h0M361.5,226.7h0M381.6,236.9h0M360.2,230.9h0M365.3,188.3h0M367.2,190.0h0M355.2,171.9h0M391.5,236.2h0M393.1,214.0h0M399.9,220.3h0M400.0,234.2h0M376.1,236.6h0M379.4,239.6h0M404.3,211.6h0M376.0,217.9h0M366.5,194.3h0M361.3,232.8h0M403.6,234.7h0M359.1,227.3h0M388.3,233.1h0M380.5,231.4h0M371.2,224.6h0M388.3,236.1h0M374.1,219.7h0M406.1,175.6h0M362.1,202.2h0M380.9,239.7h0M387.5,236.6h0M401.3,216.2h0M392.6,210.9h0M400.8,225.9h0M379.1,239.5h0M368.3,233.2h0M390.9,221.1h0M394.5,238.3h0M401.9,220.6h0M395.9,201.1h0M404.0,201.2h0M378.1,239.5h0M379.8,231.6h0M392.2,231.5h0M365.1,221.9h0M391.7,222.5h0M407.3,222.6h0M407.0,226.2h0M389.3,218.5h0M374.1,235.4h0M372.1,229.5h0M357.1,191.4h0M399.4,231.6h0M384.4,238.9h0M369.5,209.1h0M372.8,229.9h0M357.7,207.4h0M396.5,195.6h0M387.0,235.1h0M407.8,228.7h0M351.5,210.3h0M390.5,227.0h0M404.6,189.2h0M377.3,219.9h0M350.2,181.7h0M389.8,238.5h0M380.6,239.8h0M354.5,215.8h0M360.3,227.7h0M395.9,236.0h0M412.3,201.2h0M383.3,240.1h0M375.8,231.2h0M393.5,236.3h0M402.0,236.0h0M386.1,234.4h0M385.9,238.3h0M374.0,215.9h0M392.0,231.4h0M358.7,195.6h0M398.1,194.4h0M381.6,238.9h0M389.0,235.8h0M372.3,225.9h0M418.2,188.6h0M357.4,227.1h0M363.8,220.2h0M375.6,226.1h0M361.7,231.4h0M361.7,227.4h0M411.3,163.6h0M370.0,231.3h0M404.4,170.0h0M402.6,214.7h0M354.6,203.6h0M404.0,224.8h0M415.0,213.2h0M394.2,237.9h0M369.8,232.7h0M394.1,234.2h0M387.4,226.4h0M364.7,230.6h0M351.8,208.7h0M348.5,197.6h0M368.2,224.1h0M372.3,216.4h0M409.8,217.4h0M391.2,226.2h0M401.8,191.0h0M363.6,213.4h0M407.5,159.8h0M366.8,231.9h0M365.7,228.8h0M386.7,237.6h0M357.1,220.1h0M364.6,199.4h0M364.4,229.8h0M359.2,213.2h0M398.4,231.3h0M395.3,236.3h0M368.1,235.3h0M405.9,201.3h0M393.9,238.6h0M405.9,202.6h0M397.8,220.8h0M392.9,205.9h0M391.7,216.2h0M378.4,237.5h0M395.2,230.0h0M398.6,236.2h0M368.4,236.3h0M386.1,237.3h0M381.7,239.6h0M362.7,199.0h0M414.3,159.8h0M378.2,234.1h0M372.4,223.4h0M355.0,222.0h0M383.0,239.6h0M379.3,236.7h0M381.5,235.8h0M382.0,239.6h0M381.6,233.8h0M385.2,240.0h0M400.5,236.9h0M386.5,234.0h0M377.7,221.9h0M413.9,141.1h0M391.6,216.0h0M377.0,222.2h0M369.4,235.6h0M402.0,212.6h0M397.4,237.3h0M382.3,239.4h0M399.6,231.2h0M389.9,237.6h0M363.8,193.7h0M376.6,232.4h0M400.0,181.6h0M353.2,216.1h0M398.3,236.2h0M371.0,210.7h0M371.4,203.3h0M392.9,237.1h0M402.8,204.8h0M415.1,169.8h0M413.2,167.7h0M388.6,232.0h0M398.3,230.8h0M370.7,220.2h0M359.4,226.3h0M401.8,205.4h0M390.2,227.6h0M367.7,227.1h0M408.1,214.9h0M362.4,220.9h0M363.4,230.4h0M383.9,239.3h0M383.9,239.9h0M410.0,175.7h0M410.2,220.6h0M394.7,206.7h0M390.6,237.7h0M360.2,231.8h0M357.9,225.0h0M373.9,229.9h0M390.2,238.7h0M347.6,165.6h0M363.9,209.0h0M402.5,211.7h0M357.5,228.1h0M376.1,222.7h0M393.1,219.4h0M386.3,233.8h0M388.7,225.4h0M379.8,230.9h0M416.7,187.8h0M379.9,236.8h0M374.4,219.3h0M398.3,217.6h0M369.5,225.9h0M368.6,192.5h0M379.5,235.4h0M396.2,206.9h0M372.3,231.9h0M363.1,222.8h0M360.1,222.1h0M401.9,203.7h0M390.0,223.5h0M416.4,191.0h0M395.6,224.5h0M388.7,238.4h0M404.9,201.9h0M393.4,231.5h0M387.6,227.4h0M369.2,212.6h0M405.3,232.2h0M401.7,230.6h0M373.5,214.5h0M390.0,236.2h0M361.1,217.3h0M359.4,212.9h0M366.5,196.5h0M398.1,219.8h0M385.3,239.2h0M372.6,237.9h0M387.0,229.3h0M391.2,238.2h0M382.9,238.5h0M384.4,239.3h0M404.9,178.5h0M383.6,240.0h0M368.0,227.3h0M350.9,175.3h0M353.6,185.8h0M379.9,237.2h0M389.5,228.9h0M392.4,216.1h0M367.8,200.1h0M372.3,236.8h0M374.0,234.0h0M398.9,213.6h0M398.8,235.7h0M388.8,228.3h0M396.4,227.3h0M367.0,228.1h0M359.8,209.6h0M349.7,162.3h0M398.2,219.1h0M396.4,211.5h0M356.1,221.4h0M374.0,220.3h0M384.1,240.2h0M390.8,220.0h0M379.9,236.9h0M405.4,228.2h0M352.4,190.2h0M369.0,223.0h0M361.7,171.3h0M379.4,228.7h0M381.5,233.7h0M387.0,229.6h0M356.7,220.3h0M416.6,179.0h0M379.0,238.6h0M409.2,226.2h0M358.0,229.3h0M389.0,231.4h0M379.9,239.7h0M384.1,238.3h0M378.1,230.7h0M389.7,217.0h0M356.5,164.5h0M391.0,215.0h0M366.5,236.9h0M373.5,237.2h0M399.0,231.5h0M396.4,224.0h0M374.1,225.7h0M396.0,237.9h0M377.2,233.2h0M410.7,226.1h0M380.7,239.6h0M364.4,229.9h0M390.5,232.9h0M387.2,238.3h0M397.3,232.1h0M411.4,210.4h0M360.4,231.1h0M375.8,215.8h0M351.3,144.5h0M380.9,234.0h0M364.6,179.9h0M375.4,228.2h0M369.8,230.9h0M402.7,231.3h0M392.7,236.8h0M349.9,197.4h0M366.3,228.5h0M385.8,239.6h0M395.5,209.7h0M409.5,216.4h0M388.9,220.7h0M376.3,231.4h0M386.4,232.9h0M395.3,201.4h0M416.0,177.0h0M389.1,230.7h0M392.9,238.1h0M351.7,207.5h0M384.3,237.5h0M363.1,220.5h0M410.6,224.5h0M408.8,208.8h0M369.4,216.7h0M357.6,205.8h0M350.0,134.6h0M374.8,237.8h0M402.1,234.7h0M398.6,237.1h0M371.1,231.6h0M372.8,205.2h0M402.0,230.0h0M371.8,235.7h0M394.4,212.8h0M367.1,193.3h0M412.3,218.0h0M365.1,228.6h0M375.5,214.5h0M371.9,218.0h0M377.2,237.7h0M407.5,229.8h0M364.3,201.5h0M387.2,235.1h0M403.3,233.6h0M349.9,161.6h0M398.7,202.8h0M411.5,218.5h0M395.8,225.7h0M372.7,232.6h0M376.8,237.8h0M361.8,196.4h0M366.0,220.3h0M370.1,220.1h0M399.5,234.8h0M388.3,233.9h0M369.7,215.7h0M404.4,184.6h0M351.1,154.7h0M346.9,177.8h0M401.2,208.4h0M362.3,217.9h0M349.2,183.2h0M389.2,237.0h0M372.9,233.7h0M381.3,236.3h0M408.9,163.2h0M383.1,239.2h0M399.8,221.2h0M374.2,214.2h0M416.4,167.3h0M347.5,187.4h0M395.9,200.0h0M389.3,219.3h0M409.9,205.9h0M389.8,231.3h0M409.0,222.3h0M370.7,234.0h0M377.7,221.0h0M413.7,208.3h0M367.3,220.8h0M366.7,212.6h0M399.5,180.4h0M411.4,209.7h0M368.3,217.9h0M402.4,234.0h0M394.7,208.6h0M388.0,225.9h0M378.8,233.9h0M389.0,233.8h0M416.3,172.8h0M363.4,225.1h0M380.0,233.4h0M410.1,221.5h0M363.3,214.2h0M404.1,205.9h0M361.2,176.4h0M386.5,233.2h0M401.7,219.0h0M385.0,239.9h0M360.3,231.9h0M359.8,217.6h0M369.2,234.0h0M384.5,238.8h0M372.4,221.6h0M408.8,207.5h0M376.9,221.9h0M386.7,237.5h0M373.2,234.1h0M360.9,232.7h0M365.3,225.1h0M355.5,196.9h0M404.7,217.9h0M366.9,208.4h0M371.3,220.8h0M379.2,230.8h0M394.1,229.5h0M377.8,235.7h0M391.7,234.0h0M403.0,213.1h0M378.8,236.1h0M358.2,225.9h0M385.5,234.3h0M377.4,234.1h0M372.4,238.0h0M418.6,140.2h0M364.4,177.1h0M406.6,213.0h0M360.7,183.7h0M393.3,226.0h0M358.7,228.3h0M362.0,231.0h0M366.8,198.6h0M416.5,182.5h0M403.5,222.8h0M404.3,178.2h0M385.7,233.3h0M354.1,200.8h0M384.3,239.9h0M367.0,225.6h0M384.2,238.9h0M362.7,219.3h0M398.6,183.1h0M401.7,236.5h0M403.9,229.2h0M376.9,238.8h0M360.1,213.2h0M394.3,226.6h0M392.4,234.9h0M377.1,220.7h0M388.3,234.2h0M381.2,238.9h0M392.5,236.5h0M373.8,227.6h0M399.2,215.5h0M369.0,225.9h0M390.3,225.7h0M367.1,232.6h0M351.3,137.1h0M385.7,239.5h0M394.9,213.5h0M363.4,181.5h0M401.8,207.4h0M362.9,227.8h0M404.4,231.8h0M373.5,235.4h0M376.0,224.4h0M358.4,206.3h0M360.7,190.3h0M366.0,231.8h0M357.2,191.0h0M356.9,197.7h0M416.8,119.9h0M376.6,232.1h0M353.2,217.6h0M386.1,236.4h0M409.1,214.1h0M374.1,238.9h0M407.4,205.3h0M365.9,224.0h0M356.4,215.5h0M374.0,219.6h0M393.3,205.8h0M398.7,232.1h0M387.7,229.9h0M387.5,232.9h0M367.4,232.9h0M398.8,183.4h0M402.5,206.3h0M408.0,166.1h0M400.9,226.9h0M409.7,217.8h0M400.0,199.5h0M393.2,238.3h0M380.7,231.5h0M366.7,231.9h0M393.1,204.6h0M401.3,178.0h0M377.2,238.6h0M348.0,177.2h0M352.0,142.6h0M368.3,206.7h0M392.9,232.1h0M373.7,214.8h0M385.8,237.1h0M388.7,227.3h0M400.2,201.6h0M365.4,221.2h0M415.9,186.2h0M364.9,196.3h0M391.8,236.4h0M350.2,129.9h0M377.3,220.3h0M360.7,178.5h0M396.0,205.3h0M358.7,216.5h0M397.6,237.6h0M379.3,232.4h0M375.4,235.9h0M389.6,226.1h0M351.2,187.1h0M362.6,220.6h0M406.0,180.2h0M402.6,208.2h0M359.8,186.3h0M374.1,217.2h0M352.7,199.2h0M374.7,229.7h0M386.7,236.3h0M377.5,224.1h0M410.7,180.4h0M383.0,239.2h0M381.8,236.0h0M393.6,235.8h0M396.4,228.0h0M375.4,223.3h0M391.2,233.9h0M363.5,209.6h0M367.1,233.2h0M404.4,223.2h0M397.6,200.1h0M348.5,192.1h0M357.3,223.8h0M361.9,211.5h0M364.0,215.8h0M370.1,221.6h0M364.0,199.7h0M366.3,228.2h0M383.2,239.9h0M376.2,216.7h0M364.4,235.9h0M376.3,232.3h0M378.6,237.8h0M396.8,224.2h0M348.5,167.1h0M373.6,234.1h0M348.4,198.7h0M410.6,226.2h0M364.0,184.4h0M355.2,147.4h0M400.2,179.4h0M357.3,222.7h0M419.4,164.2h0M399.6,214.0h0M360.7,224.9h0M374.9,216.6h0M409.1,167.2h0M361.4,181.9h0M396.8,211.8h0M399.7,201.4h0M404.9,211.0h0M395.6,203.9h0M367.3,227.3h0M367.3,227.9h0M390.9,238.3h0M389.4,225.7h0M386.4,235.6h0M352.2,175.6h0M351.3,180.7h0M371.9,232.5h0M386.6,234.7h0M388.3,238.2h0M367.5,202.8h0M348.6,197.7h0M371.2,231.8h0M402.6,234.5h0M370.9,235.0h0M378.4,224.8h0M396.8,237.0h0M386.6,239.8h0M396.5,229.1h0M374.4,226.0h0M352.4,169.5h0M349.1,130.1h0M392.7,210.8h0M395.3,226.3h0M388.5,235.2h0M413.3,209.7h0M406.2,229.7h0M393.4,206.6h0M411.5,206.1h0M383.1,239.7h0M396.5,193.0h0M389.3,218.9h0M405.8,230.5h0M372.9,222.6h0M396.2,235.7h0M372.8,232.7h0M371.9,223.5h0M403.6,227.5h0M388.1,239.6h0M378.2,226.9h0M394.4,225.1h0M358.0,223.3h0M398.9,221.2h0M367.3,237.1h0M389.6,238.1h0M349.1,164.1h0M384.1,240.0h0M401.8,233.7h0M359.7,214.1h0M377.1,236.0h0M378.7,227.8h0M391.5,211.7h0M369.9,237.1h0M361.1,224.6h0M394.3,223.7h0M349.9,189.9h0M392.7,238.0h0M400.2,235.7h0M388.3,236.5h0M397.3,236.4h0M387.4,235.2h0M389.7,235.6h0M398.6,186.0h0M353.2,203.9h0M373.1,211.7h0M396.8,210.0h0M351.8,186.1h0M419.3,191.1h0M348.6,135.8h0M397.1,226.3h0M379.6,232.4h0M388.4,222.2h0M390.0,231.3h0M375.6,226.5h0M412.7,198.1h0M355.3,210.0h0M372.6,223.3h0M357.7,225.9h0M396.5,236.9h0M397.9,231.1h0M408.1,217.8h0M410.8,160.5h0M369.8,204.4h0M399.2,232.0h0M395.4,235.7h0M362.1,219.1h0M396.9,227.3h0M367.4,187.4h0M380.6,233.9h0M409.3,212.2h0M367.3,230.4h0M360.8,224.1h0M380.5,234.3h0M371.6,234.3h0M413.8,215.1h0M378.0,230.1h0M363.2,203.6h0M386.2,236.3h0M367.6,236.8h0M395.5,196.3h0M374.4,231.3h0M365.6,228.7h0M380.8,238.3h0M416.4,117.6h0M363.8,203.7h0M391.7,219.4h0M405.3,204.3h0M394.3,229.9h0M394.8,221.4h0M382.5,237.2h0M405.4,223.9h0M389.2,221.0h0M358.5,223.5h0M364.2,228.9h0M375.4,237.0h0M385.2,240.0h0M361.1,179.5h0M415.6,190.8h0M383.2,239.7h0M408.2,214.7h0M362.8,231.6h0M390.2,222.4h0M377.5,237.1h0M417.0,191.6h0M404.9,224.4h0M371.5,209.1h0M370.5,219.4h0M387.9,238.5h0M387.1,237.9h0M355.8,223.4h0M363.5,224.4h0M383.4,239.9h0M362.3,182.0h0M409.2,218.6h0M375.0,238.3h0M379.1,238.7h0M367.6,225.7h0M353.3,158.3h0M390.9,223.6h0M405.5,210.7h0M370.0,219.2h0M353.7,191.0h0M360.1,197.9h0M400.5,216.9h0M376.5,220.5h0M356.1,185.8h0M410.4,217.8h0M395.6,231.3h0M354.7,202.0h0M375.4,229.8h0M395.9,232.8h0M398.8,226.2h0M360.6,229.3h0M366.6,219.1h0M387.3,232.8h0M362.3,222.3h0M394.1,235.5h0M388.3,238.1h0M355.1,198.4h0M399.1,183.2h0M352.6,191.6h0M405.4,231.2h0M397.0,216.3h0M381.8,239.7h0M381.1,238.6h0M381.5,235.1h0M374.2,227.4h0M391.0,236.5h0M384.4,239.1h0M361.4,209.2h0M384.7,240.0h0M404.8,186.1h0M394.0,237.1h0M370.8,224.6h0M357.5,197.1h0M379.3,226.1h0M365.2,211.3h0M402.5,227.7h0M372.9,229.8h0M378.1,236.4h0M368.0,233.9h0M408.7,225.0h0M393.4,227.1h0M375.9,236.3h0M383.0,239.5h0M378.3,237.2h0M388.3,237.3h0M411.0,214.7h0M367.3,233.2h0M374.6,215.1h0M369.8,237.1h0M378.0,222.1h0M369.4,221.9h0M390.6,237.0h0M380.5,234.8h0M392.1,237.2h0M398.4,229.9h0M362.4,179.7h0M416.2,201.8h0M390.9,225.7h0M379.5,234.0h0M398.5,231.7h0M355.9,205.5h0M386.4,234.8h0M366.9,229.4h0M372.2,237.2h0M361.4,179.5h0M367.0,232.2h0M364.7,206.8h0M390.6,239.0h0M398.4,196.1h0M356.6,210.5h0M397.7,237.3h0M365.9,233.6h0M390.5,225.7h0M412.1,190.5h0M383.1,239.1h0M371.7,220.5h0M397.8,233.2h0M355.8,218.9h0M359.8,220.0h0M347.8,174.5h0M363.6,223.9h0M386.8,232.6h0M400.9,236.3h0M369.8,215.8h0M389.2,218.9h0M410.4,215.1h0M372.4,226.5h0M384.0,240.0h0M364.4,179.5h0M383.9,239.2h0M363.3,204.8h0M372.2,226.9h0M380.1,235.1h0M385.7,237.0h0M399.0,231.7h0M393.1,215.0h0M392.2,229.4h0M385.7,235.5h0M398.5,209.3h0M359.1,189.2h0M406.5,228.9h0M382.5,239.8h0M400.4,181.5h0M371.0,229.5h0M379.7,239.1h0M361.3,223.7h0M401.7,230.4h0M395.3,237.2h0M398.6,233.5h0M403.9,229.4h0M391.6,235.9h0M379.8,235.7h0M395.8,212.0h0M394.1,231.7h0M392.9,237.2h0M377.1,218.7h0M392.9,238.9h0M363.1,181.8h0M360.4,231.4h0M349.9,164.0h0M381.4,236.7h0M356.9,223.7h0M395.0,227.2h0M364.9,231.1h0M387.6,233.7h0M381.5,239.9h0M402.8,229.5h0M393.5,225.2h0M363.3,228.4h0M382.6,239.7h0M381.4,239.7h0M350.9,167.2h0M401.0,187.4h0M369.6,233.2h0M386.4,237.5h0M401.4,235.2h0M408.9,227.1h0M383.7,240.0h0M415.2,210.9h0M368.5,192.6h0M384.5,238.5h0M406.8,202.4h0M357.7,177.0h0M392.1,237.9h0M400.5,184.5h0M413.7,201.1h0M404.2,227.0h0M383.2,240.0h0M401.2,236.0h0M389.6,231.6h0M401.3,225.3h0M399.8,220.9h0M404.7,181.4h0M363.4,230.8h0M388.4,230.7h0M394.6,205.3h0M365.0,224.4h0M361.7,226.5h0M394.6,237.2h0M367.6,211.9h0M401.9,229.5h0M370.3,231.8h0M370.0,218.6h0M376.8,237.3h0M387.0,239.7h0M391.7,235.1h0M384.0,239.8h0M386.5,229.0h0M387.5,235.1h0M355.9,223.5h0M390.6,223.5h0M409.5,209.1h0M380.3,237.0h0M375.3,215.9h0M372.2,210.9h0M352.9,201.3h0M357.5,173.2h0M412.1,135.7h0M404.9,225.7h0M369.3,233.7h0M389.8,219.2h0M371.9,205.2h0M390.6,237.7h0M371.2,217.1h0M403.8,234.3h0M374.8,238.6h0M367.7,218.1h0M384.7,239.5h0M366.1,205.6h0M415.1,205.9h0M365.8,220.9h0M381.7,239.9h0M388.7,226.1h0M372.2,216.4h0M361.3,220.9h0M381.2,233.4h0M376.6,232.5h0M364.9,223.7h0M370.0,208.2h0M370.3,200.9h0M358.2,203.5h0M355.6,217.4h0M400.2,229.8h0M367.7,234.0h0M413.0,192.4h0M370.0,210.2h0M375.8,225.7h0M380.7,235.7h0M377.4,237.9h0M385.0,236.4h0M410.3,226.2h0M366.6,195.2h0M411.9,214.7h0M411.0,171.5h0M413.9,189.0h0M378.2,239.5h0M381.3,239.3h0M383.6,240.1h0M385.5,239.7h0M412.3,183.7h0M384.3,237.1h0M369.4,195.1h0M386.2,238.9h0M372.0,236.0h0M373.3,237.8h0M412.9,214.9h0M371.7,222.1h0M409.1,203.4h0M397.0,228.0h0M383.7,240.2h0M402.6,202.1h0M401.5,208.4h0M367.4,203.2h0M356.2,211.0h0M396.9,237.4h0M404.5,211.1h0M413.8,204.3h0M392.9,238.7h0M361.2,198.2h0M370.6,229.2h0M368.9,197.3h0M367.4,203.6h0M379.7,235.2h0M370.4,229.1h0M372.7,204.0h0M349.2,144.8h0M392.4,219.9h0M395.9,236.5h0M387.7,230.3h0M386.2,232.8h0M359.9,195.6h0M350.0,186.8h0M396.5,216.1h0M369.0,235.6h0M377.8,221.6h0M391.5,226.6h0M391.4,210.4h0M391.0,213.2h0M367.5,202.5h0M391.7,218.7h0M378.6,238.0h0M370.2,206.7h0M396.4,229.4h0M355.3,202.5h0M378.2,234.7h0M358.6,228.8h0M390.9,223.4h0M367.5,225.8h0M396.0,197.3h0M375.3,236.6h0M405.8,221.8h0M404.9,226.1h0M406.4,229.1h0M386.3,235.8h0M367.4,232.0h0M371.2,227.2h0M395.8,211.3h0M384.5,237.7h0M382.6,237.6h0M393.5,208.4h0M381.5,239.4h0M405.6,228.9h0M383.6,239.9h0M393.8,236.9h0M389.0,234.7h0M386.5,235.9h0M389.0,235.9h0M366.1,215.1h0M394.0,209.6h0M375.0,220.8h0M409.3,177.6h0M371.7,222.8h0M366.1,181.8h0M384.2,240.0h0M391.8,225.4h0M367.5,197.5h0M385.6,238.6h0M391.1,214.4h0M386.6,236.9h0M355.0,219.6h0M411.3,187.7h0M385.7,233.6h0M380.9,237.9h0M398.5,213.9h0M408.1,179.2h0M400.2,216.4h0M369.3,236.4h0M377.6,220.8h0M383.7,240.0h0M373.7,232.5h0M388.4,230.3h0M408.8,208.5h0M376.2,237.4h0M396.1,234.7h0M382.9,240.0h0M374.3,215.6h0M368.9,223.0h0M383.2,239.9h0M395.9,224.7h0M395.1,237.0h0M390.4,218.4h0M388.3,223.9h0M372.8,236.4h0M371.3,201.4h0M370.8,230.2h0M373.9,228.5h0M364.4,220.5h0M376.7,237.5h0M386.4,232.5h0M382.0,235.6h0M386.4,239.8h0M395.1,234.8h0M404.3,225.2h0M392.1,238.4h0M408.0,203.8h0M359.3,216.8h0M403.8,214.4h0M369.5,227.2h0M371.9,228.9h0M367.2,215.1h0M375.2,229.8h0M365.7,235.9h0M402.1,220.0h0M366.9,236.4h0M398.8,237.2h0M382.3,239.8h0M390.9,230.7h0M392.6,228.8h0M365.7,235.9h0M396.6,236.5h0M386.2,235.3h0M372.1,222.7h0M371.2,215.3h0M358.8,207.2h0M353.0,193.1h0M377.4,224.3h0M378.9,232.2h0M358.0,213.2h0M391.3,231.5h0M370.6,212.2h0M377.6,237.6h0M366.6,227.8h0M410.4,157.4h0M374.9,237.0h0M354.0,208.3h0M388.1,233.9h0M400.3,235.2h0M397.2,219.9h0M356.8,212.6h0M369.0,234.0h0M362.9,174.1h0M367.8,192.0h0M400.3,209.6h0M373.1,211.9h0M365.2,231.5h0M393.7,233.4h0M382.9,239.6h0M406.9,218.8h0M409.0,188.0h0M349.8,182.9h0M383.3,239.7h0M351.9,210.1h0M386.5,233.6h0M374.0,236.8h0M412.6,191.3h0M369.9,218.5h0M363.1,219.1h0M378.9,226.1h0M402.5,233.7h0M376.8,227.0h0M390.0,230.5h0M370.4,236.3h0M373.7,234.4h0M381.0,232.8h0M384.3,239.5h0M378.4,238.9h0M385.3,235.3h0M379.0,233.6h0M351.4,171.5h0M397.2,200.8h0M354.6,198.7h0M401.6,222.4h0M366.8,215.5h0M359.1,218.7h0M387.4,226.6h0M407.0,151.6h0M369.2,219.8h0M402.0,186.8h0M394.6,236.6h0M413.8,208.3h0M370.4,228.1h0M355.1,154.0h0M400.9,225.5h0M395.5,235.0h0M350.1,134.5h0M360.3,187.2h0M372.9,231.5h0M395.9,222.5h0M395.1,233.9h0M391.9,227.3h0M350.9,152.9h0M393.3,236.8h0M400.1,234.6h0M368.8,223.1h0M362.4,183.6h0M381.6,234.0h0M367.6,217.2h0M397.4,201.9h0M388.8,226.8h0M393.6,220.8h0M378.1,239.4h0M411.0,192.6h0M365.1,234.1h0M371.3,222.1h0M388.8,239.1h0M379.7,232.5h0M384.6,236.3h0M399.5,210.1h0M364.6,222.8h0M412.2,191.1h0M361.8,228.0h0M400.5,228.6h0M397.5,225.9h0M361.5,176.1h0M360.1,195.2h0M395.4,232.1h0M383.6,239.9h0M369.6,198.4h0M406.8,226.0h0M393.9,236.6h0M359.7,175.7h0M393.2,238.0h0M361.2,198.5h0M404.6,216.3h0M411.0,142.0h0M403.5,190.8h0M408.0,210.9h0M382.8,238.2h0M362.2,201.7h0M350.2,142.4h0M392.5,229.1h0M354.3,201.2h0M374.3,214.7h0M377.8,237.4h0M396.6,221.3h0M380.3,235.5h0M392.7,235.5h0M364.5,226.4h0M364.3,202.6h0M350.3,134.8h0M410.4,216.7h0M360.8,199.3h0M378.2,223.4h0M374.0,226.8h0M375.1,232.5h0M407.9,228.9h0M364.2,222.7h0M381.9,238.3h0M379.9,235.6h0M396.3,195.9h0M395.0,226.3h0M373.2,232.5h0M394.8,234.9h0M387.0,237.3h0M403.4,233.2h0M405.6,184.8h0M406.1,232.7h0M401.6,187.2h0M406.9,185.5h0M383.0,239.0h0M391.0,232.6h0M371.2,236.1h0M394.1,214.1h0M361.8,214.5h0M362.0,209.8h0M357.5,222.3h0M403.9,228.4h0M369.5,217.0h0M383.8,240.2h0M363.8,220.6h0M407.4,183.4h0M361.2,221.5h0M367.1,227.2h0M372.2,238.3h0M365.6,209.8h0M368.3,218.8h0M375.3,231.9h0M360.4,228.0h0M361.3,175.0h0M400.4,223.8h0M352.8,209.3h0M388.0,235.9h0M385.0,237.6h0M396.3,235.8h0M358.4,223.1h0M383.2,239.4h0M354.8,152.9h0M394.8,233.5h0M377.8,226.0h0M401.5,223.4h0M373.9,235.3h0M389.2,235.0h0M365.4,235.7h0M381.6,235.4h0M409.1,227.4h0M388.9,225.7h0M400.0,214.7h0M377.9,236.3h0M387.5,227.6h0M361.4,233.1h0M378.9,233.0h0M371.0,223.3h0M402.3,211.3h0M385.0,239.2h0M375.6,225.1h0M414.1,189.3h0M377.4,222.3h0M395.2,238.2h0M402.3,225.0h0M403.5,213.3h0M397.7,223.8h0M379.3,238.5h0M355.3,223.9h0M379.3,234.2h0M370.8,229.5h0M393.3,233.5h0M387.6,225.5h0M407.0,206.8h0M357.5,221.9h0M393.9,234.3h0M415.0,155.1h0M362.9,226.4h0M390.3,237.7h0M367.0,236.9h0M353.1,207.6h0M401.5,227.3h0M363.7,234.2h0M373.1,220.0h0M392.8,238.7h0M391.1,234.4h0M356.5,216.7h0M377.1,219.3h0M399.3,200.9h0M408.1,229.2h0M356.2,220.6h0M381.2,236.9h0M399.8,235.3h0M368.2,209.4h0M375.9,234.3h0M418.2,153.8h0M372.0,230.5h0M369.7,202.1h0M397.7,226.9h0M391.5,221.0h0M369.7,219.3h0M360.4,227.2h0M410.2,141.1h0M390.2,220.3h0M373.9,212.1h0M392.0,236.5h0M400.8,235.3h0M363.2,223.3h0M369.1,220.4h0M366.5,235.7h0M376.9,238.6h0M396.1,217.5h0M403.3,227.0h0M395.6,223.6h0M396.0,220.4h0M376.3,235.2h0M397.6,199.9h0M365.1,194.9h0M402.3,235.5h0M404.2,230.0h0M413.5,203.0h0M402.1,174.8h0M371.3,234.0h0M393.2,222.4h0M392.2,239.0h0M395.3,231.1h0M391.1,219.2h0M360.0,229.8h0M399.3,192.0h0M405.1,197.4h0M407.9,218.5h0M361.6,217.6h0M376.2,225.1h0M406.9,232.1h0M388.9,236.8h0M378.2,226.0h0M373.6,212.7h0M367.4,232.9h0M391.4,238.8h0M381.8,239.5h0M371.6,237.6h0M405.7,225.4h0M417.4,204.5h0M380.6,239.1h0M394.3,213.6h0M417.5,175.6h0M364.6,211.4h0M355.7,151.4h0M355.8,178.1h0M406.0,225.3h0M371.8,236.1h0M379.7,227.6h0M357.0,154.3h0M396.2,192.9h0M394.0,223.9h0M395.6,219.0h0M357.1,216.7h0M405.3,192.5h0M381.5,239.1h0M396.4,197.4h0M390.6,238.2h0M392.0,214.6h0M388.6,229.8h0M379.9,231.3h0M374.6,238.2h0M373.7,223.3h0M387.3,226.9h0M378.3,223.6h0M409.6,215.8h0M393.2,233.6h0M406.0,226.9h0M381.1,232.8h0M382.7,239.9h0M405.8,227.2h0M399.0,199.4h0M357.3,221.9h0M377.0,230.6h0M360.0,213.9h0M373.0,232.9h0M403.6,234.4h0M376.0,217.8h0M387.1,229.6h0M381.6,237.0h0M364.1,222.8h0M364.6,210.6h0M361.6,229.8h0M404.4,207.4h0M401.4,200.4h0M350.6,195.3h0M378.6,232.1h0M392.2,234.7h0M361.0,230.9h0M394.7,198.0h0M365.9,187.4h0M376.6,221.7h0M364.9,179.5h0M391.6,238.8h0M382.1,239.7h0M397.0,200.5h0M398.1,236.7h0M406.8,202.7h0M383.8,240.0h0M383.3,240.1h0M387.6,224.8h0M392.8,232.8h0M361.7,226.1h0M368.9,227.0h0M385.7,232.0h0M359.3,210.7h0M417.5,134.0h0M374.2,210.3h0M365.7,207.9h0M418.2,169.7h0M354.8,202.2h0M374.4,230.6h0M380.7,231.8h0M394.9,204.4h0M377.8,229.8h0M358.2,226.5h0M399.9,207.2h0M397.9,208.1h0M369.1,220.5h0M407.4,212.5h0M366.4,192.4h0M388.3,237.7h0M379.0,239.0h0M408.5,215.5h0M375.2,236.7h0M356.6,226.7h0M368.8,204.4h0M370.1,224.7h0M388.1,238.0h0M366.1,216.4h0M352.6,143.9h0M410.4,213.9h0M366.8,214.7h0M377.5,234.3h0M392.5,237.7h0M376.0,219.0h0M371.4,223.9h0M389.5,225.8h0M395.5,236.7h0M391.0,221.1h0M355.8,197.1h0M364.1,235.3h0M385.6,239.7h0M393.7,237.9h0M365.6,213.4h0M413.0,215.3h0M401.6,233.4h0M364.5,199.8h0M369.0,200.4h0M365.9,230.9h0M361.1,218.5h0M377.5,239.3h0M371.3,206.9h0M359.0,221.2h0M373.2,238.1h0M370.1,206.6h0M377.2,222.4h0M381.3,239.1h0M401.9,222.3h0M366.5,225.1h0M411.5,216.6h0M395.0,237.9h0M358.2,220.9h0M386.5,232.3h0M398.0,235.3h0M398.3,232.0h0M357.2,207.8h0M367.0,229.5h0M369.5,226.3h0M392.5,212.9h0M383.0,239.3h0M403.6,224.7h0M354.8,218.5h0M393.0,235.1h0M387.6,236.5h0M374.5,229.6h0M364.2,228.3h0M363.7,225.3h0M363.1,230.2h0M389.0,220.4h0M410.2,214.3h0M389.8,228.7h0M360.0,177.4h0M410.4,226.7h0M412.7,180.9h0M385.1,238.3h0M406.7,231.5h0M363.7,223.0h0M404.6,232.3h0M393.9,206.8h0M415.6,190.5h0M385.2,237.9h0M359.1,208.1h0M384.0,239.9h0M402.2,228.7h0M366.8,233.4h0M374.1,236.5h0M379.5,232.0h0M356.4,199.6h0M396.6,237.7h0M404.4,172.4h0M376.0,223.1h0M386.5,230.3h0M374.3,238.1h0M408.3,190.0h0M387.8,239.5h0M391.0,222.3h0M386.6,234.4h0M360.5,225.3h0M358.0,224.5h0M377.9,226.6h0M365.6,232.3h0M361.1,232.6h0M398.9,228.0h0M375.9,238.9h0M373.6,233.4h0M385.6,239.6h0M402.1,208.1h0M379.3,237.5h0M368.4,192.1h0M369.7,230.3h0M395.6,206.9h0M391.6,218.0h0M396.1,237.9h0M364.2,232.2h0M404.6,226.6h0M383.8,240.1h0M387.4,238.9h0M415.3,202.5h0M349.5,126.5h0M386.4,234.2h0M378.0,224.9h0M392.0,214.5h0M371.4,220.8h0M391.8,231.5h0M362.2,219.7h0M377.1,238.1h0M398.5,211.9h0M389.4,239.1h0M360.1,183.6h0M386.9,228.1h0M355.6,161.7h0M414.0,189.7h0M396.5,204.4h0M370.6,221.2h0M392.1,209.0h0M353.9,140.6h0M403.2,224.8h0M406.7,196.1h0M363.5,231.8h0M393.9,237.8h0M399.1,228.8h0M362.6,229.7h0M363.7,177.1h0M380.3,229.9h0M366.8,233.6h0M380.9,238.5h0M392.7,215.3h0M402.2,199.8h0M408.0,231.0h0M406.1,226.9h0M418.0,126.3h0M384.0,240.0h0M357.0,188.2h0M388.9,220.9h0M393.4,230.1h0M381.6,237.0h0M368.1,199.9h0M395.8,233.0h0M375.8,223.6h0M377.9,239.4h0M388.8,220.2h0M410.0,147.9h0M410.2,213.4h0M363.9,229.5h0M369.8,195.0h0M405.6,194.3h0M373.2,206.5h0M358.8,223.7h0M367.9,233.0h0M385.5,235.6h0M390.4,237.1h0M390.6,227.7h0M369.9,208.1h0M373.4,217.9h0M395.1,230.7h0M379.5,238.9h0M373.9,233.5h0M405.3,211.2h0M379.1,234.8h0M385.1,238.1h0M379.4,234.9h0M410.0,182.9h0M383.7,239.8h0M391.9,233.2h0M398.7,233.2h0M363.6,174.8h0M390.4,235.3h0M372.6,234.9h0M372.2,237.5h0M395.1,208.3h0M410.7,171.2h0M409.9,195.7h0M390.2,227.9h0M368.8,208.6h0M396.9,201.0h0M364.5,226.7h0M394.9,234.7h0M391.0,237.9h0M411.2,198.0h0M379.7,229.2h0M361.2,209.4h0M349.9,205.4h0M365.5,235.2h0M417.2,175.9h0M409.4,229.6h0M390.7,227.1h0M396.8,219.7h0M406.9,169.6h0M381.7,238.5h0M398.2,234.4h0M415.1,204.5h0M352.6,207.9h0M394.8,230.9h0M352.3,162.9h0M409.5,219.2h0M394.2,229.1h0M385.7,232.8h0M364.5,229.1h0M389.5,218.0h0M370.5,233.7h0M359.2,222.0h0M358.5,228.5h0M359.5,215.8h0M389.8,222.7h0M400.5,231.5h0M370.0,231.8h0M351.4,203.6h0M413.0,198.7h0M369.6,213.8h0M373.8,232.0h0M392.8,233.3h0M390.5,216.8h0M406.4,171.0h0M372.7,212.4h0M414.3,148.6h0M360.5,216.6h0M361.2,228.1h0M362.1,195.4h0M377.9,237.9h0M387.2,233.9h0M364.5,184.4h0M363.9,188.7h0M381.4,239.3h0M394.9,235.1h0M370.9,237.3h0M403.1,172.2h0M375.0,238.1h0M372.3,238.5h0M399.5,218.2h0M349.2,126.9h0M390.0,237.6h0M376.8,227.2h0M369.7,195.0h0M407.8,152.8h0M373.4,227.5h0M392.2,234.8h0M369.0,222.6h0M388.7,223.4h0M401.8,229.9h0M388.9,225.1h0M358.6,218.7h0M371.7,209.5h0M372.3,227.3h0M371.2,220.2h0M353.8,210.1h0M389.5,235.2h0M414.0,212.8h0M391.1,226.4h0M388.5,230.9h0M412.4,142.9h0M400.0,187.5h0M403.6,219.6h0M353.2,216.6h0M388.6,232.7h0M393.2,236.4h0M386.5,231.3h0M411.4,202.3h0M358.0,196.9h0M357.4,173.7h0M372.9,230.6h0M353.3,184.2h0M367.5,222.8h0M381.8,234.9h0M392.4,207.1h0M391.6,229.5h0M388.6,225.6h0M405.7,201.7h0M356.2,215.6h0M371.9,233.6h0M382.0,239.5h0M407.5,231.4h0M395.3,213.4h0M383.8,239.1h0M371.7,218.6h0M388.4,230.1h0M380.2,239.3h0M404.6,207.9h0M366.1,213.3h0M395.6,219.3h0M368.6,206.9h0M372.5,211.8h0M391.6,232.3h0M414.0,215.7h0M387.5,227.0h0M360.7,188.6h0M396.7,225.3h0M350.0,201.9h0M360.2,231.4h0M395.4,202.9h0M403.5,227.3h0M376.8,239.0h0M379.0,225.2h0M384.8,239.7h0M386.7,228.9h0M378.4,238.1h0M398.6,208.9h0M413.0,144.5h0M386.0,239.3h0M395.6,228.5h0M410.8,203.1h0M358.1,206.9h0M395.3,215.1h0M411.6,174.8h0M374.7,222.5h0M375.5,236.5h0M394.7,206.0h0M365.9,212.4h0M370.2,202.9h0M388.1,233.8h0M356.1,203.5h0M396.7,221.3h0M376.5,230.6h0M370.1,236.9h0M358.4,215.3h0M368.5,216.2h0M374.6,227.2h0M381.6,238.8h0M381.7,238.8h0M364.2,234.2h0M379.0,238.4h0M384.9,235.0h0M416.8,181.9h0M382.8,239.4h0M417.3,196.7h0M383.9,238.7h0M366.9,194.7h0M380.5,233.8h0M375.0,217.5h0M385.5,239.9h0M356.8,216.1h0M393.6,229.9h0M365.8,196.7h0M375.0,218.2h0M361.9,216.1h0M402.1,230.4h0M390.8,232.1h0M377.6,237.7h0M360.7,218.9h0M363.8,224.1h0M386.1,232.0h0M371.4,234.9h0M399.0,216.7h0M371.4,230.5h0M385.3,237.5h0M364.8,223.1h0M385.4,235.7h0M412.1,212.1h0M364.5,177.9h0M361.0,176.4h0M365.3,188.9h0M385.2,239.7h0M372.5,230.2h0M416.7,202.7h0M366.3,231.0h0M378.2,229.4h0M357.7,162.5h0M380.3,239.3h0M409.0,198.3h0M379.5,232.5h0M403.6,227.6h0M410.7,194.2h0M349.4,199.1h0M350.8,204.0h0M369.4,233.3h0M390.3,221.3h0M405.0,202.2h0M411.0,216.4h0M397.0,227.6h0M398.9,232.1h0M382.3,239.5h0M368.9,208.0h0M380.4,239.2h0M405.4,187.6h0M407.6,207.7h0M359.0,192.6h0M358.8,219.0h0M390.1,222.2h0M376.7,228.2h0M406.4,219.0h0M414.8,212.8h0M408.7,228.2h0M417.4,177.7h0M372.9,235.4h0M370.9,211.7h0M364.6,224.5h0M395.2,207.4h0M396.0,229.1h0M392.4,232.9h0M386.9,232.3h0M381.1,236.5h0M352.4,196.8h0M392.2,238.6h0M398.2,229.5h0M371.2,208.0h0M354.8,214.6h0M380.6,239.8h0M404.5,229.5h0M369.3,209.2h0M392.1,207.9h0M363.6,192.3h0M365.0,227.7h0M364.1,211.2h0M390.2,232.4h0M365.7,181.0h0M399.5,214.2h0M390.5,236.4h0M403.9,196.7h0M409.0,192.5h0M370.4,232.7h0M368.3,231.4h0M381.4,238.8h0M384.6,240.0h0M390.2,216.5h0M364.3,178.5h0M404.7,233.8h0M399.0,217.6h0M371.3,212.1h0M380.0,233.0h0M352.9,183.9h0M402.8,233.3h0M363.8,208.3h0M386.2,233.7h0M363.7,232.8h0M400.4,212.1h0M372.7,236.6h0M391.9,230.0h0M379.1,233.6h0M389.3,221.6h0M363.5,183.6h0M418.1,143.3h0M363.6,213.7h0M383.8,239.9h0M401.5,205.8h0M379.5,239.2h0M370.3,236.8h0M368.4,192.8h0M367.9,225.7h0M351.6,208.2h0M398.7,186.4h0M380.6,236.9h0M400.3,236.5h0M398.7,235.9h0M384.4,238.2h0M364.0,232.2h0M385.8,233.9h0M386.1,234.3h0M375.6,230.8h0M360.1,232.4h0M380.8,236.8h0M369.2,232.7h0M370.1,221.8h0M367.2,198.6h0M378.9,228.4h0M417.3,203.8h0M360.8,169.3h0M397.1,199.3h0M388.2,239.1h0M381.3,238.8h0M381.3,237.7h0M378.8,224.8h0M356.1,194.3h0M363.1,199.3h0M350.2,191.6h0M359.2,223.4h0M373.9,219.1h0M381.7,239.7h0M388.7,224.4h0M348.9,191.7h0M417.5,184.6h0M377.5,224.2h0M360.8,225.7h0M391.6,229.2h0M389.0,236.0h0M367.9,204.7h0M402.0,231.5h0M407.6,200.3h0M398.9,223.5h0M362.6,216.4h0M362.3,227.9h0M368.4,230.9h0M414.8,178.9h0M381.2,234.7h0M374.3,224.9h0M369.0,209.1h0M397.6,226.3h0M400.5,214.9h0M381.0,235.6h0M386.9,230.0h0M352.4,166.8h0M386.5,236.4h0M414.8,214.2h0M376.8,228.4h0M389.7,230.4h0M381.9,239.9h0M412.9,207.3h0M417.5,189.9h0M397.1,192.3h0M388.7,236.2h0M377.1,219.6h0M366.0,224.1h0M367.3,220.7h0M393.6,237.4h0M382.5,239.5h0M358.9,226.0h0M388.0,237.8h0M393.1,237.8h0M397.8,217.6h0M399.1,229.7h0M366.0,206.7h0M396.9,213.7h0M397.9,203.4h0M396.2,220.7h0M374.7,212.0h0M367.7,235.7h0M355.2,196.8h0M378.6,225.1h0M394.9,206.3h0M363.1,202.0h0M365.4,209.3h0M413.2,172.2h0M373.1,237.1h0M361.7,229.2h0M418.2,181.0h0M386.0,239.2h0M359.4,216.6h0M396.9,236.5h0M371.5,211.3h0M368.3,193.2h0M362.2,211.1h0M393.4,226.5h0M352.9,216.8h0M371.2,207.5h0M387.8,239.4h0M354.3,216.7h0M401.3,231.9h0M389.9,226.6h0M370.0,196.3h0M370.8,224.4h0M387.6,233.0h0M353.4,144.2h0M368.0,205.6h0M369.1,206.8h0M359.7,219.6h0M373.1,224.1h0M354.5,178.6h0M401.4,208.7h0M393.3,216.7h0M380.2,237.7h0M409.8,179.5h0M372.7,237.7h0M409.2,224.0h0M395.6,235.2h0M370.6,229.1h0M376.8,238.2h0M354.6,195.2h0M368.9,236.5h0M380.0,239.7h0M407.4,230.3h0M397.1,230.0h0M404.1,235.2h0M352.2,168.0h0M370.1,234.3h0M387.2,238.9h0M370.8,233.4h0M399.4,228.2h0M397.4,228.1h0M416.8,195.5h0M370.4,233.0h0M386.4,235.4h0M368.3,236.3h0M414.8,202.7h0M396.8,192.6h0M373.7,228.1h0M353.1,194.8h0M396.8,228.1h0M374.0,209.3h0M392.0,238.8h0M352.2,169.4h0M354.2,143.7h0M363.9,187.3h0M384.2,238.9h0M386.1,231.1h0M382.5,238.7h0M364.8,232.7h0M363.8,235.4h0M359.2,203.5h0M401.1,225.3h0M366.1,232.7h0M365.6,229.1h0M361.7,229.4h0M393.4,204.8h0M357.8,154.5h0M362.0,234.1h0M362.1,193.7h0M408.8,224.9h0M375.7,232.6h0M365.3,227.2h0M382.0,239.8h0M359.6,220.6h0M373.9,225.3h0M407.9,220.4h0M363.3,231.8h0M355.4,204.8h0M381.4,233.6h0M405.3,220.9h0M394.7,237.0h0M389.9,239.0h0M386.2,230.8h0M404.0,215.3h0M390.7,232.4h0M384.4,239.5h0M375.1,232.0h0M374.4,237.6h0M375.2,226.5h0M399.3,191.8h0M356.6,185.8h0M414.6,162.1h0M372.4,222.7h0M392.7,236.7h0M367.2,210.8h0M396.4,229.0h0M400.2,232.3h0M360.0,217.2h0M362.6,230.5h0M376.7,232.6h0M410.5,225.3h0M409.4,153.8h0M364.2,196.3h0M370.1,231.3h0M384.0,240.0h0M399.3,234.7h0M409.8,156.4h0M390.9,231.8h0M385.2,236.6h0M366.4,228.0h0M392.4,233.1h0M356.4,214.1h0M380.7,231.2h0M415.4,207.8h0M384.8,239.7h0M399.0,231.5h0M389.0,236.5h0M371.9,214.4h0M369.1,229.0h0M366.8,208.1h0M372.3,220.4h0M396.5,216.4h0M368.9,228.8h0M382.4,238.0h0M361.9,231.6h0M379.4,229.2h0M361.2,166.7h0M357.5,186.1h0M348.3,167.8h0M402.2,173.7h0M367.3,199.8h0M405.2,190.8h0M403.9,231.8h0M380.9,237.6h0M379.2,226.0h0M384.2,240.0h0M392.9,223.4h0M401.5,222.6h0M400.5,210.0h0M372.0,235.2h0M374.0,229.1h0M354.7,150.5h0M408.7,208.1h0M388.2,239.6h0M395.3,229.5h0M389.9,222.4h0M364.0,233.8h0M419.4,173.0h0M373.1,222.2h0M417.7,187.1h0M380.8,231.6h0M405.6,226.2h0M381.8,235.0h0M358.9,220.5h0M406.6,155.3h0M389.3,224.8h0M388.6,237.0h0M391.0,231.5h0M375.1,238.8h0M378.9,235.0h0M397.9,235.5h0M365.1,219.7h0M405.4,211.3h0M374.8,221.6h0M397.8,233.7h0M355.5,217.8h0M404.4,214.6h0M387.6,239.4h0M395.0,226.8h0M395.7,230.1h0M381.2,237.3h0M375.1,235.5h0M368.2,226.3h0M384.9,238.6h0M409.4,200.0h0M364.0,234.9h0M395.9,237.4h0M400.7,219.5h0M368.1,232.0h0M374.6,237.4h0M383.2,239.7h0M388.5,231.6h0M382.0,238.7h0M365.7,235.2h0M374.3,239.0h0M372.3,212.0h0M394.4,210.2h0M398.5,222.4h0M396.1,215.1h0M384.5,238.9h0M354.8,213.6h0M364.8,201.5h0M366.6,189.6h0M375.0,215.9h0M354.7,216.9h0M389.0,239.4h0M382.1,239.9h0M357.7,202.9h0M408.7,227.6h0M387.3,231.2h0M369.1,217.9h0M372.0,232.9h0M365.9,235.0h0M408.3,190.8h0M385.3,235.6h0M378.6,238.7h0M374.5,226.2h0M383.5,240.2h0M383.2,240.1h0M415.3,205.1h0M386.6,238.0h0M406.5,215.5h0M399.0,237.2h0M412.0,215.5h0M365.6,226.6h0M377.7,235.8h0M365.7,185.5h0M382.0,239.8h0M384.6,238.7h0M381.3,238.0h0M369.6,235.1h0M369.4,214.1h0M387.5,230.2h0M376.9,236.8h0M357.7,228.3h0M383.5,240.2h0M377.8,224.9h0M360.2,232.0h0M397.4,233.2h0M407.5,169.9h0M383.4,240.1h0M378.9,228.4h0M381.4,239.8h0M398.2,230.5h0M376.8,222.3h0M353.4,218.0h0M370.2,236.7h0M411.2,210.6h0M387.5,238.8h0M360.0,224.6h0M398.5,234.4h0M368.9,224.5h0M405.1,232.4h0M377.2,238.7h0M349.6,200.4h0M417.0,155.6h0M378.7,238.2h0M409.9,228.6h0M403.7,235.5h0M395.7,214.0h0M372.8,219.0h0M387.0,238.8h0M376.6,238.4h0M377.2,235.7h0M392.7,223.3h0M393.7,226.6h0M370.8,233.2h0M355.9,207.5h0M361.2,233.1h0M357.2,225.6h0M402.7,234.1h0M386.5,234.0h0M367.8,235.2h0M394.6,212.3h0M398.7,213.0h0M414.3,206.2h0M362.1,225.8h0M355.9,205.2h0M399.3,234.1h0M389.9,227.6h0M383.0,239.1h0M395.5,224.8h0M374.1,238.4h0M376.5,233.0h0M366.3,206.1h0M393.6,233.8h0M359.9,191.1h0M390.5,239.2h0M387.0,229.8h0M395.0,210.8h0M358.3,225.8h0M404.0,226.5h0M348.5,173.3h0M351.2,145.0h0M411.5,210.2h0M378.3,229.0h0M366.5,225.3h0M360.0,208.7h0M403.9,231.6h0M372.4,222.7h0M379.3,238.8h0M387.1,239.6h0M375.2,228.6h0M397.0,234.6h0M362.9,199.2h0M384.6,236.2h0M415.4,131.2h0M383.0,238.5h0M369.4,209.9h0M372.5,213.8h0M407.3,216.4h0M407.1,206.8h0M375.3,225.6h0M402.4,179.8h0M374.3,222.1h0M379.9,228.7h0M394.8,228.1h0M402.8,208.5h0M359.0,231.3h0M406.0,227.5h0M418.5,198.8h0M375.6,223.6h0M390.0,234.7h0M417.7,180.1h0M400.2,235.0h0M411.3,190.8h0M360.7,200.3h0M368.7,237.3h0M387.1,231.1h0M377.3,233.3h0M355.0,205.5h0M407.0,230.0h0M401.5,200.8h0M378.0,223.1h0M371.3,234.2h0M389.9,232.3h0M354.3,214.9h0M385.1,237.9h0M410.5,206.3h0M394.9,229.2h0M369.3,223.5h0M415.5,165.7h0M407.3,193.0h0M348.9,124.1h0M381.6,234.7h0M407.8,162.5h0M397.9,199.7h0M387.9,228.2h0M368.3,215.3h0M401.7,201.6h0M414.9,150.2h0M393.0,229.2h0M387.2,227.9h0M375.0,215.7h0M371.9,235.0h0M355.1,152.5h0M369.4,220.4h0M379.7,228.8h0M368.0,234.8h0M395.0,231.4h0M393.3,227.3h0M367.5,226.3h0M401.0,230.5h0M399.1,236.2h0M381.6,236.9h0M363.1,226.0h0M377.0,239.0h0M394.3,238.1h0M347.9,188.2h0M371.8,214.3h0M410.6,155.7h0M396.3,233.6h0M392.5,232.9h0M376.7,227.5h0M380.9,239.4h0M386.4,231.0h0M394.4,233.2h0M369.4,227.2h0M380.6,235.6h0M372.4,237.5h0M378.7,237.4h0M368.9,234.5h0M364.7,223.5h0M367.0,215.3h0M396.8,232.6h0M379.3,229.1h0M381.1,232.1h0M381.5,235.4h0M409.3,207.8h0M406.6,176.2h0M415.3,185.1h0M403.3,233.1h0M387.1,235.7h0M374.3,238.6h0M381.3,235.4h0M376.5,228.8h0M360.3,195.9h0M390.8,212.9h0M393.2,208.8h0M396.9,227.9h0M383.3,240.0h0M389.5,228.3h0M390.3,230.3h0M366.8,223.0h0M397.2,223.5h0M364.3,235.0h0M379.3,237.7h0M390.6,218.2h0M383.6,240.1h0M356.7,185.5h0M384.6,240.0h0M372.3,233.5h0M402.3,208.7h0M397.2,230.2h0M377.7,236.3h0M362.3,184.7h0M413.9,203.3h0M385.1,236.5h0M368.4,237.0h0M362.7,211.3h0M369.1,236.3h0M351.5,202.9h0M403.1,211.9h0M363.0,171.4h0M359.3,211.6h0M363.0,226.9h0M380.3,239.3h0M397.7,224.2h0M391.3,234.9h0M372.2,234.7h0M391.0,215.8h0M380.6,237.6h0M389.2,225.7h0M413.1,203.2h0M391.7,222.7h0M372.0,236.7h0M403.0,234.0h0M388.9,220.9h0M372.2,224.1h0M361.1,213.9h0M403.1,201.0h0M367.9,191.4h0M387.1,228.4h0M378.0,238.3h0M381.7,239.8h0M379.2,238.4h0M373.1,233.6h0M354.3,191.1h0M366.3,227.2h0M372.8,212.7h0M395.7,223.6h0M392.3,234.5h0M372.2,224.9h0M375.7,234.3h0M397.1,202.2h0M393.6,231.1h0M361.6,224.1h0M353.2,212.5h0M363.3,189.6h0M398.0,201.0h0M369.6,223.1h0M416.1,169.7h0M368.3,201.2h0M370.0,217.4h0M396.8,221.5h0M369.7,235.5h0M378.9,238.1h0M405.4,233.3h0M369.2,232.4h0M389.0,223.4h0M368.5,236.8h0M355.6,224.2h0M392.7,224.4h0M364.4,209.0h0M406.8,207.4h0M354.9,222.7h0M366.6,195.6h0M390.5,229.2h0M396.0,209.1h0M400.4,224.1h0M388.0,234.5h0M387.3,232.7h0M370.6,197.5h0M355.2,210.3h0M411.5,160.9h0M357.8,195.7h0M376.4,220.6h0M360.0,209.4h0M400.1,221.8h0M409.9,186.1h0M399.7,191.3h0M378.4,237.0h0M412.9,155.7h0M372.0,238.1h0M362.0,226.8h0M393.0,220.3h0M378.8,238.2h0M399.0,209.6h0M379.9,235.1h0M356.7,187.5h0M371.9,238.2h0M366.4,235.1h0M373.3,233.7h0M385.8,233.4h0M376.9,225.7h0M388.9,228.2h0M361.5,176.7h0M399.2,236.9h0M387.1,237.1h0M379.1,232.1h0M356.0,215.7h0M374.7,228.9h0M358.0,230.3h0M412.3,217.7h0M393.7,225.2h0M355.0,194.8h0M380.0,239.3h0M412.5,194.2h0M356.9,172.8h0M414.7,150.5h0M392.7,225.8h0M394.3,224.4h0M404.3,226.0h0M403.0,226.2h0M394.6,236.9h0M386.7,234.1h0M409.4,205.9h0M359.1,192.5h0M376.5,237.8h0M374.1,213.9h0M411.4,136.5h0M372.9,230.9h0M405.0,232.2h0M394.1,223.6h0M410.0,214.7h0M398.8,236.5h0M416.2,172.1h0M373.6,231.8h0M405.1,232.7h0M370.7,227.9h0M362.2,224.8h0M376.2,236.9h0M375.6,230.0h0M394.3,213.9h0M372.7,235.6h0M390.1,221.6h0M390.3,238.6h0M384.4,237.1h0M393.2,228.1h0M373.9,231.7h0M379.7,230.2h0M379.8,239.5h0M370.8,208.6h0M396.8,233.4h0M369.4,206.8h0M380.5,236.1h0M361.2,224.3h0M358.3,213.3h0M391.3,236.6h0M353.9,174.3h0M367.7,229.7h0M396.1,222.9h0M356.8,219.9h0M375.1,230.1h0M378.2,232.7h0M373.9,216.9h0M350.5,142.1h0M381.0,239.4h0M402.4,234.1h0M382.5,239.9h0M369.0,226.2h0M393.6,230.7h0M400.3,222.8h0M375.9,230.6h0M407.7,182.4h0M361.7,177.1h0M372.9,219.0h0M385.4,234.0h0M415.0,201.9h0M380.9,234.0h0M409.4,208.0h0M380.2,232.5h0M400.1,234.3h0M409.4,193.8h0M372.8,207.6h0M389.5,238.7h0M405.5,233.5h0M382.7,239.9h0M380.4,237.7h0M352.1,153.8h0M386.7,232.1h0M391.0,239.2h0M381.8,239.4h0M363.9,215.6h0M376.2,232.8h0M396.2,228.2h0M403.7,231.9h0M356.9,191.4h0M378.9,226.2h0M411.2,192.7h0M371.3,236.6h0M394.5,237.7h0M368.4,221.5h0M410.6,212.2h0M396.5,234.0h0M365.7,217.2h0M393.1,218.4h0M381.2,234.4h0M371.9,221.0h0M386.1,239.3h0M363.3,227.1h0M396.9,224.4h0M396.8,195.7h0M383.2,240.2h0M377.7,238.8h0M389.4,219.0h0M402.0,232.0h0M363.3,231.7h0M399.4,213.2h0M363.1,209.1h0M361.8,189.1h0M367.2,223.3h0M404.8,227.7h0M393.8,219.1h0M386.5,235.4h0M370.2,226.7h0M355.7,225.0h0M409.4,164.7h0M382.5,236.8h0M366.5,230.4h0M366.7,231.0h0M398.4,191.9h0M393.3,228.1h0M373.6,236.3h0M392.6,217.5h0M394.3,215.4h0M379.8,228.5h0M365.1,208.7h0M359.3,227.4h0M362.1,215.5h0M382.9,238.4h0M401.2,208.3h0M377.9,237.1h0M401.5,228.3h0M392.8,226.9h0M411.0,210.9h0M370.3,237.2h0M379.1,229.1h0M366.1,233.7h0M360.8,227.6h0M395.2,233.5h0M403.5,234.6h0M376.5,228.7h0M372.9,232.6h0M380.5,232.1h0M416.7,179.9h0M391.8,237.4h0M411.1,212.8h0M399.0,216.9h0M366.7,218.6h0M418.2,139.1h0M369.4,218.9h0M354.0,211.1h0M404.2,215.6h0M396.3,219.0h0M373.1,216.5h0M380.6,236.7h0M404.3,230.6h0M377.0,232.7h0M406.8,232.1h0M377.9,222.0h0M413.8,203.6h0M371.8,221.0h0M360.4,213.2h0M370.8,237.4h0M361.3,221.6h0M361.5,224.2h0M391.6,227.1h0M419.5,172.6h0M388.9,232.3h0M420.1,176.0h0M381.0,239.3h0M347.9,187.4h0M392.3,238.7h0M397.6,237.1h0M369.0,233.9h0M413.2,213.6h0M385.4,238.4h0M360.5,211.5h0M391.4,226.4h0M359.2,228.8h0M369.2,212.8h0M366.7,200.0h0M388.8,238.8h0M370.2,233.6h0M389.6,217.1h0M394.0,202.3h0M362.7,226.9h0M379.0,229.9h0M397.7,188.1h0M415.0,208.2h0M410.3,209.0h0M387.3,225.9h0M409.3,228.5h0M400.9,205.9h0M383.0,239.8h0M398.3,220.9h0M388.5,236.2h0M392.9,222.1h0M385.5,237.1h0M407.3,231.9h0M361.7,233.0h0M360.9,201.7h0M414.0,216.1h0M380.3,238.9h0M401.9,172.6h0M414.5,198.4h0M386.1,233.2h0M371.4,215.2h0M375.3,215.4h0M409.8,222.1h0M346.9,181.2h0M389.9,228.0h0M376.5,229.0h0M398.9,223.0h0M374.1,217.1h0M359.0,230.4h0M382.1,238.2h0M356.5,165.7h0M411.7,220.1h0M414.1,126.7h0M396.5,194.7h0M405.2,225.3h0M370.0,237.5h0M413.4,183.5h0M371.3,225.0h0M417.6,185.2h0M367.8,227.0h0M394.4,204.9h0M381.2,234.0h0M407.2,224.0h0M365.1,224.2h0M371.7,217.7h0M397.9,228.0h0M363.2,222.3h0M400.2,232.2h0M387.8,237.0h0M366.9,213.6h0M408.4,230.7h0M374.2,229.8h0M364.2,227.5h0M375.2,238.1h0M387.7,229.3h0M375.6,232.1h0M360.0,228.8h0M371.6,235.9h0M400.1,235.9h0M358.5,224.2h0M366.7,218.2h0M376.3,238.1h0M365.8,223.8h0M353.5,218.0h0M411.1,203.5h0M394.5,237.4h0M359.9,169.5h0M406.2,218.1h0M365.3,197.9h0M387.9,224.1h0M372.2,229.1h0M392.1,238.9h0M397.7,237.2h0M378.7,232.8h0M371.1,231.1h0M407.8,215.0h0M374.1,222.8h0M372.6,236.7h0M373.7,237.0h0M370.6,237.7h0M387.9,231.8h0M408.5,222.0h0M359.2,211.1h0M391.8,215.7h0M410.5,226.5h0M366.2,218.1h0M358.4,182.0h0M352.7,204.4h0M384.4,237.0h0M417.7,190.5h0M394.7,234.1h0M418.0,157.3h0M379.5,236.5h0M385.7,238.5h0M359.4,213.1h0M376.2,237.0h0M404.2,231.5h0M379.5,235.4h0M358.9,178.6h0M380.2,239.6h0M396.3,217.1h0M380.7,232.9h0M381.6,236.5h0M363.3,220.3h0M395.0,197.5h0M385.8,232.4h0M353.4,190.0h0M414.5,134.3h0M379.4,235.7h0M383.9,239.1h0M397.0,214.1h0M416.3,173.6h0M376.5,237.7h0M373.8,222.4h0M406.8,224.1h0M357.7,221.5h0M366.2,218.6h0M369.5,235.3h0M397.3,234.9h0M375.0,238.3h0M362.6,224.4h0M381.7,235.0h0M400.9,181.0h0M400.9,209.1h0M371.8,235.5h0M379.2,228.0h0M383.9,239.3h0M365.8,211.8h0M385.2,238.1h0M416.6,168.6h0M380.3,237.9h0M360.5,208.3h0M372.3,225.4h0M403.4,231.5h0M407.8,220.8h0M414.1,209.6h0M363.6,230.1h0M370.9,233.8h0M367.8,225.5h0M390.8,227.1h0M386.9,235.3h0M386.7,238.6h0M370.6,208.4h0M380.0,237.0h0M367.7,234.0h0M387.1,239.7h0M361.8,197.2h0M393.1,221.3h0M384.8,235.6h0M407.3,185.1h0M404.9,205.4h0M380.6,233.5h0M390.1,236.7h0M397.6,226.9h0M362.8,232.7h0M391.1,220.2h0M399.2,231.0h0M380.8,239.1h0M361.8,171.7h0M366.8,221.2h0M392.9,237.2h0M380.8,239.8h0M374.8,211.1h0M397.1,229.9h0M378.6,232.1h0M357.3,228.7h0M378.5,233.9h0M353.8,207.3h0M351.4,210.1h0M371.1,227.4h0M393.3,228.1h0M395.0,225.2h0M348.1,168.8h0M370.3,230.2h0M388.3,232.2h0M396.6,228.6h0M396.7,230.1h0M396.9,233.7h0M396.7,204.6h0M362.1,233.3h0M377.5,238.1h0M407.6,228.3h0M409.8,223.8h0M389.1,230.2h0M382.5,237.8h0M390.8,238.1h0M384.9,235.9h0M393.1,220.7h0M362.6,218.6h0M386.7,232.6h0M418.7,192.0h0M396.4,237.4h0M397.1,223.6h0M398.5,185.2h0M346.9,175.6h0M372.5,237.9h0M394.1,201.6h0M404.9,203.6h0M354.8,218.0h0M355.5,209.2h0M372.3,211.1h0M371.7,221.3h0M373.6,214.8h0M376.9,230.5h0M393.8,203.9h0M362.8,187.1h0M413.3,201.5h0M358.3,230.4h0M362.3,179.7h0M392.2,221.5h0M355.1,203.4h0M388.7,223.0h0M397.7,224.9h0M370.4,236.2h0M389.0,231.5h0M406.3,184.4h0M364.6,226.4h0M364.0,210.3h0M369.7,217.9h0M391.3,235.9h0M368.4,215.1h0M379.8,232.6h0M393.9,205.4h0M365.9,234.6h0M382.0,239.6h0M348.8,163.7h0M381.7,235.9h0M369.0,233.3h0M367.5,218.2h0M392.0,230.1h0M384.5,238.7h0M376.9,234.2h0M368.6,194.4h0M361.0,167.8h0M384.6,237.8h0M380.9,231.6h0M379.1,234.6h0M403.0,217.7h0M387.8,229.1h0M397.5,228.1h0M363.7,195.3h0M368.0,188.2h0M381.4,234.0h0M391.0,224.6h0M363.1,231.7h0M372.3,207.4h0M376.7,230.5h0M358.0,219.9h0M373.1,235.1h0M386.6,235.6h0M377.2,233.3h0M377.2,236.7h0M391.6,225.0h0M383.3,239.6h0M401.7,225.1h0M385.9,239.6h0M378.0,222.7h0M385.1,235.1h0M363.7,206.6h0M358.7,171.4h0M372.3,219.0h0M385.7,232.5h0M414.2,169.1h0M386.1,238.1h0M368.9,237.3h0M399.7,235.8h0M398.9,232.1h0M402.5,233.3h0M376.0,237.6h0M404.2,194.4h0M391.3,232.0h0M366.1,235.9h0M396.0,233.9h0M381.2,236.9h0M366.8,209.7h0M396.8,230.2h0M417.1,202.3h0M380.1,230.5h0M415.9,188.9h0M348.4,181.0h0M392.3,238.8h0M381.9,236.9h0M373.6,234.0h0M401.8,234.7h0M361.4,212.5h0M379.9,232.9h0M376.1,221.4h0M366.1,187.8h0M391.7,237.8h0M357.1,218.4h0M389.8,236.5h0M356.0,208.0h0M357.7,208.1h0M397.9,201.9h0M414.5,134.0h0M363.7,228.9h0M383.6,240.2h0M348.4,177.4h0M381.1,232.8h0M375.6,238.7h0M394.4,231.6h0M400.6,209.8h0M382.1,239.5h0M377.2,237.2h0M371.6,237.2h0M389.5,233.9h0M398.6,199.5h0M387.2,239.5h0M394.6,207.9h0M384.2,238.1h0M367.5,198.3h0M403.7,216.9h0M377.4,233.3h0M398.0,219.4h0M386.0,234.0h0M357.6,223.4h0M404.0,207.5h0M396.7,226.7h0M386.7,230.0h0M382.2,239.3h0M362.0,221.6h0M366.1,235.3h0M369.0,208.5h0M375.6,222.8h0M388.3,227.7h0M368.6,199.7h0M370.4,208.0h0M359.2,211.8h0M380.2,235.3h0M405.8,160.0h0M403.9,209.6h0M409.1,186.4h0M390.0,229.1h0M407.6,216.9h0M403.7,222.8h0M391.1,237.6h0M401.3,188.7h0M381.4,239.9h0M406.8,204.2h0M410.5,212.0h0M401.1,228.4h0M386.3,230.1h0M392.1,233.6h0M387.5,239.4h0M401.5,236.6h0M362.6,231.6h0M403.9,225.6h0M361.4,211.7h0M374.9,221.6h0M395.8,227.1h0M374.1,210.0h0M368.0,225.1h0M412.8,211.4h0M350.3,177.4h0M368.9,223.5h0M404.0,219.8h0M369.7,237.2h0M363.6,230.2h0M393.8,207.5h0M406.6,204.4h0M392.8,225.5h0M400.7,232.9h0M358.7,221.2h0M361.3,227.8h0M375.8,222.8h0M362.0,219.3h0M353.6,209.4h0M363.6,191.9h0M369.2,220.2h0M407.6,229.0h0M378.2,238.9h0M381.3,239.0h0M398.9,183.4h0M377.4,222.4h0M373.7,238.8h0M371.0,217.9h0M409.8,226.1h0M391.6,225.4h0M399.0,194.5h0M394.5,234.7h0M362.8,224.9h0M409.6,201.6h0M370.8,224.4h0M400.2,191.7h0M378.1,223.5h0M402.2,230.8h0M391.8,217.7h0M407.2,158.4h0M382.7,239.2h0M395.7,216.0h0M385.6,235.6h0M360.2,168.4h0M355.1,148.8h0M380.0,236.6h0M401.0,236.1h0M362.0,229.4h0M388.8,233.9h0M399.1,203.2h0M382.2,236.5h0M365.6,222.4h0M394.8,231.4h0M391.9,218.2h0M379.3,228.9h0M417.0,187.6h0M399.4,199.4h0M381.7,238.5h0M400.0,227.3h0M395.6,226.4h0M391.8,223.5h0M405.7,226.5h0M373.7,236.8h0M346.4,117.3h0M397.2,237.4h0M364.0,181.6h0M370.4,236.6h0M396.9,214.6h0M374.2,237.8h0M393.1,232.9h0M392.6,230.1h0M380.9,238.0h0M371.4,216.5h0M388.3,232.5h0M351.1,207.6h0M359.0,225.1h0M347.7,120.8h0M357.7,199.3h0M405.5,232.1h0M352.8,214.4h0M388.0,239.0h0M363.6,202.7h0M370.3,233.2h0M405.9,219.1h0M396.8,229.3h0M407.5,230.4h0M371.5,202.7h0M389.3,236.4h0M366.8,234.3h0M395.5,226.4h0M402.3,227.3h0M387.0,231.2h0M387.2,232.2h0M409.2,229.7h0M357.0,219.7h0M391.6,217.1h0M391.4,226.8h0M381.8,239.6h0M393.4,224.3h0M397.5,208.5h0M362.8,178.6h0M383.4,240.1h0M396.2,226.5h0M353.2,216.6h0M405.8,210.9h0M377.5,223.7h0M357.3,217.3h0M380.6,238.7h0M407.2,230.3h0M382.7,238.3h0M383.9,240.1h0M388.3,239.5h0M370.5,236.8h0M351.1,184.3h0M372.4,224.6h0M392.6,220.0h0M404.7,212.7h0M400.3,232.8h0M361.5,223.0h0M403.1,214.9h0M396.6,215.1h0M397.2,221.5h0M378.8,234.2h0M370.4,231.6h0M366.3,234.0h0M385.3,239.4h0M386.7,238.8h0M390.8,234.8h0M395.7,223.6h0M378.1,238.0h0M370.2,225.6h0M413.9,210.8h0M370.9,224.9h0M361.8,176.9h0M366.1,232.1h0M368.5,210.5h0M389.9,238.1h0M386.9,236.5h0M390.1,218.7h0M392.8,209.5h0M381.7,237.5h0M374.0,224.2h0M370.6,235.2h0M374.6,221.1h0M391.7,216.2h0M374.6,231.4h0M370.5,235.7h0M380.7,235.8h0M381.0,239.9h0M409.2,144.3h0M395.7,230.3h0M360.8,228.7h0M364.0,218.2h0M399.8,224.3h0M409.3,154.9h0M408.9,217.0h0M401.1,220.2h0M389.6,220.2h0M382.8,239.3h0M372.7,234.3h0M390.4,219.3h0M382.2,239.2h0M401.9,208.3h0M414.5,201.8h0M386.9,238.5h0M401.0,200.8h0M408.6,151.7h0M383.7,239.7h0M368.6,232.0h0M377.1,237.4h0M362.0,229.6h0M393.8,223.1h0M380.6,234.6h0M362.2,233.9h0M409.9,166.1h0M397.9,212.6h0M373.8,227.8h0M364.8,234.1h0M381.8,236.5h0M387.3,233.9h0M367.3,187.0h0M408.2,229.6h0M403.3,228.2h0M385.9,239.7h0M361.9,226.7h0M372.0,223.3h0M376.7,236.6h0M362.0,232.1h0M379.5,235.7h0M399.9,221.3h0M368.8,191.6h0M385.2,237.8h0M366.5,233.0h0M365.4,220.5h0M401.5,205.6h0M362.6,233.1h0M398.3,232.9h0M401.8,225.4h0M396.1,233.8h0M380.1,232.5h0M363.5,209.0h0M406.7,205.7h0M367.7,231.8h0M373.6,228.8h0M359.9,199.2h0M377.0,219.7h0M362.5,225.1h0M366.5,217.7h0M385.9,231.6h0M367.1,226.8h0M407.4,221.0h0M391.3,216.5h0M372.5,238.2h0M376.7,237.0h0M378.4,228.7h0M402.0,229.7h0M398.2,221.3h0M363.1,219.9h0M389.7,220.8h0M403.1,232.3h0M398.7,231.5h0M393.8,232.0h0M360.4,173.0h0M366.0,234.7h0M391.2,234.6h0M383.7,240.2h0M384.4,237.0h0M379.2,234.4h0M389.6,218.1h0M407.8,226.0h0M400.3,207.8h0M382.9,238.9h0M375.4,231.4h0M390.7,238.4h0M357.5,176.4h0M365.3,236.1h0M401.9,218.3h0M375.3,235.4h0M388.5,232.7h0M403.3,233.0h0M354.3,215.9h0M396.5,215.5h0M385.0,235.8h0M374.4,215.0h0M390.1,229.4h0M377.1,235.9h0M405.0,170.4h0M357.7,217.3h0M381.8,236.4h0M406.8,228.5h0M352.0,213.3h0M360.4,170.7h0M406.8,227.2h0M376.8,226.7h0M376.3,230.7h0M412.3,188.0h0M395.3,221.8h0M370.8,233.8h0M403.2,190.6h0M387.1,227.8h0M416.5,187.3h0M374.1,229.0h0M380.6,238.2h0M378.0,229.1h0M368.2,210.4h0M367.9,207.9h0M412.0,202.3h0M376.8,239.1h0M364.6,180.3h0M367.4,234.4h0M369.4,208.5h0M376.2,237.4h0M416.3,144.7h0M381.4,236.8h0M373.2,238.3h0M379.5,232.1h0M351.6,209.2h0M404.1,226.6h0M371.2,223.9h0M353.2,206.1h0M389.6,217.5h0M391.5,227.7h0M390.2,223.0h0M357.6,207.7h0M373.6,219.0h0M375.7,231.1h0M411.3,174.0h0M404.0,201.2h0M351.4,184.1h0M358.7,225.2h0M392.9,235.2h0M411.4,208.0h0M383.8,240.2h0M385.7,233.4h0M369.9,217.6h0M369.1,218.5h0M404.6,211.8h0M362.1,232.4h0M374.0,238.0h0M376.2,235.6h0M371.2,228.4h0M398.4,232.3h0M397.9,233.6h0M375.5,234.2h0M413.0,166.1h0M358.4,197.0h0M372.6,219.0h0M386.8,236.7h0M370.5,219.1h0M360.6,188.0h0M375.7,238.1h0M408.9,219.0h0M398.1,233.5h0M401.3,224.7h0M394.2,237.3h0M382.5,238.8h0M400.8,201.6h0M399.8,234.6h0M370.7,228.8h0M370.1,227.9h0M360.0,227.2h0M365.3,211.5h0M406.6,220.9h0M359.5,203.1h0M396.6,224.9h0M385.5,237.9h0M401.6,218.7h0M396.1,203.9h0M407.1,221.4h0M348.1,190.8h0M366.9,226.3h0M397.9,189.8h0M358.3,204.7h0M378.9,228.5h0M390.1,237.1h0M406.3,195.1h0M409.4,158.2h0M381.4,237.6h0M395.6,215.1h0M397.4,188.9h0M351.4,202.9h0M393.8,231.7h0M377.5,239.4h0M361.6,226.1h0M411.3,221.0h0M402.0,176.5h0M363.1,230.5h0M393.0,236.4h0M382.5,238.5h0M385.8,236.6h0M402.0,235.0h0M417.3,181.1h0M397.4,231.0h0M353.6,140.6h0M371.7,238.0h0M393.1,213.4h0M380.3,230.5h0M390.8,236.4h0M379.5,235.9h0M389.7,238.5h0M369.7,236.0h0M367.8,233.8h0M375.9,225.8h0M381.3,239.9h0M400.9,224.9h0M406.2,159.3h0M396.7,204.4h0M373.7,217.4h0M364.2,193.0h0M395.2,222.8h0M348.7,186.3h0M401.1,206.4h0M410.2,199.3h0M392.8,228.9h0M360.4,230.9h0M400.5,235.7h0M380.6,239.3h0M403.2,227.9h0M364.9,222.7h0M374.0,220.9h0M371.7,235.6h0M384.5,239.2h0M386.9,239.3h0M383.8,239.6h0M390.9,212.8h0M410.9,215.7h0M374.3,223.2h0M383.5,240.0h0M381.5,237.4h0M410.1,226.7h0M393.4,231.3h0M391.4,225.9h0M365.7,230.4h0M375.8,231.3h0M370.8,211.6h0M374.0,230.3h0M368.2,204.2h0M409.1,227.9h0M394.1,231.5h0M403.0,233.0h0M397.6,233.0h0M370.7,234.8h0M401.1,193.2h0M394.4,233.2h0M388.8,235.7h0M390.9,216.9h0M388.5,222.5h0M355.4,223.2h0M365.0,231.1h0M379.2,237.3h0M378.5,237.2h0M384.6,239.8h0M382.5,238.4h0M362.1,222.2h0M378.8,224.9h0M369.5,211.0h0M403.1,229.8h0M381.6,239.1h0M357.9,203.2h0M373.4,237.3h0M379.7,227.8h0M402.2,170.4h0M388.0,235.3h0M378.0,229.9h0M385.8,235.2h0M365.8,219.0h0M415.1,209.7h0M400.2,207.5h0M364.9,200.5h0M397.6,203.4h0M349.7,168.3h0M378.0,236.7h0M385.2,234.2h0M412.2,222.4h0M401.8,204.8h0M384.1,238.0h0M400.9,233.0h0M389.1,237.4h0M405.2,195.1h0M392.7,230.0h0M384.3,237.4h0M398.8,230.9h0M385.8,233.9h0M361.5,231.4h0M370.9,198.3h0M376.6,223.9h0M402.0,189.0h0M386.2,230.2h0M374.2,239.0h0M372.5,234.9h0M380.4,236.2h0M403.9,220.4h0M374.3,238.6h0M390.9,219.4h0M366.6,231.6h0M354.9,174.7h0M409.8,226.8h0M414.4,212.7h0M354.6,152.9h0M408.1,217.5h0M420.1,176.7h0M367.2,234.4h0M374.9,231.8h0M395.3,229.2h0M363.0,206.6h0M390.8,239.0h0M410.5,210.3h0M390.2,219.3h0M379.2,237.0h0M394.2,221.1h0M391.9,231.5h0M391.4,234.7h0M382.1,239.0h0M352.9,185.6h0M405.7,222.6h0M387.3,237.3h0M358.7,157.3h0M374.0,224.0h0M409.7,143.6h0M415.5,120.4h0M402.0,204.6h0M410.8,175.5h0M407.7,203.0h0M395.9,214.2h0M407.9,231.3h0M387.1,232.3h0M393.7,237.3h0M412.5,198.9h0M390.4,236.5h0M355.9,214.9h0M380.3,239.0h0M350.9,148.7h0M406.9,228.0h0M395.5,237.5h0M385.5,235.5h0M370.4,209.0h0M376.2,218.9h0M418.1,163.0h0M370.8,208.9h0M408.8,225.8h0M402.4,199.1h0M382.6,240.0h0M348.6,200.9h0M412.0,184.8h0M383.4,240.2h0M368.9,235.5h0M386.7,239.4h0M373.0,237.8h0M390.0,231.7h0M367.0,212.9h0M392.3,219.1h0M372.6,231.7h0M367.4,228.0h0M408.6,201.7h0M386.3,239.3h0M358.1,161.9h0M375.6,223.3h0M402.4,194.6h0M385.6,237.7h0M367.1,236.7h0M399.7,179.3h0M390.2,237.6h0M418.6,156.7h0M401.4,216.3h0M392.5,216.8h0M377.9,221.5h0M413.2,160.6h0M348.8,134.1h0M377.7,223.2h0M386.0,237.3h0M375.1,219.6h0M396.4,200.7h0M413.2,213.9h0M380.9,238.5h0M391.5,233.1h0M380.5,235.5h0M404.9,223.7h0M393.6,232.3h0M360.3,226.4h0M363.3,217.1h0M408.8,214.8h0M359.8,226.9h0M381.2,234.4h0M402.0,235.6h0M402.3,201.1h0M388.3,239.5h0M373.0,220.1h0M407.8,199.5h0M382.4,237.7h0M396.3,221.1h0M371.7,237.4h0M388.8,230.4h0M414.4,193.2h0M369.7,198.2h0M377.8,239.2h0M359.8,217.2h0M393.9,228.3h0M360.9,198.9h0M367.1,229.3h0M365.9,221.5h0M390.3,233.0h0M364.5,231.4h0M361.6,225.7h0M365.4,232.1h0M390.4,222.8h0M375.7,216.8h0M407.7,228.5h0M399.7,220.4h0M365.4,221.8h0M371.1,232.2h0M390.3,226.8h0M396.6,215.6h0M361.5,178.9h0M361.0,230.4h0M369.0,217.7h0M364.4,215.5h0M367.3,230.3h0M357.4,205.3h0M385.6,232.1h0M410.9,217.7h0M389.3,237.2h0M415.1,208.6h0M379.3,230.7h0M377.5,237.0h0M372.8,214.8h0M399.8,232.0h0M373.4,231.4h0M351.2,189.7h0M407.9,221.5h0M379.0,237.2h0M362.6,194.1h0M394.9,238.0h0M372.2,202.3h0M365.5,232.2h0M400.7,223.6h0M393.6,231.6h0M396.3,213.4h0M373.7,215.4h0M411.1,222.1h0M373.7,229.8h0M389.8,224.8h0M403.7,221.9h0M354.6,163.5h0M388.1,223.7h0M374.1,235.9h0M403.7,220.4h0M396.8,218.5h0M405.5,212.9h0M385.8,238.0h0M410.9,221.8h0M406.7,186.2h0M389.5,227.6h0M382.5,239.3h0M364.0,183.9h0M377.5,221.6h0M404.6,221.2h0M395.9,214.0h0M373.9,224.3h0M375.3,215.5h0M389.4,227.0h0M416.6,203.1h0M403.9,232.9h0M385.5,235.5h0M370.0,235.7h0M381.1,232.4h0M363.5,233.2h0M357.8,216.7h0M364.2,225.1h0M362.1,214.7h0M395.8,231.0h0M370.3,196.1h0M363.6,221.0h0M370.7,202.2h0M408.8,209.5h0M396.0,235.9h0M393.2,234.3h0M366.2,234.0h0M378.6,225.0h0M385.0,238.3h0M402.0,235.6h0M396.3,231.2h0M370.3,222.0h0M384.0,238.4h0M364.9,215.0h0M371.8,214.6h0M367.2,234.8h0M392.5,232.4h0M410.2,225.4h0M391.0,238.4h0M358.0,228.7h0M372.8,237.8h0M364.8,229.5h0M373.2,211.3h0M369.0,219.1h0M401.0,197.7h0M371.7,216.6h0M386.0,237.8h0M379.5,238.4h0M363.8,231.6h0M374.2,215.2h0M366.6,204.8h0M397.5,189.7h0M372.0,227.3h0M373.7,209.1h0M392.8,238.9h0M387.7,226.9h0M358.6,221.0h0M365.2,217.7h0M390.3,231.4h0M402.6,210.7h0M394.3,238.3h0M384.4,239.9h0M364.2,222.2h0M365.3,226.9h0M385.8,239.5h0M382.0,236.3h0M363.7,235.5h0M393.4,235.4h0M397.4,206.8h0M376.5,218.4h0M410.1,217.7h0M394.5,221.4h0M406.9,224.3h0M404.2,196.5h0M396.7,215.5h0M374.6,219.0h0M407.2,211.3h0M402.8,205.3h0M389.4,223.9h0M388.3,227.1h0M360.1,216.0h0M364.7,232.7h0M391.8,220.5h0M410.9,223.0h0M388.1,223.3h0M358.3,184.7h0M377.2,236.6h0M378.8,237.3h0M406.4,222.7h0M395.8,209.9h0M361.9,228.6h0M404.2,220.7h0M380.4,236.3h0M364.0,210.2h0M356.7,218.8h0M394.1,202.1h0M415.8,200.1h0M403.3,192.2h0M397.2,218.7h0M372.4,210.0h0M396.3,225.6h0M373.3,237.7h0M380.3,230.2h0M409.3,178.9h0M378.0,226.0h0M397.5,211.1h0M349.3,128.2h0M401.9,221.5h0M406.9,217.6h0M357.8,202.2h0M404.5,198.5h0M368.4,220.0h0M401.5,204.3h0M404.6,223.4h0M372.1,224.4h0M367.1,231.6h0M402.8,229.4h0M390.0,220.7h0M376.0,237.4h0M370.3,196.9h0M369.2,236.3h0M400.5,203.6h0M394.1,238.3h0M401.9,216.7h0M378.7,228.6h0M410.9,218.6h0M356.8,202.5h0M376.0,238.7h0M396.4,216.5h0M375.3,226.0h0M382.6,240.0h0M359.9,214.4h0M390.0,219.5h0M398.8,203.1h0M405.1,203.9h0M378.4,233.4h0M386.4,238.7h0M395.3,230.5h0M379.6,237.2h0M410.6,218.4h0M379.8,239.4h0M384.2,237.9h0M384.9,238.0h0M370.4,197.4h0M350.3,176.9h0M408.7,220.6h0M376.3,238.4h0M356.0,193.3h0M351.6,198.0h0M362.2,226.9h0M406.0,228.6h0M358.7,221.3h0M359.3,169.3h0M371.6,200.8h0M382.7,239.7h0M359.6,200.1h0M415.6,191.4h0M377.9,235.0h0M368.2,231.5h0M396.1,210.8h0M407.4,226.6h0M390.9,222.9h0M392.2,222.9h0M350.8,197.4h0M399.8,197.7h0M382.4,239.7h0M393.7,237.5h0M377.1,218.9h0M376.5,217.6h0M394.6,238.1h0M382.0,236.4h0M354.4,161.4h0M368.6,226.5h0M387.2,238.2h0M372.8,220.0h0M395.3,236.5h0M388.5,233.7h0M372.1,214.6h0M349.8,162.7h0M376.2,221.3h0M366.4,228.1h0M361.7,221.3h0M405.8,229.7h0M377.7,239.0h0M351.6,211.0h0M392.4,226.1h0M397.6,208.5h0M386.0,232.3h0M384.5,240.0h0M359.0,199.8h0M395.5,207.0h0M393.6,202.4h0M389.2,230.0h0M380.8,231.2h0M356.7,185.0h0M363.1,197.4h0M399.0,221.2h0M407.3,177.8h0M357.6,216.0h0M403.5,225.2h0M354.7,170.6h0M358.7,210.0h0M378.9,236.8h0M393.5,235.6h0M395.4,199.1h0M348.1,180.7h0M386.7,231.2h0M363.6,215.5h0M359.2,231.6h0M408.5,229.9h0M382.9,240.0h0M348.2,197.3h0M375.2,236.0h0M369.1,218.9h0M411.8,218.7h0M397.9,230.4h0M348.2,122.3h0M368.2,212.3h0M372.3,237.4h0M351.4,163.0h0M404.2,202.9h0M404.5,229.1h0M397.2,237.6h0M366.7,234.7h0M384.5,240.0h0M401.4,230.7h0M361.6,233.8h0M404.3,174.1h0M370.5,200.5h0M358.6,220.3h0M391.4,221.2h0M409.8,209.0h0M396.0,199.5h0M405.5,180.8h0M362.0,200.7h0M414.5,207.3h0M397.5,193.3h0M394.0,210.6h0M348.6,159.4h0M368.1,234.5h0M363.0,229.2h0M358.9,205.2h0M406.4,230.0h0M409.1,229.4h0M394.7,214.3h0M386.8,239.4h0M388.0,231.4h0M417.0,173.7h0M396.8,206.7h0M363.9,229.6h0M397.4,211.0h0M362.5,221.3h0M393.1,205.4h0M388.4,234.1h0M360.6,206.0h0M401.1,197.2h0M402.1,216.6h0M406.8,230.7h0M415.6,196.4h0M397.8,227.6h0M394.2,217.7h0M392.9,218.7h0M399.0,185.1h0M365.1,230.3h0M352.1,204.9h0M367.5,231.8h0M377.7,225.5h0M379.8,228.8h0M369.1,222.6h0M391.5,238.7h0M364.9,207.8h0M412.6,171.2h0M365.3,233.9h0M381.3,237.6h0M403.3,230.9h0M349.7,164.9h0M402.1,236.2h0M365.8,224.7h0M406.0,171.3h0M409.9,224.8h0M404.0,233.0h0M360.7,231.5h0M393.8,231.4h0M396.8,231.0h0M387.0,236.9h0M377.5,224.6h0M396.3,228.2h0M388.0,236.8h0M356.6,210.2h0M363.9,227.2h0M404.9,180.6h0M390.5,238.9h0M348.6,160.7h0M407.0,212.1h0M388.0,232.7h0M362.9,172.1h0M388.2,232.2h0M377.7,223.1h0M415.4,210.5h0M369.9,237.2h0M372.7,209.0h0M377.3,236.8h0M355.8,174.0h0M360.1,223.8h0M397.6,203.9h0M373.2,236.5h0M366.3,227.6h0M368.4,192.7h0M397.2,194.2h0M401.3,215.5h0M383.8,240.0h0M372.8,208.6h0M387.3,237.5h0M410.9,220.5h0M405.3,218.1h0M390.6,237.1h0M364.5,232.6h0M369.0,230.7h0M365.8,194.5h0M387.3,226.7h0M358.2,187.7h0M371.3,223.9h0M372.2,215.1h0M390.8,225.3h0M387.0,237.4h0M367.1,212.4h0M376.4,231.8h0M390.6,235.9h0M366.0,230.4h0M379.5,239.3h0M407.9,228.3h0M378.3,235.1h0M364.5,228.8h0M361.7,224.5h0M388.1,228.7h0M382.3,237.9h0M375.0,219.1h0M396.6,236.2h0M347.5,186.9h0M397.8,202.1h0M407.9,220.7h0M389.9,231.8h0M375.7,226.0h0M371.1,233.9h0M361.8,230.4h0M378.6,236.6h0M373.6,236.8h0M378.6,239.6h0M357.9,170.1h0M415.8,182.9h0M386.3,236.0h0M405.0,169.9h0M406.4,207.3h0M380.4,230.0h0M362.4,225.6h0M389.4,233.5h0M409.1,201.6h0M391.4,233.6h0M416.4,162.6h0M400.1,236.3h0M386.1,238.6h0M361.0,188.1h0M368.7,196.5h0M364.8,205.0h0M377.1,229.6h0M375.6,218.7h0M357.2,226.8h0M406.4,196.7h0M389.7,227.7h0M407.2,204.8h0M407.4,231.4h0M365.7,230.1h0M383.1,240.2h0M361.3,209.2h0M384.7,239.3h0M378.2,235.5h0M371.4,232.5h0M370.8,236.6h0M409.8,219.3h0M410.3,192.1h0M354.7,178.4h0M359.9,228.8h0M404.7,221.2h0M394.1,207.3h0M350.0,129.0h0M386.6,238.8h0M354.1,206.0h0M399.1,205.2h0M347.7,173.6h0M384.1,238.8h0M369.1,232.4h0M395.8,200.2h0M407.3,217.9h0M380.9,237.1h0M408.3,218.8h0M371.5,233.2h0M415.2,187.1h0M413.3,217.6h0M369.7,234.4h0M398.0,223.4h0M418.9,186.9h0M365.5,211.5h0M380.5,237.1h0M367.0,221.3h0M410.4,194.0h0M375.8,233.9h0M402.0,235.6h0M396.8,222.9h0M351.3,183.6h0M373.5,217.6h0M386.0,234.1h0M402.8,194.1h0M360.6,203.6h0M374.0,231.2h0M357.6,226.8h0M378.0,226.3h0M376.7,238.5h0M352.1,188.2h0M372.2,237.2h0M399.0,183.5h0M373.1,220.9h0M382.5,238.1h0M383.4,240.0h0M402.2,232.9h0M369.2,236.5h0M376.6,217.2h0M401.8,223.1h0M379.0,236.2h0M362.6,220.0h0M356.1,225.4h0M417.2,198.9h0M389.0,229.5h0M366.3,205.5h0M372.1,208.4h0M406.4,220.8h0M359.3,226.0h0M364.3,224.1h0M414.5,145.4h0M359.9,211.3h0M391.6,229.5h0M396.3,234.0h0M349.0,135.0h0M383.4,240.1h0M404.4,205.9h0M399.5,213.9h0M349.7,132.2h0M396.9,229.8h0M390.4,230.2h0M390.9,233.7h0M381.8,239.8h0M376.2,225.4h0M373.1,231.6h0M393.1,238.4h0M365.9,224.7h0M374.2,232.6h0M377.7,231.1h0M349.5,191.1h0M384.5,239.9h0M350.6,190.7h0M398.9,216.5h0M398.3,234.1h0M380.1,239.3h0M413.1,220.3h0M400.1,209.1h0M394.6,237.2h0M388.5,225.0h0M366.4,233.9h0M389.0,223.6h0M395.0,238.1h0M363.7,186.7h0M402.5,215.2h0M400.3,234.3h0M386.6,235.4h0M392.7,211.4h0M390.5,219.7h0M376.7,238.4h0M386.2,238.5h0M393.7,235.0h0M349.4,177.0h0M395.7,233.6h0M365.6,229.2h0M373.0,218.3h0M348.8,201.6h0M381.8,239.6h0M380.1,230.3h0M395.0,224.5h0M392.3,234.5h0M364.2,184.1h0M384.5,237.7h0M377.6,238.7h0M358.6,170.6h0M379.5,236.4h0M372.9,237.8h0M364.8,226.8h0M372.5,213.1h0M381.0,235.6h0M349.2,128.6h0M407.0,217.6h0M361.3,191.3h0M398.4,234.6h0M382.5,237.6h0M400.5,214.9h0M357.6,197.9h0M373.9,234.5h0M380.2,234.7h0M376.4,229.0h0M353.9,141.5h0M393.5,231.4h0M417.1,115.1h0M365.7,231.9h0M369.7,236.9h0M378.2,224.5h0M380.2,237.6h0M384.9,236.5h0M408.4,225.6h0M399.9,219.8h0M357.3,188.9h0M355.0,216.8h0M361.8,233.4h0M409.6,219.6h0M380.6,231.7h0M380.6,236.2h0M385.0,239.5h0M366.3,234.8h0M369.3,228.6h0M381.7,236.3h0M387.7,234.9h0M381.5,239.9h0M354.9,193.0h0M418.7,174.4h0M361.3,232.3h0M386.7,234.1h0M402.7,233.8h0M376.2,237.7h0M392.5,213.5h0M397.5,217.8h0M390.7,226.6h0M373.7,238.7h0M387.6,233.7h0M396.8,220.3h0M377.6,233.1h0M365.3,215.8h0M377.8,237.1h0M393.4,237.5h0M399.9,193.6h0M390.2,223.5h0M349.4,195.3h0M381.5,233.7h0M395.3,196.2h0M358.9,223.7h0M351.0,195.3h0M347.8,149.2h0M394.7,207.3h0M367.4,202.2h0M347.1,173.3h0M399.6,215.1h0M359.0,227.7h0M413.3,215.3h0M415.4,205.9h0M374.4,238.1h0M358.9,216.7h0M367.4,235.9h0M366.7,220.9h0M394.4,213.0h0M362.0,221.2h0M409.1,215.3h0M383.8,240.1h0M375.7,224.4h0M391.6,223.5h0M382.7,239.9h0M367.0,201.5h0M388.8,238.5h0M375.1,224.1h0M362.9,212.9h0M368.1,236.5h0M377.1,221.3h0M402.4,176.2h0M386.5,237.5h0M378.5,227.6h0M376.2,238.6h0M372.7,231.0h0M403.8,219.5h0M397.1,227.3h0M366.3,182.7h0M373.1,237.3h0M374.6,210.5h0M397.6,210.3h0M377.7,238.3h0M377.2,238.5h0M360.9,193.6h0M382.3,238.8h0M390.2,231.2h0M404.7,203.0h0M387.9,230.2h0M390.5,218.9h0M361.1,228.6h0M396.1,215.3h0M382.7,239.5h0M383.4,240.1h0M376.9,225.6h0M395.2,227.8h0M406.5,224.5h0M374.1,208.9h0M361.7,202.1h0M378.3,239.5h0M381.6,238.3h0M373.4,229.3h0M387.9,236.8h0M356.8,171.9h0M364.3,212.0h0M417.2,182.9h0M390.3,223.4h0M374.8,235.1h0M351.1,191.4h0M411.4,221.6h0M377.7,238.5h0M366.7,233.1h0M373.2,211.5h0M395.8,220.8h0M404.3,229.0h0M371.0,228.1h0M361.5,178.8h0M382.7,239.1h0M377.1,218.8h0M374.4,216.7h0M351.9,207.7h0M402.2,170.0h0M396.7,232.3h0M379.3,230.9h0M401.3,228.1h0M400.3,233.0h0M394.5,232.5h0M398.7,233.4h0M372.3,234.8h0M356.5,197.0h0M347.0,160.8h0M382.7,240.1h0M394.2,232.6h0M399.2,225.4h0M365.0,194.7h0M362.6,225.9h0M389.7,238.8h0M389.2,221.8h0M367.0,226.2h0M372.7,234.0h0M358.9,221.1h0M402.6,234.3h0M408.9,224.0h0M396.9,232.0h0M407.6,200.3h0M375.7,216.4h0M401.6,204.4h0M352.8,198.9h0M354.5,147.7h0M418.4,167.4h0M364.9,221.0h0M396.0,230.0h0M377.5,227.4h0M350.7,202.5h0M363.3,234.0h0M416.6,161.3h0M371.7,236.8h0M360.2,199.5h0M377.3,219.4h0M382.2,237.6h0M367.4,232.0h0M397.9,215.1h0M388.5,225.3h0M363.7,220.3h0M411.1,205.8h0M382.0,235.3h0M372.9,224.8h0M416.8,198.7h0M407.5,181.4h0M384.5,236.3h0M406.1,196.7h0M354.8,178.1h0M362.4,228.9h0M363.3,228.8h0M385.3,239.9h0M355.2,212.1h0M394.4,225.5h0M403.7,229.1h0M395.0,237.3h0M358.6,222.8h0M369.6,232.6h0M419.8,176.1h0M399.3,235.2h0M402.5,224.6h0M372.1,237.5h0M398.3,234.4h0M370.7,204.5h0M408.0,211.6h0M410.3,218.4h0M390.9,214.7h0M410.9,183.3h0M366.6,210.7h0M354.1,169.4h0M387.6,239.2h0M362.6,232.2h0M398.5,228.7h0M361.3,229.7h0M384.6,238.2h0M366.6,212.7h0M397.6,211.1h0M377.3,224.3h0M399.4,232.1h0M362.6,194.5h0M377.0,238.7h0M352.1,188.4h0M373.3,208.4h0M395.8,195.9h0M409.1,226.3h0M409.6,227.9h0M385.7,239.2h0M364.2,225.5h0M414.0,128.1h0M376.3,229.7h0M391.8,229.0h0M396.1,227.1h0M359.4,224.1h0M390.7,224.7h0M398.0,219.4h0M396.7,218.9h0M389.0,234.3h0M392.1,224.5h0M415.6,189.4h0M379.1,237.5h0M384.7,239.9h0M390.3,217.8h0M376.2,234.5h0M352.8,174.0h0M394.7,225.3h0M367.9,236.9h0M393.8,231.0h0M370.1,235.6h0M369.9,236.5h0M380.4,237.2h0M361.8,213.3h0M378.1,239.5h0M368.5,199.1h0M384.9,238.9h0M382.6,239.8h0M387.2,238.8h0M390.8,213.4h0M357.1,203.2h0M412.0,138.1h0M375.0,211.7h0M376.9,230.0h0M390.4,236.3h0M359.4,176.5h0M350.2,195.7h0M379.6,233.1h0M400.7,225.6h0M355.4,193.0h0M359.9,214.5h0M378.4,237.0h0M409.1,227.3h0M369.5,193.3h0M351.9,195.6h0M390.2,238.6h0M390.1,228.4h0M389.7,226.6h0M397.3,235.0h0M414.2,199.7h0M374.7,238.5h0M365.4,216.2h0M386.6,230.6h0M417.4,189.3h0M399.3,224.0h0M350.4,152.7h0M369.4,219.6h0M370.8,219.0h0M374.7,233.2h0M388.0,236.7h0M375.0,216.0h0M379.2,227.0h0M349.8,151.2h0M413.1,196.3h0M396.7,232.5h0M354.6,195.3h0M398.5,237.3h0M396.4,227.8h0M391.4,212.9h0M406.8,206.8h0M379.1,232.4h0M356.4,174.9h0M362.2,233.5h0M390.6,238.9h0M376.1,237.4h0M351.8,190.1h0M382.3,240.0h0M364.9,235.2h0M352.7,193.1h0M359.3,227.2h0M392.8,238.6h0M364.0,196.0h0M367.4,234.6h0M381.3,239.3h0M403.4,211.9h0M381.1,233.8h0M391.4,210.3h0M360.8,219.2h0M384.6,239.7h0M415.8,194.8h0M355.9,160.4h0M383.9,239.6h0M366.3,199.3h0M397.9,227.0h0M381.8,237.9h0M385.2,234.3h0M371.6,220.9h0M380.7,234.3h0M356.1,204.8h0M389.2,231.2h0M382.9,238.9h0M358.4,221.8h0M399.5,236.0h0M367.2,229.6h0M403.8,193.3h0M367.0,236.5h0M401.7,205.5h0M365.4,217.3h0M387.8,239.0h0M401.0,183.6h0M388.2,239.1h0M407.3,212.8h0M385.8,232.1h0M373.5,236.3h0M388.4,236.8h0M388.2,223.5h0M396.0,229.6h0M387.8,227.3h0M369.8,200.8h0M379.9,228.1h0M355.3,198.3h0M419.7,182.8h0M363.7,235.1h0M405.0,228.1h0M387.4,227.3h0M364.8,190.8h0M377.2,222.1h0M375.3,216.1h0M397.9,202.2h0M358.1,223.0h0M382.8,240.0h0M391.1,217.6h0M414.1,190.2h0M397.3,227.8h0M383.0,240.1h0M399.5,230.8h0M372.1,235.2h0M412.0,135.5h0M384.0,240.0h0M366.0,219.9h0M367.9,237.3h0M376.3,235.4h0M357.4,211.3h0M357.4,164.3h0M379.1,236.4h0M379.1,231.1h0M398.1,227.6h0M375.8,225.3h0M392.8,238.7h0M368.0,214.9h0M396.7,223.8h0M399.1,237.2h0M374.0,220.0h0M380.5,239.5h0M373.5,236.8h0M366.3,188.0h0M371.6,224.9h0M371.9,235.6h0M354.8,209.2h0M363.7,210.9h0M377.8,222.5h0M350.3,186.0h0M412.5,219.4h0M382.8,237.8h0M392.6,236.1h0M365.1,232.1h0M389.2,220.4h0M391.8,209.5h0M363.1,199.8h0M397.5,234.0h0M394.1,238.4h0M404.1,231.9h0M391.5,234.7h0M403.9,167.8h0M369.2,202.0h0M370.6,234.3h0M362.6,213.4h0M365.5,206.6h0M382.7,239.9h0M397.4,220.7h0M373.5,233.4h0M355.6,224.4h0M350.1,204.2h0M374.5,217.7h0M400.1,232.6h0M407.1,225.7h0M374.2,237.5h0M375.4,227.5h0M398.9,200.8h0M362.9,224.1h0M389.7,218.4h0M404.5,183.5h0M378.7,234.7h0M414.5,207.6h0M362.9,235.1h0M369.9,233.6h0M404.1,210.4h0M363.6,230.3h0M404.4,229.5h0M387.0,237.9h0M362.5,231.8h0M370.1,233.7h0M388.7,238.3h0M378.0,225.6h0M404.9,220.1h0M409.6,225.9h0M353.5,167.7h0M394.8,206.9h0M382.1,237.3h0M378.2,230.1h0M399.2,190.7h0M401.5,233.9h0M375.3,231.9h0M361.3,228.6h0M374.8,236.4h0M397.8,234.5h0M366.4,185.1h0M402.3,209.5h0M392.8,223.4h0M368.2,217.0h0M392.7,236.6h0M418.0,193.6h0M373.7,230.3h0M359.1,172.7h0M389.5,236.9h0M413.8,181.8h0M351.6,208.7h0M389.8,236.1h0M365.0,196.7h0M377.1,234.7h0M374.2,225.4h0M367.6,209.0h0M352.8,137.1h0M395.4,232.4h0M405.4,230.9h0M357.9,177.3h0M394.0,220.9h0M375.9,222.5h0M358.9,217.4h0M369.8,236.5h0M397.9,202.0h0M401.1,234.3h0M396.3,229.7h0M383.2,239.4h0M363.3,229.4h0M400.3,229.2h0M363.3,221.4h0M411.3,214.1h0M362.8,215.1h0M405.8,229.9h0M366.6,217.6h0M403.5,215.7h0M401.2,173.9h0M382.9,240.0h0M390.0,227.1h0M372.2,204.9h0M383.8,240.1h0M357.4,179.0h0M394.8,225.9h0M366.6,197.2h0M398.5,232.5h0M365.2,226.7h0M378.3,222.8h0M368.7,236.4h0M363.0,205.4h0M365.9,211.6h0M384.0,240.2h0M415.7,204.2h0M409.3,208.1h0M371.9,210.8h0M383.3,240.2h0M353.9,183.0h0M351.9,154.7h0M404.4,194.0h0M388.3,231.9h0M398.9,231.7h0M404.8,195.4h0M389.7,217.2h0M372.5,221.3h0M400.3,235.3h0M358.0,206.3h0M395.5,222.0h0M385.2,234.2h0M377.7,235.6h0M356.3,176.9h0M355.4,217.0h0M403.7,229.9h0M392.6,222.4h0M377.7,236.7h0M381.8,235.5h0M375.5,216.7h0M404.1,167.1h0M352.0,188.4h0M399.2,229.5h0M364.0,225.5h0M370.4,197.0h0M381.4,239.6h0M352.7,206.9h0M361.0,219.0h0M388.9,232.0h0M408.0,216.5h0M393.2,226.6h0M371.7,228.3h0M398.9,227.4h0M375.0,216.1h0M392.7,220.8h0M386.5,231.2h0M400.4,224.0h0M366.1,205.4h0M358.0,208.0h0M383.3,239.8h0M365.2,233.8h0M391.5,238.6h0M355.7,158.3h0M356.9,206.3h0M350.5,200.4h0M373.2,229.2h0M376.0,222.2h0M364.3,235.3h0M366.1,235.1h0M376.9,222.4h0M386.7,229.9h0M398.4,232.7h0M373.8,236.1h0M400.6,228.2h0M396.5,237.6h0M376.6,217.2h0M376.3,219.6h0M375.9,236.7h0M399.6,235.3h0M353.1,195.8h0M358.6,162.2h0M412.5,202.7h0M380.8,232.9h0M379.1,233.8h0M364.9,222.7h0M382.2,238.2h0M357.4,222.5h0M374.1,216.3h0M403.7,230.8h0M389.5,238.9h0M371.9,235.8h0M398.0,236.5h0M355.2,220.2h0M373.9,211.4h0M366.0,218.0h0M377.6,222.0h0M387.3,228.3h0M398.2,237.0h0M387.0,236.5h0M397.6,218.9h0M365.0,215.1h0M392.3,225.4h0M402.6,200.4h0M380.3,237.3h0M383.2,239.7h0M394.5,229.9h0M411.7,204.0h0M381.7,237.3h0M365.2,227.4h0M411.2,171.6h0M371.5,227.4h0M352.7,196.7h0M417.2,177.2h0M372.0,225.2h0M387.2,232.0h0M410.5,224.5h0M376.9,236.4h0M407.3,198.3h0M382.8,240.1h0M375.3,225.5h0M401.3,184.2h0M357.4,192.3h0M414.4,206.0h0M359.3,174.6h0M362.4,233.8h0M382.9,238.3h0M410.2,163.1h0M355.3,215.5h0M391.9,210.5h0M370.0,226.3h0M368.4,189.7h0M386.4,237.1h0M400.1,235.2h0M380.3,233.8h0M369.8,208.0h0M396.3,225.7h0M380.9,236.5h0M399.0,217.2h0M389.7,238.9h0M397.3,202.0h0M381.0,237.8h0M349.7,199.9h0M368.1,202.2h0M371.2,215.0h0M356.4,199.3h0M381.8,234.8h0M379.8,227.8h0M402.5,184.5h0M357.8,227.4h0M392.0,234.4h0M381.5,237.4h0M389.0,232.6h0M349.4,135.7h0M397.6,231.3h0M379.8,234.3h0M372.6,212.6h0M395.3,219.0h0M387.7,234.7h0M398.7,236.5h0M387.7,224.8h0M392.0,233.7h0M379.5,229.5h0M401.7,213.8h0M396.8,205.1h0M415.8,190.3h0M368.4,200.6h0M418.6,142.2h0M388.5,222.9h0M362.5,199.9h0M395.6,210.4h0M417.6,126.4h0M396.0,202.6h0M393.5,212.2h0M388.3,237.5h0M374.7,237.4h0M350.7,162.3h0M392.8,226.8h0M364.5,194.4h0M369.5,236.3h0M403.2,188.1h0M416.0,207.7h0M363.8,204.2h0M360.2,229.8h0M415.5,211.0h0M414.3,135.3h0M371.4,202.9h0M372.0,223.8h0M361.0,231.8h0M391.8,233.1h0M399.6,234.4h0M395.4,235.5h0M418.8,148.3h0M356.2,222.8h0M412.1,202.1h0M384.2,239.6h0M397.5,195.1h0M380.6,236.6h0M394.5,231.7h0M403.9,217.1h0M398.0,223.9h0M406.8,230.2h0M406.7,209.8h0M384.4,239.1h0M368.1,237.0h0M390.9,239.0h0M384.3,239.6h0M372.5,236.5h0M369.1,228.9h0M362.8,196.7h0M385.3,233.5h0M365.9,215.4h0M365.5,231.0h0M395.6,235.1h0M352.2,205.1h0M387.4,237.1h0M366.3,185.3h0M397.0,189.4h0M392.3,212.1h0M393.1,215.9h0M393.6,224.4h0M378.6,233.8h0M381.6,236.8h0M363.3,222.2h0M405.3,230.0h0M410.0,227.5h0M388.8,238.3h0M394.5,212.6h0M417.4,198.0h0M372.4,237.5h0M373.5,209.4h0M360.9,218.5h0M413.8,179.3h0M394.6,236.1h0M389.6,231.4h0M358.9,163.1h0M352.6,208.1h0M385.8,232.4h0M388.6,236.4h0M393.8,203.1h0M404.3,215.3h0M372.3,235.2h0M385.2,236.6h0M391.8,214.9h0M404.1,212.5h0M371.4,218.2h0M410.8,178.3h0M411.2,191.5h0M354.5,199.8h0M408.4,170.5h0M384.7,240.0h0M407.9,221.6h0M403.2,232.2h0M356.8,205.0h0M356.3,149.0h0M353.0,165.0h0M365.4,236.3h0M394.0,201.5h0M400.4,219.5h0M392.6,238.4h0M366.6,235.4h0M392.0,210.8h0M391.7,213.6h0M378.9,230.3h0M364.1,234.2h0M405.5,190.9h0M398.5,195.9h0M391.0,238.0h0M390.5,223.5h0M386.5,233.1h0M389.5,232.0h0M375.0,220.0h0M366.0,215.7h0M406.8,157.2h0M412.8,207.2h0M369.9,231.3h0M376.2,237.5h0M378.6,226.3h0M384.1,240.0h0M378.8,237.5h0M389.9,232.3h0M407.2,228.6h0M382.2,239.7h0M381.4,235.3h0M390.2,227.4h0M356.4,207.7h0M357.0,228.0h0M384.5,239.1h0M362.0,209.6h0M393.3,220.2h0M383.8,239.7h0M359.4,209.7h0M372.5,232.1h0M367.7,228.7h0M362.5,220.8h0M358.6,181.3h0M384.6,240.0h0M363.1,229.7h0M404.8,212.4h0M381.8,239.0h0M392.9,234.7h0M399.1,237.3h0M390.8,239.0h0M366.2,196.9h0M384.0,238.5h0M387.8,239.4h0M370.0,210.2h0M414.1,200.6h0M380.6,233.0h0M405.5,223.0h0M391.2,221.1h0M388.2,224.2h0M401.0,226.5h0M399.7,192.5h0M403.3,234.8h0M388.3,229.3h0M417.4,158.3h0M363.8,225.8h0M375.0,212.8h0M368.4,194.4h0M375.2,221.0h0M399.3,226.5h0M390.1,231.8h0M364.7,180.1h0M369.4,225.4h0M394.3,233.7h0M376.8,237.8h0M378.6,237.8h0M413.4,171.6h0M383.1,240.1h0M374.0,218.6h0M375.6,224.7h0M379.5,237.5h0M396.9,195.4h0M369.4,219.7h0M394.0,220.7h0M363.9,223.1h0M389.9,234.5h0M366.4,200.2h0M395.1,226.6h0M407.5,226.3h0M410.3,191.8h0M404.2,175.1h0M366.4,214.9h0M355.2,198.8h0M397.0,236.5h0M362.4,231.0h0M349.5,202.1h0M372.5,236.0h0M358.9,218.0h0M397.3,213.3h0M367.8,223.5h0M358.6,206.1h0M351.0,196.3h0M400.7,230.2h0M391.0,236.9h0M377.1,236.2h0M385.7,239.8h0M356.0,157.4h0M393.1,232.5h0M359.5,184.7h0M363.8,233.8h0M360.5,191.2h0M406.1,224.2h0M399.4,236.2h0M411.1,183.6h0M393.5,229.5h0M365.8,234.6h0M373.0,225.3h0M393.1,204.2h0M374.3,230.4h0M381.0,239.0h0M398.0,235.6h0M360.0,219.7h0M388.6,222.7h0M418.2,181.5h0M357.1,175.1h0M377.2,231.3h0M351.7,193.7h0M372.5,222.2h0M367.6,190.6h0M390.3,223.0h0M371.7,220.8h0M374.0,209.8h0M391.2,219.4h0M360.3,209.7h0M362.7,233.1h0M413.3,200.5h0M372.0,223.0h0M372.2,224.7h0M397.6,226.4h0M370.7,223.5h0M352.7,169.1h0M362.5,211.0h0M371.6,234.1h0M395.4,211.7h0M370.2,237.8h0M388.1,238.1h0M364.2,198.0h0M398.5,218.6h0M417.3,195.9h0M394.0,202.3h0M364.5,235.5h0M400.5,203.0h0M380.7,239.7h0M380.9,233.4h0M403.9,200.7h0M412.0,182.6h0M364.6,221.6h0M371.9,205.5h0M390.3,230.2h0M362.4,225.3h0M359.1,229.1h0M358.2,216.3h0M354.7,213.6h0M393.0,235.1h0M393.6,232.7h0M351.1,169.6h0M388.9,220.6h0M373.2,235.6h0M402.1,219.8h0M387.2,232.5h0M373.6,224.9h0M367.7,234.8h0M406.4,217.8h0M382.9,238.4h0M385.3,239.5h0M395.5,232.0h0M414.0,213.8h0M359.8,203.5h0M366.1,234.3h0M369.5,235.5h0M375.2,237.7h0M372.8,235.5h0M353.8,219.9h0M359.8,160.7h0M370.7,216.8h0M391.5,232.2h0M376.8,233.9h0M356.7,212.4h0M366.8,230.3h0M394.9,227.6h0M398.6,235.1h0M408.1,223.1h0M375.7,232.6h0M376.9,219.1h0M402.9,234.5h0M369.4,225.2h0M378.3,226.7h0M396.3,222.2h0M402.8,234.4h0M368.6,221.7h0M362.8,206.5h0M390.9,234.0h0M351.9,180.8h0M407.9,201.4h0M398.5,197.6h0M408.3,215.8h0M385.2,239.1h0M367.0,219.0h0M399.2,215.4h0M370.1,225.2h0M383.5,240.2h0M388.8,222.5h0M360.6,232.2h0M384.5,240.0h0M364.1,225.0h0M383.4,239.9h0M371.8,201.2h0M419.3,156.5h0M363.9,227.6h0M385.8,234.8h0M387.9,224.3h0M356.6,200.2h0M380.0,239.3h0M357.6,225.1h0M414.8,205.5h0M381.3,238.9h0M394.1,238.5h0M381.8,237.2h0M413.5,207.7h0M383.7,239.9h0M405.2,193.9h0M352.2,170.0h0M393.5,237.3h0M390.6,237.0h0M375.1,231.5h0M395.8,224.8h0M389.4,235.7h0M362.5,224.2h0M365.6,213.3h0M361.0,223.0h0M389.2,223.7h0M366.2,209.3h0M376.2,238.6h0M362.3,171.7h0M395.7,229.4h0M378.6,224.4h0M402.0,231.5h0M388.5,221.9h0M385.7,235.1h0M402.5,231.8h0M408.3,230.5h0M388.2,233.3h0M378.1,232.5h0M401.6,212.3h0M407.0,215.3h0M400.7,233.2h0M390.8,230.3h0M349.6,190.6h0M358.0,221.4h0M405.4,227.2h0M381.3,234.7h0M395.6,198.2h0M389.4,233.7h0M365.2,208.8h0M412.1,138.9h0M372.6,207.4h0M363.4,186.6h0M377.6,228.5h0M390.6,220.5h0M404.6,219.0h0M369.1,233.0h0M414.4,154.8h0M419.0,167.2h0M396.1,235.9h0M408.1,225.0h0M405.7,232.2h0M384.9,238.2h0M374.5,220.9h0M374.9,214.9h0M409.0,193.1h0M368.7,208.2h0M370.4,226.2h0M418.3,151.2h0M367.3,211.9h0M413.5,155.4h0M400.2,214.6h0M358.3,226.7h0M365.0,219.7h0M408.1,214.7h0M392.7,230.8h0M387.5,226.4h0M393.8,236.8h0M408.6,200.6h0M371.0,201.7h0M375.7,218.9h0M354.8,172.0h0M371.6,235.4h0M379.4,228.3h0M415.4,204.8h0M367.3,187.5h0M363.5,234.9h0M396.8,219.0h0M375.7,234.5h0M389.0,225.1h0M380.8,236.7h0M373.3,207.9h0M379.3,226.0h0M385.2,236.4h0M398.8,212.2h0M389.3,233.9h0M400.1,220.0h0M373.5,225.9h0M364.9,213.8h0M408.1,226.7h0M385.2,237.0h0M346.1,115.3h0M370.9,214.8h0M349.2,184.6h0M392.2,231.6h0M389.4,218.7h0M386.7,235.3h0M378.9,225.6h0M376.3,233.5h0M408.6,228.8h0M409.2,151.5h0M350.5,172.6h0M394.4,199.1h0M371.7,238.0h0M356.0,223.9h0M370.5,236.2h0M390.9,213.7h0M362.8,220.6h0M393.8,234.2h0M361.6,223.9h0M368.0,201.2h0M415.7,208.5h0M410.2,218.5h0M363.1,220.3h0M396.3,224.5h0M409.7,222.8h0M394.6,237.4h0M371.5,200.8h0M372.4,209.5h0M396.9,233.2h0M400.3,226.2h0M403.1,206.3h0M412.3,215.6h0M401.2,226.1h0M381.9,235.6h0M410.9,208.7h0M374.7,238.9h0M381.5,239.9h0M408.6,158.8h0M392.4,235.0h0M347.1,169.2h0M369.5,237.2h0M389.3,227.0h0M397.1,203.8h0M383.6,239.9h0M353.7,206.8h0M354.6,195.0h0M410.9,151.2h0M382.2,239.2h0M348.5,170.7h0M385.8,232.8h0M369.0,235.0h0M363.7,232.7h0M366.4,225.6h0M371.3,214.4h0M397.4,201.6h0M371.6,231.2h0M401.1,220.7h0M411.8,222.2h0M397.2,216.1h0M365.4,222.0h0M400.2,211.3h0M362.0,178.8h0M361.4,231.9h0M372.0,227.6h0M361.0,226.7h0M402.5,234.9h0M388.5,230.6h0M393.2,235.7h0M374.2,235.1h0M418.0,187.6h0M374.4,220.7h0M378.7,238.6h0M377.3,228.3h0M392.4,213.8h0M413.7,217.1h0M349.8,154.1h0M351.1,140.0h0M399.8,215.6h0M375.2,237.5h0M367.2,233.7h0M380.0,235.1h0M356.6,212.7h0M379.2,233.0h0M370.6,235.3h0M375.9,234.8h0M393.4,237.5h0M362.3,173.6h0M406.4,205.8h0M354.0,198.0h0M396.3,213.3h0M384.6,237.0h0M404.7,222.1h0M389.7,217.9h0M378.2,225.8h0M390.1,222.9h0M398.4,209.7h0M407.9,200.6h0M362.9,225.5h0M386.6,236.4h0M362.1,220.0h0M359.3,215.6h0M387.1,234.1h0M391.6,225.5h0M378.0,236.7h0M376.5,230.5h0M400.7,190.0h0M360.2,201.3h0M376.4,236.4h0M413.4,194.9h0M399.1,192.1h0M373.0,212.9h0M365.1,235.1h0M363.9,235.8h0M367.5,236.4h0M399.9,236.3h0M381.3,234.1h0M360.5,218.8h0M370.5,231.9h0M386.5,232.9h0M382.5,240.1h0M388.2,228.0h0M382.5,237.7h0M365.3,225.5h0M369.4,209.7h0M351.4,208.5h0M399.0,219.4h0M374.5,236.4h0M390.1,236.0h0M352.8,210.1h0M401.6,209.2h0M395.4,202.5h0M354.0,151.2h0M367.6,235.2h0M395.9,231.6h0M372.7,219.6h0M377.1,235.7h0M350.6,169.3h0M409.0,222.6h0M362.5,224.4h0M376.1,238.9h0M391.8,231.2h0M397.0,224.8h0M366.7,230.1h0M393.3,238.1h0M400.7,189.6h0M398.5,231.5h0M356.0,184.6h0M402.7,178.3h0M356.3,207.5h0M402.0,222.4h0M398.9,236.1h0M359.7,223.1h0M370.2,201.9h0M412.1,204.5h0M357.5,158.9h0M386.7,239.0h0M355.1,200.2h0M357.3,168.5h0M381.1,238.3h0M376.3,230.0h0M397.6,220.5h0M381.1,236.2h0M348.7,146.5h0M357.7,164.0h0M415.4,167.7h0M400.8,217.9h0M366.6,236.6h0M368.9,228.6h0M411.2,153.6h0M356.9,213.9h0M366.7,230.7h0M389.9,217.7h0M399.6,187.2h0M375.1,216.3h0M358.5,227.1h0M365.2,228.3h0M358.2,163.8h0M369.4,199.9h0M367.4,215.4h0M386.8,236.6h0M403.3,227.3h0M359.5,225.7h0M401.6,204.1h0M418.6,167.9h0M394.9,221.2h0M390.9,226.9h0M398.6,218.4h0M395.6,213.8h0M370.3,224.0h0M368.4,223.5h0M368.3,225.6h0M355.4,166.1h0M400.3,223.8h0M400.8,182.8h0M376.1,219.8h0M367.0,214.7h0M408.4,169.8h0M377.2,226.5h0M359.3,210.2h0M354.7,146.4h0M399.7,232.9h0M365.0,224.5h0M385.9,238.5h0M352.3,181.4h0M354.0,171.8h0M350.4,131.8h0M409.1,150.5h0M353.8,209.4h0M388.2,239.3h0M371.9,225.2h0M412.0,209.1h0M383.2,239.4h0M372.6,218.7h0M375.6,225.5h0M407.1,191.2h0M403.1,215.5h0M386.4,237.4h0M379.7,237.0h0M359.5,201.0h0M393.6,230.8h0M369.3,205.5h0M415.5,172.2h0M350.7,131.0h0M377.3,235.7h0M351.6,157.5h0M401.6,207.0h0M406.0,205.7h0M409.1,155.5h0M399.7,183.8h0M379.5,231.6h0M376.4,227.4h0M370.2,237.8h0M350.7,204.3h0M362.9,178.1h0M404.2,163.0h0M395.6,211.2h0M395.0,197.4h0M387.0,237.1h0M348.4,187.6h0M350.3,183.8h0M385.4,232.9h0M373.7,223.7h0M398.6,232.5h0M349.3,143.1h0M375.2,238.7h0M398.1,232.4h0M367.8,205.7h0M380.6,233.8h0M417.2,120.1h0M348.5,198.7h0M361.0,216.7h0M413.0,153.3h0M353.0,194.3h0M352.9,214.6h0M386.4,238.5h0M397.3,223.0h0M397.2,204.4h0M364.3,209.6h0M392.0,238.6h0M372.1,228.3h0M397.5,201.2h0M365.6,189.8h0M392.6,216.8h0M370.2,219.0h0M392.4,227.3h0M374.0,237.5h0M394.3,207.5h0M408.6,230.0h0M349.1,164.0h0M416.5,197.2h0M383.0,240.1h0M407.8,218.5h0M361.9,185.0h0M377.6,227.9h0M412.8,201.4h0M399.6,213.3h0M362.2,214.2h0M372.4,236.3h0M360.9,210.9h0M410.5,196.5h0M411.0,158.3h0M389.8,230.9h0M362.8,201.6h0M360.3,189.5h0M415.6,122.5h0M361.5,201.0h0M370.3,233.3h0M404.5,188.7h0M356.9,218.5h0M352.4,148.5h0M404.5,217.5h0M348.2,170.4h0M359.8,213.3h0M368.9,213.4h0M374.3,234.8h0M350.3,155.2h0M409.2,159.7h0M386.8,238.5h0M368.9,205.6h0M357.0,184.4h0M407.7,171.9h0M372.6,208.0h0M397.4,219.6h0M376.8,234.9h0M388.0,236.1h0M408.7,164.7h0M402.1,172.6h0M354.9,174.9h0M398.1,217.4h0M402.1,181.9h0M416.2,187.2h0M410.3,210.2h0M374.1,222.1h0M364.4,212.7h0M413.2,188.4h0M360.3,227.0h0M365.2,232.0h0M403.5,224.8h0M360.2,186.1h0M378.6,226.5h0M396.5,227.2h0M392.1,234.1h0M351.0,142.3h0M394.1,206.0h0M367.1,229.0h0M381.7,235.8h0M362.9,234.8h0M360.3,174.2h0M402.9,206.7h0M375.1,212.4h0M370.7,198.6h0M376.2,232.3h0M365.2,227.4h0M371.4,237.0h0M373.1,212.0h0M355.4,154.2h0M392.7,224.4h0M400.3,229.7h0M356.6,222.0h0M364.1,209.1h0M411.2,220.4h0M407.4,226.2h0M416.0,207.6h0M407.1,165.9h0M388.0,224.9h0M377.9,237.4h0M411.4,219.0h0M359.8,187.7h0M399.0,193.2h0M365.9,184.5h0M362.4,200.5h0M366.7,218.2h0M368.2,199.5h0M418.7,132.7h0M393.1,222.7h0M375.5,230.5h0M392.9,234.1h0M415.4,145.1h0M396.9,215.2h0M373.9,208.6h0M366.0,225.6h0M369.6,213.3h0M371.0,224.0h0M357.4,164.1h0M418.8,191.7h0M361.2,221.2h0M351.2,208.2h0M357.2,225.4h0M400.6,191.8h0M361.6,222.5h0M378.3,233.6h0M366.0,202.9h0M409.2,144.2h0M395.8,202.7h0M348.4,140.7h0M354.5,170.7h0M357.2,208.7h0M373.1,231.0h0M392.6,207.9h0M380.3,235.1h0M351.6,206.2h0M415.2,124.1h0M404.7,183.0h0M411.1,212.8h0M377.6,238.3h0M392.6,216.0h0M353.7,201.4h0M391.8,228.1h0M399.4,206.0h0M400.7,186.9h0M381.2,239.2h0M374.8,219.2h0M409.8,145.7h0M384.0,240.2h0M373.6,208.8h0M358.0,179.5h0M395.3,237.1h0M407.9,195.3h0M374.7,214.9h0M378.1,230.3h0M395.0,208.5h0M373.2,207.2h0M399.7,200.6h0M367.8,202.4h0M418.3,190.8h0M391.4,219.1h0M346.6,117.3h0M407.5,204.4h0M351.8,212.2h0M369.9,228.1h0M392.3,237.7h0M360.5,194.5h0M388.0,224.4h0M396.7,211.7h0M384.1,239.8h0M396.7,230.5h0M359.9,219.1h0M370.3,221.4h0M353.7,208.5h0M405.7,197.9h0M406.8,211.4h0M379.1,229.9h0M402.9,227.6h0M403.8,227.8h0M365.0,179.5h0M358.3,216.4h0M390.8,228.4h0M386.8,238.7h0M397.5,218.6h0M419.3,162.4h0M364.1,201.5h0M355.5,198.0h0M353.8,166.8h0M395.3,222.9h0M407.5,190.3h0M401.3,217.7h0M407.6,217.7h0M367.7,192.1h0M418.0,136.2h0M419.4,155.2h0M417.2,152.0h0M355.2,207.5h0M360.1,190.4h0M366.7,187.7h0M395.5,201.3h0M394.7,236.4h0M400.1,221.6h0M397.3,236.0h0M376.5,234.1h0M406.5,213.2h0M389.6,239.0h0M376.0,235.1h0M398.3,185.3h0M411.4,207.0h0M362.6,213.1h0M412.0,217.3h0M350.3,191.2h0M362.5,234.4h0M353.1,151.8h0M409.4,215.3h0M371.7,201.2h0M348.4,222.2h0M421.4,219.8h0M346.6,185.8h0M343.2,210.2h0M437.3,150.4h0M333.9,191.4h0M422.6,204.1h0M421.0,208.8h0M419.1,209.2h0M351.5,222.0h0M336.2,185.9h0M427.5,169.1h0M416.5,209.2h0M427.2,188.7h0M311.0,203.6h0M362.7,235.8h0M433.8,186.2h0M420.3,201.9h0M420.6,213.2h0M346.3,157.8h0M336.2,156.7h0M344.3,202.8h0M439.6,173.7h0M359.1,235.5h0M421.3,152.7h0M414.7,219.1h0M450.5,169.0h0M435.5,147.9h0M421.6,162.9h0M411.2,228.4h0M410.7,234.4h0M347.7,213.8h0M357.1,237.4h0M472.8,216.0h0M419.7,235.8h0M365.7,237.0h0M339.8,161.7h0M341.3,166.4h0M322.9,146.0h0M413.1,235.0h0M420.9,170.2h0M442.9,187.5h0M428.6,175.1h0M343.5,189.7h0M318.4,179.2h0M347.0,200.3h0M431.6,215.0h0M346.1,147.0h0M418.1,204.9h0M322.0,222.3h0M330.4,221.0h0M424.5,203.0h0M341.3,151.9h0M341.6,155.0h0M422.1,173.3h0M330.7,191.0h0M422.8,148.3h0M327.3,188.1h0M424.9,228.2h0M432.8,229.4h0M343.5,150.6h0M409.1,233.8h0M339.0,175.7h0M446.7,145.1h0M339.7,167.8h0M416.5,215.6h0M334.3,176.4h0M420.9,144.9h0M343.8,207.3h0M345.1,177.1h0M350.9,221.8h0M346.1,195.5h0M344.5,165.7h0M332.4,144.7h0M342.3,150.9h0M339.0,202.6h0M421.2,224.3h0M361.1,236.6h0M332.3,194.0h0M340.0,206.2h0M420.4,162.3h0M343.7,161.0h0M342.3,160.1h0M347.2,186.5h0M432.6,172.5h0M418.1,219.7h0M339.2,188.2h0M417.5,226.3h0M347.9,217.3h0M342.7,148.4h0M416.7,209.8h0M355.0,230.4h0M419.1,203.5h0M346.5,194.8h0M338.9,154.4h0M420.7,210.9h0M343.3,154.0h0M429.1,156.2h0M341.4,186.6h0M339.0,189.0h0M436.8,184.5h0M345.5,169.8h0M306.6,168.4h0M342.0,156.7h0M337.9,190.1h0M341.2,170.1h0M338.7,148.5h0M340.4,209.9h0M335.3,162.1h0M423.0,199.9h0M351.1,218.6h0M421.1,217.2h0M415.4,220.6h0M433.7,206.2h0M351.5,213.0h0M352.8,218.4h0M470.2,208.9h0M433.1,152.3h0M430.7,182.9h0M350.9,220.8h0M346.9,207.8h0M340.5,164.9h0M355.8,228.6h0M341.9,203.9h0M349.5,229.8h0M345.5,198.6h0M350.5,214.6h0M421.7,181.8h0M418.9,219.4h0M329.8,148.4h0M330.8,225.3h0M415.6,221.0h0M420.3,170.6h0M433.5,168.4h0M346.7,167.8h0M357.9,234.7h0M346.6,168.5h0M444.7,179.1h0M344.7,155.7h0M341.6,181.6h0M412.5,228.7h0M412.4,223.9h0M346.6,210.2h0M432.4,206.1h0M345.7,179.4h0M301.9,155.1h0M335.0,159.9h0M339.0,186.1h0M411.2,226.1h0M464.0,235.6h0M343.4,184.4h0M419.1,207.5h0M425.6,225.6h0M431.0,185.2h0M324.2,146.7h0M450.7,172.2h0M336.2,158.4h0M340.6,175.0h0M408.2,235.9h0M435.5,146.1h0M422.1,184.1h0M416.9,224.1h0M346.4,224.0h0M349.4,221.8h0M409.6,230.6h0M348.0,195.5h0M463.8,174.9h0M411.6,231.2h0M313.8,150.8h0M353.7,228.6h0M353.8,232.2h0M347.3,190.2h0M337.0,174.3h0M343.1,167.0h0M412.4,230.5h0M344.9,184.8h0M336.3,146.4h0M352.2,215.9h0M345.7,172.5h0M342.7,197.0h0M338.9,159.1h0M346.8,198.1h0M343.4,190.3h0M353.3,235.5h0M343.7,144.7h0M356.1,235.7h0M431.6,182.9h0M347.0,214.2h0M345.0,221.1h0M423.1,187.0h0M340.7,217.7h0M312.0,154.3h0M421.7,173.5h0M347.8,193.8h0M348.5,224.5h0M425.5,152.4h0M345.7,226.5h0M337.8,165.7h0M346.0,220.0h0M422.6,191.7h0M340.3,182.8h0M357.9,234.0h0M340.8,212.1h0M343.2,201.9h0M426.2,216.6h0M345.6,176.5h0M424.4,200.4h0M346.2,166.3h0M415.2,220.0h0M429.7,160.4h0M309.3,168.6h0M362.0,235.1h0M338.8,231.0h0M343.2,207.5h0M337.8,167.2h0M426.5,158.3h0M354.1,237.2h0M420.0,151.3h0M342.5,216.6h0M427.2,185.2h0M426.6,191.3h0M416.2,210.5h0M341.2,156.0h0M348.9,205.7h0M422.0,169.2h0M432.2,213.4h0M350.7,226.5h0M340.4,200.6h0M321.4,169.6h0M360.4,237.3h0M423.9,187.5h0M327.3,162.4h0M427.0,173.3h0M427.3,169.8h0M422.4,178.4h0M417.0,215.3h0M421.5,187.8h0M425.5,167.3h0M356.9,235.6h0M342.9,165.3h0M366.0,237.6h0M345.1,206.7h0M429.7,180.5h0M348.7,209.8h0M424.6,175.4h0M342.9,169.0h0M346.8,194.1h0M346.2,195.4h0M429.1,166.7h0M420.2,171.1h0M347.1,192.1h0M342.2,164.2h0M412.4,226.3h0M337.7,201.2h0M345.9,181.9h0M341.2,157.7h0M353.2,235.7h0M347.8,195.8h0M425.0,146.6h0M447.2,190.6h0M419.0,200.7h0M344.4,159.2h0M352.0,224.8h0M327.5,216.1h0M345.4,160.7h0M335.0,164.5h0M430.4,190.8h0M339.4,223.7h0M346.1,167.9h0M420.7,171.0h0M344.8,155.0h0M344.9,203.0h0M338.8,210.4h0M357.0,235.6h0M347.9,194.3h0M345.8,205.7h0M444.1,154.0h0M346.9,220.7h0M329.6,146.3h0M425.1,198.8h0M349.8,214.6h0M317.4,153.8h0M352.5,229.3h0M337.0,181.6h0M439.0,226.2h0M348.9,208.8h0M320.1,151.1h0M310.8,148.3h0M345.7,218.5h0M343.2,193.5h0M343.7,167.6h0M418.4,205.6h0M328.7,157.1h0M342.6,160.6h0M414.9,215.7h0M342.6,196.0h0M330.6,176.6h0M416.4,212.0h0M420.4,195.7h0M345.4,206.6h0M342.7,148.1h0M341.7,200.1h0M334.6,172.9h0M349.1,227.2h0M419.7,205.3h0M343.8,234.3h0M422.1,178.2h0M421.1,210.1h0M334.0,158.2h0M426.4,169.2h0M429.8,183.1h0M434.0,191.8h0M418.5,204.2h0M348.4,202.9h0M343.0,190.6h0M422.2,227.4h0M410.0,231.2h0M342.6,202.7h0M352.9,219.2h0M351.7,222.8h0M345.4,202.5h0M339.7,225.6h0M411.3,232.1h0M334.9,206.5h0M414.7,217.6h0M422.0,185.5h0M346.4,163.7h0M332.8,147.0h0M323.9,203.5h0M336.1,178.7h0M419.1,213.9h0M350.9,225.7h0M342.3,183.4h0M355.7,235.2h0M342.6,158.8h0M342.5,186.0h0M338.1,186.7h0M315.3,147.4h0M337.9,196.1h0M419.0,224.9h0M344.3,204.9h0M344.6,171.0h0M341.6,169.5h0M409.1,232.6h0M418.1,231.4h0M333.3,237.2h0M327.6,203.5h0M418.4,201.8h0M421.3,167.1h0M359.9,235.6h0M327.1,214.1h0M329.8,175.0h0M344.9,224.2h0M338.1,152.5h0M335.9,161.5h0M446.1,202.6h0M344.4,154.2h0M439.3,194.5h0M421.8,156.8h0M333.2,163.6h0M421.4,224.6h0M345.2,146.5h0M410.9,226.2h0M415.3,218.0h0M345.7,220.7h0M349.8,210.7h0M342.8,199.6h0M418.8,216.3h0M351.2,210.7h0M339.0,172.8h0M418.6,212.3h0M346.5,218.0h0M421.3,177.6h0M418.6,217.7h0M330.6,171.8h0M353.6,228.4h0M439.0,188.2h0M346.5,157.7h0M432.7,159.0h0M336.3,162.6h0M434.3,155.3h0M462.5,162.2h0M442.5,188.2h0M311.8,202.2h0M344.0,184.0h0M316.9,168.2h0M314.8,160.9h0M433.2,209.4h0M296.7,225.1h0M336.1,199.7h0M318.4,189.7h0M282.6,235.4h0M302.1,166.6h0M332.8,209.5h0M342.2,191.8h0M483.8,188.6h0M429.4,228.7h0M319.6,230.5h0M313.8,166.9h0M338.6,218.4h0M302.1,183.7h0M284.9,193.7h0M303.5,212.8h0M290.9,229.8h0M444.5,201.0h0M300.4,190.0h0M422.7,235.3h0M339.5,193.3h0M451.7,161.8h0M305.1,153.0h0M303.8,184.7h0M307.7,162.4h0M330.4,173.5h0M330.4,202.4h0M435.3,210.8h0M300.4,225.2h0M294.9,155.2h0M322.6,228.1h0M339.7,159.7h0M318.1,205.0h0M306.0,208.9h0M440.7,172.7h0M437.4,195.1h0M313.3,216.1h0M290.6,223.2h0M303.0,155.4h0M323.6,221.2h0M282.9,181.5h0M305.8,214.7h0M456.5,222.2h0M467.6,148.7h0M480.5,221.7h0M319.7,188.4h0M303.4,162.0h0M336.9,235.1h0M331.2,192.8h0M286.3,171.7h0M316.2,167.5h0M289.7,212.8h0M314.5,153.3h0M475.4,216.9h0M430.6,228.9h0M313.0,218.7h0M299.1,154.3h0M283.7,157.8h0M436.1,207.8h0M469.4,158.7h0M447.0,208.7h0M283.6,186.0h0M310.0,184.1h0" stroke="#ababab" stroke-width="2.5" stroke-linecap="round" fill="none"/>
<line x1="314.50" y1="88.90" x2="319.30" y2="91.90" stroke="#111" stroke-width="1.1" />
<line x1="331.80" y1="133.60" x2="341.30" y2="134.20" stroke="#111" stroke-width="1.1" />
<line x1="459.20" y1="97.20" x2="454.60" y2="101.10" stroke="#111" stroke-width="1.1" />
<line x1="440.30" y1="103.10" x2="432.00" y2="110.80" stroke="#111" stroke-width="1.1" />
<line x1="467.00" y1="108.50" x2="462.80" y2="111.80" stroke="#111" stroke-width="1.1" />
<line x1="446.20" y1="115.40" x2="443.80" y2="120.30" stroke="#111" stroke-width="1.1" />
<line x1="482.50" y1="116.50" x2="477.40" y2="121.20" stroke="#111" stroke-width="1.1" />
<line x1="416.20" y1="117.60" x2="429.20" y2="117.80" stroke="#111" stroke-width="1.1" />
<line x1="458.20" y1="121.80" x2="446.20" y2="125.20" stroke="#111" stroke-width="1.1" />
<line x1="420.80" y1="129.20" x2="429.20" y2="127.30" stroke="#111" stroke-width="1.1" />
<line x1="431.50" y1="135.80" x2="440.30" y2="130.00" stroke="#111" stroke-width="1.1" />
<line x1="429.20" y1="145.80" x2="434.60" y2="146.50" stroke="#111" stroke-width="1.1" />
<line x1="310.70" y1="124.20" x2="323.20" y2="128.50" stroke="#a8123e" stroke-width="1.2" />
<path d="M311.1,61.9h0M301.5,68.5h0M322.6,72.3h0M324.2,81.5h0M319.3,91.9h0M328.4,95.4h0M322.6,103.0h0M337.6,102.5h0M334.2,109.8h0M334.3,115.6h0M331.5,117.5h0M329.0,131.0h0M329.4,132.5h0M317.4,129.0h0M314.0,136.2h0M298.2,143.8h0M312.2,152.5h0M500.6,28.3h0M495.2,36.3h0M451.5,90.8h0M440.5,91.1h0M454.6,101.1h0M432.0,110.8h0M462.8,111.8h0M443.8,120.3h0M429.2,117.8h0M435.3,120.4h0M458.2,122.3h0M446.2,125.2h0M429.2,127.3h0M440.3,130.0h0M444.6,130.0h0M477.4,121.2h0M502.0,138.6h0M462.5,146.4h0M434.6,146.5h0M330.5,133.6h0M323.2,128.5h0" stroke="#111" stroke-width="2.6" stroke-linecap="round" fill="none"/>
<text x="306.50" y="60.80" font-size="6.4" fill="#222" textLength="14.20" lengthAdjust="spacingAndGlyphs" stroke="#222" stroke-width="0.15">ASS1</text>
<text x="281.80" y="67.70" font-size="6.4" fill="#222" textLength="20.20" lengthAdjust="spacingAndGlyphs" stroke="#222" stroke-width="0.15">DDX10</text>
<text x="311.70" y="71.00" font-size="6.4" fill="#222" textLength="25.90" lengthAdjust="spacingAndGlyphs" stroke="#222" stroke-width="0.15">SLC16A8</text>
<text x="303.60" y="80.00" font-size="6.4" fill="#222" textLength="44.60" lengthAdjust="spacingAndGlyphs" stroke="#222" stroke-width="0.15">LOC102724159</text>
<text x="287.60" y="87.90" font-size="6.4" fill="#222" textLength="29.80" lengthAdjust="spacingAndGlyphs" stroke="#222" stroke-width="0.15">SERPINH1</text>
<text x="325.10" y="94.40" font-size="6.4" fill="#222" textLength="12.50" lengthAdjust="spacingAndGlyphs" stroke="#222" stroke-width="0.15">CTH</text>
<text x="303.60" y="101.70" font-size="6.4" fill="#222" textLength="20.00" lengthAdjust="spacingAndGlyphs" stroke="#222" stroke-width="0.15">DDX21</text>
<text x="330.00" y="101.70" font-size="6.4" fill="#222" textLength="24.00" lengthAdjust="spacingAndGlyphs" stroke="#222" stroke-width="0.15">FERMT3</text>
<text x="313.60" y="109.80" font-size="6.4" fill="#222" textLength="22.10" lengthAdjust="spacingAndGlyphs" stroke="#222" stroke-width="0.15">SLFN11</text>
<text x="336.70" y="117.10" font-size="6.4" fill="#222" textLength="22.10" lengthAdjust="spacingAndGlyphs" stroke="#222" stroke-width="0.15">SLC4A7</text>
<text x="311.70" y="123.30" font-size="6.4" fill="#222" textLength="16.70" lengthAdjust="spacingAndGlyphs" stroke="#222" stroke-width="0.15">GNL3</text>
<text x="293.40" y="125.20" font-size="6.4" fill="#c0354f" textLength="14.40" lengthAdjust="spacingAndGlyphs" stroke="#c0354f" stroke-width="0.15">TP53</text>
<text x="325.10" y="129.60" font-size="6.4" fill="#222" textLength="15.40" lengthAdjust="spacingAndGlyphs" stroke="#222" stroke-width="0.15">AIM1</text>
<text x="292.40" y="134.40" font-size="6.4" fill="#222" textLength="20.20" lengthAdjust="spacingAndGlyphs" stroke="#222" stroke-width="0.15">CAAP1</text>
<text x="341.50" y="138.70" font-size="6.4" fill="#222" textLength="19.20" lengthAdjust="spacingAndGlyphs" stroke="#222" stroke-width="0.15">THAP4</text>
<text x="315.50" y="140.60" font-size="6.4" fill="#222" textLength="20.20" lengthAdjust="spacingAndGlyphs" stroke="#222" stroke-width="0.15">BAZ1A</text>
<text x="291.00" y="142.50" font-size="6.4" fill="#222" textLength="18.70" lengthAdjust="spacingAndGlyphs" stroke="#222" stroke-width="0.15">SPG11</text>
<text x="283.80" y="151.20" font-size="6.4" fill="#222" textLength="19.20" lengthAdjust="spacingAndGlyphs" stroke="#222" stroke-width="0.15">MINK1</text>
<text x="304.00" y="159.40" font-size="6.4" fill="#222" textLength="20.70" lengthAdjust="spacingAndGlyphs" stroke="#222" stroke-width="0.15">PSMG2</text>
<text x="492.30" y="27.00" font-size="6.4" fill="#222" textLength="16.90" lengthAdjust="spacingAndGlyphs" stroke="#222" stroke-width="0.15">ISG15</text>
<text x="492.30" y="35.50" font-size="6.4" fill="#222" textLength="12.10" lengthAdjust="spacingAndGlyphs" stroke="#222" stroke-width="0.15">MX1</text>
<text x="448.50" y="88.90" font-size="6.4" fill="#222" textLength="12.30" lengthAdjust="spacingAndGlyphs" stroke="#222" stroke-width="0.15">IRF9</text>
<text x="413.80" y="93.10" font-size="6.4" fill="#222" textLength="23.90" lengthAdjust="spacingAndGlyphs" stroke="#222" stroke-width="0.15">PPFIBP1</text>
<text x="455.00" y="96.20" font-size="6.4" fill="#222" textLength="16.00" lengthAdjust="spacingAndGlyphs" stroke="#222" stroke-width="0.15">OAS1</text>
<text x="433.00" y="102.30" font-size="6.4" fill="#222" textLength="18.50" lengthAdjust="spacingAndGlyphs" stroke="#222" stroke-width="0.15">STAT1</text>
<text x="410.00" y="108.90" font-size="6.4" fill="#222" textLength="22.30" lengthAdjust="spacingAndGlyphs" stroke="#222" stroke-width="0.15">ATP2B4</text>
<text x="460.80" y="107.70" font-size="6.4" fill="#222" textLength="19.70" lengthAdjust="spacingAndGlyphs" stroke="#222" stroke-width="0.15">XRCC2</text>
<text x="436.60" y="115.00" font-size="6.4" fill="#222" textLength="21.10" lengthAdjust="spacingAndGlyphs" stroke="#222" stroke-width="0.15">MPEG1</text>
<text x="475.50" y="115.20" font-size="6.4" fill="#222" textLength="21.80" lengthAdjust="spacingAndGlyphs" stroke="#222" stroke-width="0.15">GMEB2</text>
<text x="386.00" y="119.80" font-size="6.4" fill="#222" textLength="25.50" lengthAdjust="spacingAndGlyphs" stroke="#222" stroke-width="0.15">SAMHD1</text>
<text x="457.00" y="121.00" font-size="6.4" fill="#222" textLength="15.30" lengthAdjust="spacingAndGlyphs" stroke="#222" stroke-width="0.15">YIPF3</text>
<text x="416.20" y="127.20" font-size="6.4" fill="#222" textLength="26.80" lengthAdjust="spacingAndGlyphs" stroke="#222" stroke-width="0.15">SNX29P2</text>
<text x="447.70" y="129.00" font-size="6.4" fill="#222" textLength="31.50" lengthAdjust="spacingAndGlyphs" stroke="#222" stroke-width="0.15">C10ORF71</text>
<text x="395.40" y="134.20" font-size="6.4" fill="#222" textLength="20.80" lengthAdjust="spacingAndGlyphs" stroke="#222" stroke-width="0.15">SDCBP</text>
<text x="439.20" y="137.30" font-size="6.4" fill="#222" textLength="17.00" lengthAdjust="spacingAndGlyphs" stroke="#222" stroke-width="0.15">BMP3</text>
<text x="481.80" y="137.80" font-size="6.4" fill="#222" textLength="21.50" lengthAdjust="spacingAndGlyphs" stroke="#222" stroke-width="0.15">MTCH1</text>
<text x="415.00" y="142.40" font-size="6.4" fill="#222" textLength="19.20" lengthAdjust="spacingAndGlyphs" stroke="#222" stroke-width="0.15">RAB43</text>
<text x="451.40" y="145.10" font-size="6.4" fill="#222" textLength="20.80" lengthAdjust="spacingAndGlyphs" stroke="#222" stroke-width="0.15">RAD9A</text>
<text x="410.50" y="149.20" font-size="6.4" fill="#222" textLength="14.50" lengthAdjust="spacingAndGlyphs" stroke="#222" stroke-width="0.15">TFEB</text>
<text x="430.00" y="153.90" font-size="6.4" fill="#222" textLength="17.00" lengthAdjust="spacingAndGlyphs" stroke="#222" stroke-width="0.15">CTTN</text>
<line x1="383.50" y1="17.70" x2="383.50" y2="250.20" stroke="#111" stroke-width="1.2" />
<rect x="279.20" y="17.70" width="233.60" height="232.50" fill="none" stroke="#111" stroke-width="1.1" />
<line x1="279.25" y1="17.70" x2="279.25" y2="250.80" stroke="#000" stroke-width="1.5" />
<line x1="275.60" y1="240.20" x2="279.20" y2="240.20" stroke="#111" stroke-width="1.1" />
<text x="273.00" y="242.20" font-size="6.9" fill="#333" text-anchor="end" stroke="#333" stroke-width="0.15">0</text>
<line x1="275.60" y1="160.60" x2="279.20" y2="160.60" stroke="#111" stroke-width="1.1" />
<text x="273.00" y="162.60" font-size="6.9" fill="#333" text-anchor="end" stroke="#333" stroke-width="0.15">2</text>
<line x1="275.60" y1="81.00" x2="279.20" y2="81.00" stroke="#111" stroke-width="1.1" />
<text x="273.00" y="83.00" font-size="6.9" fill="#333" text-anchor="end" stroke="#333" stroke-width="0.15">4</text>
<line x1="305.50" y1="250.20" x2="305.50" y2="255.20" stroke="#111" stroke-width="1" />
<text x="305.50" y="265.80" font-size="7" fill="#333" text-anchor="middle" stroke="#333" stroke-width="0.15">&#8722;1</text>
<line x1="383.50" y1="250.20" x2="383.50" y2="255.20" stroke="#111" stroke-width="1" />
<text x="383.50" y="265.80" font-size="7" fill="#333" text-anchor="middle" stroke="#333" stroke-width="0.15">0</text>
<line x1="461.50" y1="250.20" x2="461.50" y2="255.20" stroke="#111" stroke-width="1" />
<text x="461.50" y="265.80" font-size="7" fill="#333" text-anchor="middle" stroke="#333" stroke-width="0.15">1</text>
<text x="395.60" y="276.60" font-size="8.2" fill="#3a3a3a" text-anchor="middle" textLength="55.80" lengthAdjust="spacingAndGlyphs" stroke="#3a3a3a" stroke-width="0.15">log2 fold change</text>
<text x="264.00" y="135.00" font-size="8.2" fill="#3a3a3a" text-anchor="middle" textLength="41.00" lengthAdjust="spacingAndGlyphs" transform="rotate(-90 264 135)" stroke="#3a3a3a" stroke-width="0.15">-log10 raw <tspan font-style="italic">P</tspan></text>
<text x="396.20" y="13.60" font-size="8.1" fill="#111" font-weight="bold" text-anchor="middle" textLength="170.80" lengthAdjust="spacingAndGlyphs">Namalwa shTRRAP vs. shNT (total proteome)</text>
<text x="283.70" y="247.90" font-size="5.5" fill="#111" font-weight="bold" textLength="18.00" lengthAdjust="spacingAndGlyphs">shNT</text>
<text x="509.80" y="247.90" font-size="5.5" fill="#111" font-weight="bold" text-anchor="end" textLength="26.80" lengthAdjust="spacingAndGlyphs">shTRRAP</text>
<rect x="0" y="0" width="520" height="629" fill="none" stroke="#000" stroke-width="2.6"/>
</svg></body></html>
